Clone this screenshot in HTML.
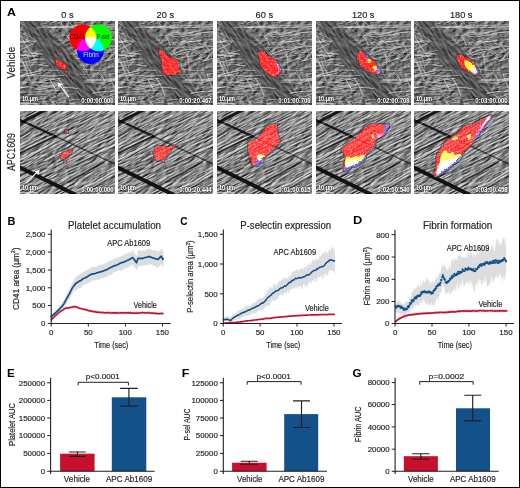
<!DOCTYPE html><html><head><meta charset="utf-8"><style>html,body{margin:0;padding:0;background:#fff;}svg{display:block;}text{font-family:"Liberation Sans",sans-serif;}text.k{stroke:#231f20;stroke-width:0.18px;}</style></head><body>
<svg width="520" height="488" viewBox="0 0 520 488">
<rect x="0" y="0" width="520" height="488" fill="#fff"/>
<text x="6.99" y="15.60" font-size="11" fill="#000" font-weight="bold" textLength="8.93" lengthAdjust="spacingAndGlyphs" >A</text>
<text x="61.23" y="17.50" font-size="9.75" fill="#231f20" class="k" textLength="12.32" lengthAdjust="spacingAndGlyphs" >0 s</text>
<text x="156.61" y="17.50" font-size="9.75" fill="#231f20" class="k" textLength="17.45" lengthAdjust="spacingAndGlyphs" >20 s</text>
<text x="255.61" y="17.50" font-size="9.75" fill="#231f20" class="k" textLength="17.45" lengthAdjust="spacingAndGlyphs" >60 s</text>
<text x="351.92" y="17.50" font-size="9.75" fill="#231f20" class="k" textLength="22.59" lengthAdjust="spacingAndGlyphs" >120 s</text>
<text x="449.92" y="17.50" font-size="9.75" fill="#231f20" class="k" textLength="22.59" lengthAdjust="spacingAndGlyphs" >180 s</text>
<text transform="translate(14.90,78.44) rotate(-90)" font-size="10" fill="#231f20" class="k" textLength="31.67" lengthAdjust="spacingAndGlyphs">Vehicle</text>
<text transform="translate(14.90,171.12) rotate(-90)" font-size="10" fill="#231f20" class="k" textLength="38.14" lengthAdjust="spacingAndGlyphs">APC1609</text>
<defs>
<filter id="fA" x="0" y="0" width="1" height="1" color-interpolation-filters="sRGB">
  <feTurbulence type="fractalNoise" baseFrequency="0.12 0.6" numOctaves="3" seed="3" result="n"/>
  <feColorMatrix in="n" type="matrix" values="1 0 0 0 0  1 0 0 0 0  1 0 0 0 0  0 0 0 0 1" result="g"/>
  <feConvolveMatrix in="g" order="3" kernelMatrix="2 2 0  2 0 -2  0 -2 -2" divisor="3" bias="0.44" preserveAlpha="true"/>
</filter>
<filter id="fB" x="0" y="0" width="1" height="1" color-interpolation-filters="sRGB">
  <feTurbulence type="turbulence" baseFrequency="0.06 0.5" numOctaves="3" seed="5"/>
  <feColorMatrix type="matrix" values="-1.3 0 0 0 0.8  -1.3 0 0 0 0.8  -1.3 0 0 0 0.8  0 0 0 0 1"/>
</filter>
<filter id="fA2" x="0" y="0" width="1" height="1" color-interpolation-filters="sRGB">
  <feTurbulence type="fractalNoise" baseFrequency="0.1 0.7" numOctaves="3" seed="11" result="n"/>
  <feColorMatrix in="n" type="matrix" values="1 0 0 0 0  1 0 0 0 0  1 0 0 0 0  0 0 0 0 1" result="g"/>
  <feConvolveMatrix in="g" order="3" kernelMatrix="2 2 0  2 0 -2  0 -2 -2" divisor="3" bias="0.44" preserveAlpha="true"/>
</filter>
<filter id="fB2" x="0" y="0" width="1" height="1" color-interpolation-filters="sRGB">
  <feTurbulence type="turbulence" baseFrequency="0.05 0.55" numOctaves="3" seed="17"/>
  <feColorMatrix type="matrix" values="-1.3 0 0 0 0.8  -1.3 0 0 0 0.8  -1.3 0 0 0 0.8  0 0 0 0 1"/>
</filter>
<filter id="fR2" x="0" y="0" width="1" height="1" color-interpolation-filters="sRGB">
  <feTurbulence type="fractalNoise" baseFrequency="0.08 0.8" numOctaves="3" seed="23" result="n"/>
  <feColorMatrix in="n" type="matrix" values="1 0 0 0 0  1 0 0 0 0  1 0 0 0 0  0 0 0 0 1" result="g"/>
  <feConvolveMatrix in="g" order="3" kernelMatrix="2 2 0  2 0 -2  0 -2 -2" divisor="2.5" bias="0.515" preserveAlpha="true"/>
</filter>
<filter id="fS2" x="0" y="0" width="1" height="1" color-interpolation-filters="sRGB">
  <feTurbulence type="turbulence" baseFrequency="0.04 0.6" numOctaves="3" seed="29"/>
  <feColorMatrix type="matrix" values="-1.2 0 0 0 0.85  -1.2 0 0 0 0.85  -1.2 0 0 0 0.85  0 0 0 0 1"/>
</filter>
<filter id="fC1" x="0" y="0" width="1" height="1" color-interpolation-filters="sRGB">
  <feTurbulence type="fractalNoise" baseFrequency="0.16 0.3" numOctaves="3" seed="31" result="n"/>
  <feColorMatrix in="n" type="matrix" values="1 0 0 0 0  1 0 0 0 0  1 0 0 0 0  0 0 0 0 1" result="g"/>
  <feConvolveMatrix in="g" order="3" kernelMatrix="2 2 0  2 0 -2  0 -2 -2" divisor="6" bias="0.41" preserveAlpha="true"/>
</filter>
<filter id="fV" x="0" y="0" width="1" height="1" color-interpolation-filters="sRGB">
  <feTurbulence type="fractalNoise" baseFrequency="0.1 0.6" numOctaves="3" seed="41" result="n"/>
  <feColorMatrix in="n" type="matrix" values="1 0 0 0 0  1 0 0 0 0  1 0 0 0 0  0 0 0 0 1" result="g"/>
  <feConvolveMatrix in="g" order="3" kernelMatrix="2 2 0  2 0 -2  0 -2 -2" divisor="9" bias="0.34" preserveAlpha="true"/>
</filter>
<filter id="bl15" x="-30%" y="-30%" width="160%" height="160%"><feGaussianBlur stdDeviation="1.8"/></filter>
<filter id="bl3" x="-30%" y="-30%" width="160%" height="160%"><feGaussianBlur stdDeviation="3.5"/></filter>
<filter id="bl03" x="-5%" y="-5%" width="110%" height="110%"><feGaussianBlur stdDeviation="0.45"/></filter>
<filter id="bl05" x="-20%" y="-20%" width="140%" height="140%"><feGaussianBlur stdDeviation="0.45"/></filter>
<filter id="hfx" x="-20%" y="-20%" width="140%" height="140%" color-interpolation-filters="sRGB">
  <feMorphology operator="dilate" radius="0.75" in="SourceAlpha" result="d"/>
  <feComposite in="d" in2="SourceAlpha" operator="out" result="ring"/>
  <feFlood flood-color="#1f3c3e" flood-opacity="0.6"/>
  <feComposite in2="ring" operator="in" result="h"/>
  <feGaussianBlur in="h" stdDeviation="0.35"/>
</filter>
<filter id="spk" x="-5%" y="-5%" width="110%" height="110%" color-interpolation-filters="sRGB">
  <feTurbulence type="fractalNoise" baseFrequency="0.65" numOctaves="2" seed="2" result="t"/>
  <feColorMatrix in="t" type="matrix" values="0 0 0 0 1  0 0 0 0 1  0 0 0 0 1  2.0 0 0 0 -0.95" result="w"/>
  <feComposite in="w" in2="SourceAlpha" operator="in" result="ws"/>
  <feMerge><feMergeNode in="SourceGraphic"/><feMergeNode in="ws"/></feMerge>
</filter>
<filter id="rag" x="-5%" y="-5%" width="110%" height="110%" color-interpolation-filters="sRGB">
  <feTurbulence type="fractalNoise" baseFrequency="0.7" numOctaves="2" seed="8" result="t"/>
  <feDisplacementMap in="SourceGraphic" in2="t" scale="2.6" xChannelSelector="R" yChannelSelector="G"/>
</filter>
<filter id="ragspk" x="-5%" y="-5%" width="110%" height="110%" color-interpolation-filters="sRGB">
  <feTurbulence type="fractalNoise" baseFrequency="0.7" numOctaves="2" seed="8" result="t"/>
  <feDisplacementMap in="SourceGraphic" in2="t" scale="2.6" xChannelSelector="R" yChannelSelector="G" result="sg"/>
  <feTurbulence type="fractalNoise" baseFrequency="0.55" numOctaves="2" seed="2" result="t2"/>
  <feColorMatrix in="t2" type="matrix" values="0 0 0 0 1  0 0 0 0 0.85  0 0 0 0 0.85  1.5 0 0 0 -0.72" result="w"/>
  <feComposite in="w" in2="sg" operator="in" result="ws"/>
  <feMerge><feMergeNode in="sg"/><feMergeNode in="ws"/></feMerge>
</filter>
<filter id="bfx" x="-20%" y="-20%" width="140%" height="140%" color-interpolation-filters="sRGB">
  <feMorphology operator="dilate" radius="0.7" in="SourceAlpha" result="d"/>
  <feFlood flood-color="#355a5c" flood-opacity="0.75"/>
  <feComposite in2="d" operator="in" result="h"/>
  <feGaussianBlur in="h" stdDeviation="0.45" result="hb"/>
  <feTurbulence type="fractalNoise" baseFrequency="0.55" numOctaves="2" seed="2" result="t"/>
  <feColorMatrix in="t" type="matrix" values="0 0 0 0 1  0 0 0 0 0.7  0 0 0 0 0.7  2.2 0 0 0 -0.95" result="w"/>
  <feComposite in="w" in2="SourceAlpha" operator="in" result="ws"/>
  <feMerge><feMergeNode in="hb"/><feMergeNode in="SourceGraphic"/><feMergeNode in="ws"/></feMerge>
</filter>
<mask id="mD" maskUnits="userSpaceOnUse" x="-10" y="-10" width="115" height="104">
  <polygon points="-5,8 38,0 68,38 100,72 100,92 42,92 -5,52" fill="#fff" filter="url(#bl3)"/>
</mask>
<clipPath id="pc1"><rect x="0" y="0" width="95" height="84"/></clipPath>
<clipPath id="pc2"><rect x="0" y="0" width="95" height="83"/></clipPath>

<mask id="vbm" maskUnits="userSpaceOnUse" x="-10" y="-10" width="115" height="104">
  <polygon points="-3,-2 3.7,7.3 21.9,36.6 45.7,65.8 60.3,86 89,86 80.4,73.1 62.2,47.5 47.5,27.4 27.4,9.1 18,-2" fill="#fff" filter="url(#bl15)"/>
</mask>
<g id="bg1">
  <g transform="rotate(-20 47 42)"><rect x="-40" y="-40" width="180" height="170" filter="url(#fC1)"/></g>
  <g mask="url(#vbm)"><g transform="rotate(55 47 42)"><rect x="-40" y="-40" width="180" height="170" filter="url(#fV)"/></g></g>
  <g filter="url(#bl03)"><g fill="none" stroke="#1a1a1a" stroke-linecap="round"><path d="M89.8,54.1 L91.6,59.6 L93.8,64.9 L96.3,70.0 L99.3,74.9" stroke-width="1.04" opacity="0.43"/><path d="M36.9,20.4 L40.9,20.5 L44.9,20.4 L48.8,20.2 L52.8,19.8" stroke-width="0.63" opacity="0.20"/><path d="M83.5,67.2 L87.6,66.5 L91.8,66.2 L96.0,66.2 L100.2,66.5" stroke-width="0.50" opacity="0.25"/><path d="M10.7,8.2 L14.2,12.7 L17.7,17.2 L21.1,21.8 L24.5,26.4" stroke-width="1.08" opacity="0.10"/><path d="M58.0,9.8 L62.0,13.5 L66.3,16.9 L70.8,20.1 L75.6,22.9" stroke-width="0.72" opacity="0.31"/><path d="M53.4,-3.4 L56.2,-2.6 L58.9,-1.8 L61.7,-1.0 L64.4,-0.2" stroke-width="0.99" opacity="0.31"/><path d="M-1.1,85.8 L0.3,85.7 L1.6,85.6 L2.9,85.5 L4.3,85.5" stroke-width="0.72" opacity="0.48"/><path d="M-14.1,6.7 L-9.1,3.7 L-3.8,1.2 L1.6,-0.9 L7.2,-2.5" stroke-width="0.95" opacity="0.27"/><path d="M91.2,30.2 L92.8,29.4 L94.4,28.7 L96.1,28.1 L97.8,27.6" stroke-width="0.98" opacity="0.47"/><path d="M-6.3,83.7 L-3.4,83.5 L-0.5,83.2 L2.3,82.8 L5.1,82.4" stroke-width="1.05" opacity="0.42"/><path d="M89.4,47.3 L91.0,46.9 L92.6,46.6 L94.2,46.5 L95.9,46.6" stroke-width="0.91" opacity="0.25"/><path d="M7.9,-4.9 L10.4,-1.4 L12.7,2.2 L15.0,5.8 L17.2,9.5" stroke-width="0.64" opacity="0.11"/><path d="M79.7,38.1 L81.0,38.7 L82.3,39.1 L83.7,39.5 L85.1,39.7" stroke-width="1.00" opacity="0.38"/><path d="M74.4,7.2 L76.4,7.4 L78.3,7.5 L80.3,7.6 L82.3,7.7" stroke-width="0.68" opacity="0.50"/><path d="M92.8,69.3 L96.6,72.0 L100.4,74.8 L104.3,77.4 L108.3,79.9" stroke-width="0.67" opacity="0.37"/><path d="M4.3,22.4 L7.4,27.3 L10.7,32.0 L14.1,36.7 L17.7,41.3" stroke-width="0.80" opacity="0.43"/><path d="M-0.2,13.9 L2.6,18.0 L5.2,22.2 L7.7,26.5 L10.1,30.9" stroke-width="0.92" opacity="0.48"/><path d="M71.4,27.3 L73.5,28.8 L75.5,30.5 L77.4,32.2 L79.3,33.9" stroke-width="0.96" opacity="0.37"/><path d="M21.3,77.3 L23.9,80.2 L26.4,83.0 L29.0,85.9 L31.6,88.7" stroke-width="0.90" opacity="0.29"/><path d="M77.5,51.8 L79.7,53.8 L81.6,55.9 L83.5,58.2 L85.2,60.5" stroke-width="0.94" opacity="0.43"/><path d="M22.9,67.0 L27.3,70.9 L31.9,74.4 L36.7,77.6 L41.8,80.5" stroke-width="0.82" opacity="0.39"/><path d="M5.1,65.9 L9.5,66.7 L13.8,67.7 L18.0,68.9 L22.2,70.4" stroke-width="0.87" opacity="0.35"/><path d="M7.4,30.7 L9.6,34.4 L12.0,37.9 L14.6,41.2 L17.4,44.5" stroke-width="0.78" opacity="0.22"/><path d="M-2.9,9.1 L-0.8,9.5 L1.3,9.9 L3.4,10.3 L5.4,10.7" stroke-width="0.52" opacity="0.27"/><path d="M14.3,80.4 L17.5,79.9 L20.6,79.3 L23.7,78.7 L26.9,78.0" stroke-width="1.00" opacity="0.24"/><path d="M-8.3,53.1 L-4.4,52.6 L-0.6,52.4 L3.2,52.6 L7.1,53.2" stroke-width="0.85" opacity="0.32"/><path d="M78.7,33.1 L80.3,34.1 L81.8,35.4 L83.2,36.7 L84.4,38.2" stroke-width="0.84" opacity="0.41"/><path d="M86.5,54.9 L91.8,53.7 L97.2,52.5 L102.6,51.5 L108.0,50.5" stroke-width="0.56" opacity="0.20"/><path d="M56.9,4.8 L59.0,7.5 L60.7,10.3 L62.2,13.2 L63.4,16.3" stroke-width="0.67" opacity="0.28"/><path d="M29.4,79.0 L32.4,81.7 L35.5,84.4 L38.5,87.1 L41.6,89.8" stroke-width="1.09" opacity="0.29"/><path d="M34.2,20.3 L36.7,23.5 L39.2,26.7 L41.7,29.8 L44.2,32.9" stroke-width="0.87" opacity="0.08"/><path d="M24.7,66.2 L25.7,67.1 L26.6,68.1 L27.3,69.2 L28.0,70.3" stroke-width="0.66" opacity="0.39"/><path d="M72.5,18.8 L75.1,19.3 L77.7,19.9 L80.3,20.5 L82.9,21.2" stroke-width="0.78" opacity="0.42"/><path d="M70.1,22.9 L72.8,24.0 L75.4,25.0 L78.1,26.0 L80.8,27.0" stroke-width="0.82" opacity="0.31"/><path d="M30.1,59.0 L31.9,62.0 L33.6,64.9 L35.2,67.9 L36.9,70.9" stroke-width="1.03" opacity="0.53"/><path d="M-10.8,68.3 L-6.9,68.1 L-2.9,68.0 L1.1,67.8 L5.1,67.6" stroke-width="0.88" opacity="0.45"/><path d="M86.0,32.6 L88.7,32.3 L91.3,32.2 L94.0,32.3 L96.6,32.6" stroke-width="0.54" opacity="0.50"/><path d="M58.7,38.5 L63.6,37.7 L68.5,36.9 L73.4,36.1 L78.3,35.3" stroke-width="0.59" opacity="0.53"/><path d="M6.5,41.8 L8.5,46.6 L10.9,51.1 L13.7,55.4 L17.0,59.5" stroke-width="0.90" opacity="0.49"/><path d="M65.9,77.7 L68.4,82.1 L71.0,86.3 L73.9,90.4 L77.0,94.3" stroke-width="1.01" opacity="0.07"/><path d="M6.6,18.6 L7.8,21.6 L9.2,24.5 L10.9,27.3 L12.8,29.9" stroke-width="0.87" opacity="0.26"/><path d="M3.9,31.7 L5.5,31.7 L7.0,31.8 L8.5,32.0 L10.0,32.4" stroke-width="0.95" opacity="0.41"/><path d="M-1.4,39.4 L4.1,37.7 L9.6,36.3 L15.2,35.1 L20.8,34.1" stroke-width="0.53" opacity="0.33"/><path d="M0.5,56.8 L6.1,56.2 L11.6,55.2 L17.0,54.1 L22.4,52.6" stroke-width="0.87" opacity="0.40"/><path d="M50.0,17.6 L51.6,19.3 L53.3,21.0 L55.1,22.5 L57.0,24.0" stroke-width="0.94" opacity="0.33"/><path d="M61.7,57.6 L66.1,57.1 L70.5,56.7 L74.9,56.4 L79.3,56.1" stroke-width="0.57" opacity="0.23"/><path d="M17.9,77.4 L19.3,77.3 L20.7,77.0 L22.0,76.7 L23.4,76.2" stroke-width="0.53" opacity="0.46"/><path d="M92.0,58.5 L93.8,58.7 L95.6,59.0 L97.4,59.4 L99.1,59.9" stroke-width="0.90" opacity="0.55"/><path d="M2.0,54.6 L6.1,54.8 L10.3,54.7 L14.5,54.4 L18.6,53.7" stroke-width="0.73" opacity="0.33"/><path d="M79.8,50.3 L81.4,53.2 L83.0,56.2 L84.5,59.1 L85.9,62.1" stroke-width="0.81" opacity="0.51"/><path d="M-7.2,78.4 L-3.7,78.2 L-0.3,78.0 L3.2,77.8 L6.7,77.4" stroke-width="0.87" opacity="0.52"/><path d="M40.5,7.2 L42.5,6.8 L44.5,6.6 L46.5,6.5 L48.5,6.6" stroke-width="0.73" opacity="0.33"/><path d="M6.8,20.7 L9.2,20.5 L11.6,20.4 L13.9,20.5 L16.3,20.8" stroke-width="0.52" opacity="0.37"/><path d="M29.9,74.6 L31.7,78.7 L33.8,82.7 L36.1,86.4 L38.8,90.0" stroke-width="1.07" opacity="0.37"/><path d="M62.9,20.8 L64.1,22.6 L65.5,24.3 L67.0,25.9 L68.7,27.4" stroke-width="0.64" opacity="0.21"/><path d="M32.3,86.5 L35.0,85.8 L37.7,85.3 L40.4,84.9 L43.1,84.6" stroke-width="0.67" opacity="0.37"/><path d="M62.6,14.9 L67.0,14.3 L71.2,13.4 L75.3,12.1 L79.3,10.3" stroke-width="1.09" opacity="0.36"/><path d="M-0.7,69.3 L0.7,68.6 L2.0,68.0 L3.3,67.4 L4.6,66.8" stroke-width="1.09" opacity="0.40"/><path d="M21.0,5.3 L26.6,6.6 L32.3,7.4 L37.9,7.6 L43.7,7.4" stroke-width="0.65" opacity="0.22"/><path d="M31.1,4.5 L34.3,4.3 L37.4,3.9 L40.5,3.1 L43.6,2.1" stroke-width="0.53" opacity="0.31"/><path d="M94.4,14.8 L96.0,14.4 L97.6,14.0 L99.2,13.6 L100.8,13.2" stroke-width="0.56" opacity="0.31"/><path d="M90.1,47.8 L91.2,49.8 L92.3,51.8 L93.5,53.7 L94.6,55.7" stroke-width="0.82" opacity="0.21"/><path d="M51.8,27.9 L53.5,30.0 L55.4,32.0 L57.3,33.9 L59.4,35.6" stroke-width="1.00" opacity="0.36"/><path d="M-1.1,30.2 L3.6,28.6 L8.1,26.6 L12.4,24.3 L16.6,21.7" stroke-width="0.69" opacity="0.49"/><path d="M-0.4,21.3 L2.0,20.9 L4.3,20.4 L6.6,19.6 L8.9,18.6" stroke-width="0.92" opacity="0.22"/><path d="M-3.7,35.5 L1.1,35.4 L6.0,35.5 L10.8,35.7 L15.6,36.0" stroke-width="1.04" opacity="0.40"/><path d="M63.8,49.2 L69.6,49.8 L75.4,50.2 L81.1,50.2 L86.9,50.0" stroke-width="0.92" opacity="0.46"/><path d="M77.9,33.2 L79.4,32.7 L80.8,32.2 L82.3,31.8 L83.9,31.4" stroke-width="0.66" opacity="0.26"/><path d="M23.5,1.4 L24.7,2.4 L25.7,3.5 L26.7,4.6 L27.6,5.8" stroke-width="0.71" opacity="0.25"/><path d="M88.7,53.5 L92.0,53.7 L95.3,53.6 L98.6,53.2 L101.8,52.4" stroke-width="0.70" opacity="0.33"/><path d="M-5.7,47.0 L-0.0,46.6 L5.7,46.0 L11.3,45.3 L16.9,44.3" stroke-width="0.57" opacity="0.49"/><path d="M85.2,41.1 L88.4,40.2 L91.7,39.3 L94.9,38.5 L98.2,37.7" stroke-width="1.06" opacity="0.48"/><path d="M94.4,51.5 L95.9,51.5 L97.4,51.5 L98.9,51.5 L100.4,51.5" stroke-width="0.52" opacity="0.55"/><path d="M41.8,78.3 L44.0,77.8 L46.2,77.2 L48.4,76.7 L50.6,76.2" stroke-width="0.62" opacity="0.30"/><path d="M21.4,67.2 L27.2,66.2 L33.0,65.2 L38.9,64.4 L44.8,63.7" stroke-width="1.01" opacity="0.50"/><path d="M33.9,4.7 L35.5,7.9 L37.2,11.1 L39.2,14.1 L41.4,16.9" stroke-width="0.60" opacity="0.21"/><path d="M74.7,18.1 L77.0,22.6 L79.3,27.1 L81.6,31.5 L83.9,36.0" stroke-width="0.51" opacity="0.34"/><path d="M51.9,15.9 L54.6,15.3 L57.2,14.7 L59.9,13.9 L62.5,13.1" stroke-width="0.69" opacity="0.21"/><path d="M93.2,66.1 L96.0,68.6 L98.8,71.2 L101.6,73.8 L104.3,76.4" stroke-width="0.72" opacity="0.49"/><path d="M63.9,45.9 L65.4,45.4 L66.9,44.8 L68.5,44.4 L70.0,43.9" stroke-width="0.71" opacity="0.23"/><path d="M66.1,61.7 L70.7,61.7 L75.4,61.9 L80.0,62.2 L84.6,62.7" stroke-width="0.95" opacity="0.23"/><path d="M88.7,71.2 L92.1,75.3 L95.6,79.1 L99.4,82.7 L103.5,86.1" stroke-width="0.87" opacity="0.47"/><path d="M43.7,77.6 L46.7,78.4 L49.8,78.9 L52.9,79.3 L56.0,79.5" stroke-width="0.73" opacity="0.20"/><path d="M58.8,71.4 L61.7,75.0 L64.5,78.7 L67.1,82.4 L69.6,86.3" stroke-width="0.57" opacity="0.11"/><path d="M77.7,18.1 L83.2,17.1 L88.7,16.5 L94.2,16.1 L99.7,16.0" stroke-width="0.88" opacity="0.26"/><path d="M82.5,23.7 L86.4,25.0 L90.5,25.9 L94.6,26.4 L98.7,26.5" stroke-width="0.61" opacity="0.55"/><path d="M2.9,42.0 L5.5,45.1 L8.0,48.3 L10.4,51.6 L12.6,55.1" stroke-width="0.91" opacity="0.43"/><path d="M-4.0,31.7 L-0.8,36.5 L2.3,41.3 L5.3,46.3 L8.1,51.4" stroke-width="1.01" opacity="0.31"/><path d="M91.1,15.6 L91.8,17.2 L92.7,18.7 L93.6,20.1 L94.7,21.5" stroke-width="0.59" opacity="0.27"/><path d="M2.1,55.6 L6.7,54.0 L11.4,52.7 L16.2,51.7 L21.0,51.0" stroke-width="0.99" opacity="0.47"/><path d="M67.2,77.5 L68.7,79.4 L70.3,81.3 L72.0,83.0 L73.8,84.7" stroke-width="0.54" opacity="0.08"/><path d="M66.5,8.4 L70.0,6.8 L73.6,5.3 L77.1,3.9 L80.7,2.5" stroke-width="0.57" opacity="0.34"/><path d="M31.9,58.4 L33.4,59.0 L34.9,59.6 L36.4,60.1 L37.9,60.5" stroke-width="0.93" opacity="0.47"/><path d="M-1.5,42.6 L3.2,42.1 L7.9,41.4 L12.6,40.5 L17.2,39.4" stroke-width="0.73" opacity="0.53"/><path d="M53.1,24.4 L54.6,24.4 L56.1,24.4 L57.5,24.5 L59.0,24.7" stroke-width="0.64" opacity="0.35"/><path d="M-3.5,24.0 L-0.1,23.3 L3.3,22.4 L6.7,21.6 L10.1,20.6" stroke-width="0.82" opacity="0.55"/><path d="M83.9,6.8 L88.8,6.8 L93.7,6.6 L98.6,6.2 L103.4,5.5" stroke-width="0.51" opacity="0.33"/><path d="M-3.2,12.5 L-1.2,15.2 L1.0,17.8 L3.2,20.2 L5.6,22.6" stroke-width="0.55" opacity="0.37"/><path d="M86.0,58.8 L91.0,58.7 L95.9,58.9 L100.8,59.6 L105.7,60.7" stroke-width="0.86" opacity="0.36"/><path d="M-12.7,67.3 L-7.3,67.4 L-1.9,67.4 L3.5,67.3 L8.9,67.0" stroke-width="1.05" opacity="0.50"/><path d="M97.7,60.1 L98.9,63.1 L100.2,66.1 L101.6,69.0 L103.3,71.8" stroke-width="1.10" opacity="0.55"/><path d="M21.6,57.2 L23.6,57.6 L25.7,58.0 L27.7,58.3 L29.7,58.6" stroke-width="0.54" opacity="0.36"/><path d="M78.6,74.6 L84.1,76.6 L89.7,78.2 L95.3,79.5 L101.1,80.5" stroke-width="0.58" opacity="0.42"/><path d="M88.0,82.4 L90.1,82.2 L92.2,82.1 L94.3,82.1 L96.5,82.1" stroke-width="0.66" opacity="0.35"/><path d="M26.9,72.4 L30.7,69.9 L34.6,67.4 L38.6,65.1 L42.6,62.9" stroke-width="0.57" opacity="0.23"/><path d="M48.8,85.8 L52.7,85.0 L56.6,84.5 L60.6,84.1 L64.5,83.8" stroke-width="0.83" opacity="0.29"/><path d="M7.8,35.0 L9.0,38.0 L10.0,41.1 L10.8,44.2 L11.4,47.4" stroke-width="0.87" opacity="0.38"/><path d="M-4.7,43.3 L-1.6,43.3 L1.5,43.2 L4.6,43.0 L7.6,42.6" stroke-width="0.51" opacity="0.32"/><path d="M36.6,49.0 L40.3,52.4 L43.6,56.2 L46.6,60.3 L49.1,64.7" stroke-width="1.07" opacity="0.17"/><path d="M24.9,8.9 L26.1,10.9 L27.3,12.9 L28.5,14.9 L29.7,16.9" stroke-width="0.94" opacity="0.11"/><path d="M32.9,82.5 L34.6,81.8 L36.4,81.1 L38.2,80.4 L40.0,79.7" stroke-width="0.80" opacity="0.33"/><path d="M14.1,39.3 L15.7,38.8 L17.3,38.4 L19.0,38.2 L20.7,38.2" stroke-width="0.59" opacity="0.32"/><path d="M67.0,16.0 L70.5,18.4 L73.8,21.0 L77.0,23.9 L79.9,27.0" stroke-width="0.66" opacity="0.29"/><path d="M37.9,79.4 L39.8,79.0 L41.6,78.6 L43.5,78.3 L45.4,77.9" stroke-width="0.94" opacity="0.22"/><path d="M-6.1,0.7 L-4.7,1.2 L-3.3,1.7 L-2.0,2.2 L-0.7,2.9" stroke-width="0.57" opacity="0.41"/><path d="M86.3,8.4 L90.8,8.2 L95.3,8.0 L99.7,7.7 L104.2,7.4" stroke-width="0.54" opacity="0.23"/><path d="M0.9,51.2 L2.1,53.4 L3.1,55.7 L4.0,58.0 L4.8,60.3" stroke-width="0.50" opacity="0.31"/><path d="M45.8,78.6 L47.8,78.6 L49.8,78.7 L51.8,79.1 L53.7,79.6" stroke-width="0.66" opacity="0.28"/><path d="M1.2,33.5 L2.5,34.8 L3.9,36.2 L5.2,37.5 L6.6,38.9" stroke-width="0.91" opacity="0.38"/><path d="M50.8,80.8 L53.3,80.1 L55.7,79.6 L58.2,79.3 L60.8,79.2" stroke-width="0.82" opacity="0.38"/><path d="M-1.6,20.9 L2.7,21.6 L6.9,21.9 L11.1,21.9 L15.4,21.5" stroke-width="1.07" opacity="0.43"/><path d="M68.0,29.5 L72.3,29.4 L76.6,28.9 L80.7,28.1 L84.8,26.8" stroke-width="0.85" opacity="0.50"/><path d="M93.4,27.7 L95.2,30.4 L97.3,32.8 L99.5,35.1 L101.9,37.2" stroke-width="0.56" opacity="0.32"/><path d="M68.5,32.9 L69.8,33.7 L71.0,34.6 L72.2,35.7 L73.3,36.8" stroke-width="0.61" opacity="0.31"/><path d="M1.3,34.6 L4.0,34.6 L6.6,34.9 L9.2,35.4 L11.7,36.1" stroke-width="0.81" opacity="0.24"/><path d="M85.1,40.2 L90.0,40.6 L95.0,40.7 L99.8,40.3 L104.7,39.5" stroke-width="0.82" opacity="0.24"/><path d="M87.6,47.9 L93.4,47.3 L99.3,46.7 L105.1,46.1 L110.9,45.6" stroke-width="0.63" opacity="0.35"/><path d="M87.7,21.9 L89.9,27.1 L92.1,32.2 L94.2,37.4 L96.3,42.6" stroke-width="0.99" opacity="0.32"/><path d="M2.8,-6.4 L6.2,-1.6 L9.9,3.0 L13.7,7.5 L17.7,11.9" stroke-width="0.80" opacity="0.13"/><path d="M64.0,21.3 L68.9,21.5 L73.8,21.5 L78.6,21.2 L83.4,20.7" stroke-width="0.58" opacity="0.42"/><path d="M92.0,9.1 L96.2,9.3 L100.4,9.6 L104.5,10.0 L108.7,10.7" stroke-width="0.60" opacity="0.51"/><path d="M0.8,49.9 L3.7,50.4 L6.6,50.6 L9.6,50.6 L12.5,50.3" stroke-width="0.93" opacity="0.22"/><path d="M67.5,21.3 L71.5,24.9 L75.6,28.5 L79.8,31.8 L84.2,35.1" stroke-width="0.67" opacity="0.53"/><path d="M81.4,11.3 L84.5,10.4 L87.6,9.7 L90.8,9.0 L94.0,8.4" stroke-width="0.58" opacity="0.55"/><path d="M64.5,62.7 L69.8,62.5 L75.1,62.7 L80.4,63.3 L85.7,64.2" stroke-width="0.75" opacity="0.44"/><path d="M61.5,23.3 L64.2,25.6 L66.9,28.2 L69.3,30.9 L71.6,33.7" stroke-width="0.87" opacity="0.46"/><path d="M1.9,42.3 L7.1,42.4 L12.3,42.5 L17.6,42.5 L22.8,42.5" stroke-width="0.82" opacity="0.22"/><path d="M-1.3,11.4 L3.5,13.5 L8.3,15.8 L13.0,18.3 L17.6,20.9" stroke-width="1.00" opacity="0.29"/><path d="M27.3,56.6 L31.7,56.2 L36.0,55.9 L40.4,55.6 L44.7,55.3" stroke-width="0.95" opacity="0.41"/><path d="M19.9,73.7 L21.4,73.8 L23.0,73.8 L24.5,73.7 L26.0,73.4" stroke-width="0.96" opacity="0.21"/><path d="M41.0,34.1 L42.4,35.7 L43.8,37.3 L45.1,38.9 L46.4,40.6" stroke-width="0.96" opacity="0.15"/><path d="M76.8,44.8 L80.5,48.6 L83.9,52.7 L87.0,57.0 L89.7,61.6" stroke-width="0.51" opacity="0.42"/><path d="M93.5,16.7 L96.6,16.8 L99.6,16.6 L102.5,16.1 L105.5,15.3" stroke-width="0.63" opacity="0.23"/><path d="M30.2,3.8 L33.2,8.4 L36.2,13.0 L39.4,17.5 L42.7,21.9" stroke-width="0.63" opacity="0.45"/><path d="M39.1,58.3 L41.7,62.4 L44.0,66.7 L46.0,71.2 L47.8,75.7" stroke-width="1.05" opacity="0.51"/><path d="M84.1,63.3 L86.2,62.6 L88.2,62.0 L90.3,61.4 L92.4,61.0" stroke-width="0.65" opacity="0.32"/><path d="M73.0,15.1 L74.7,15.3 L76.4,15.4 L78.1,15.4 L79.8,15.3" stroke-width="0.72" opacity="0.42"/><path d="M19.4,-0.1 L22.6,-0.8 L25.8,-1.5 L29.0,-2.2 L32.2,-2.8" stroke-width="0.50" opacity="0.24"/><path d="M92.2,73.0 L94.2,72.9 L96.2,72.9 L98.1,72.9 L100.1,72.9" stroke-width="0.54" opacity="0.20"/><path d="M70.5,35.9 L72.8,38.4 L75.1,40.9 L77.4,43.4 L79.7,45.9" stroke-width="0.86" opacity="0.53"/><path d="M8.2,36.4 L10.9,36.3 L13.5,36.2 L16.2,36.2 L18.8,36.2" stroke-width="0.54" opacity="0.49"/><path d="M16.1,55.5 L17.3,56.7 L18.6,57.9 L19.9,58.9 L21.2,60.0" stroke-width="0.74" opacity="0.46"/><path d="M78.2,68.8 L81.8,67.9 L85.5,67.4 L89.2,67.1 L92.9,67.2" stroke-width="0.88" opacity="0.23"/><path d="M55.5,2.6 L59.0,2.3 L62.5,1.9 L65.9,1.3 L69.3,0.5" stroke-width="0.59" opacity="0.36"/><path d="M40.7,1.7 L41.6,3.1 L42.7,4.4 L43.8,5.7 L44.9,6.9" stroke-width="1.06" opacity="0.31"/><path d="M4.1,26.1 L5.0,27.5 L5.8,29.0 L6.5,30.4 L7.3,32.0" stroke-width="0.63" opacity="0.32"/><path d="M38.9,2.4 L41.3,4.8 L43.8,7.0 L46.5,9.1 L49.3,11.1" stroke-width="0.53" opacity="0.51"/><path d="M21.5,14.5 L23.9,17.9 L26.1,21.4 L28.0,25.1 L29.7,28.9" stroke-width="0.80" opacity="0.10"/><path d="M49.4,33.8 L54.8,33.9 L60.2,34.2 L65.6,34.5 L71.0,35.0" stroke-width="0.72" opacity="0.31"/><path d="M48.1,13.0 L52.9,13.0 L57.6,13.2 L62.3,13.6 L67.0,14.3" stroke-width="0.57" opacity="0.21"/><path d="M82.0,5.5 L86.4,5.2 L90.7,4.6 L95.0,3.7 L99.3,2.5" stroke-width="0.77" opacity="0.21"/><path d="M20.0,62.1 L25.2,60.7 L30.4,59.6 L35.6,58.9 L40.9,58.5" stroke-width="0.87" opacity="0.50"/><path d="M3.4,42.0 L8.7,40.6 L14.1,39.6 L19.5,39.2 L25.0,39.2" stroke-width="0.97" opacity="0.33"/><path d="M85.9,24.5 L90.4,28.5 L94.7,32.6 L98.8,37.0 L102.8,41.5" stroke-width="0.95" opacity="0.25"/><path d="M37.9,25.5 L40.8,24.2 L43.7,23.0 L46.6,21.7 L49.4,20.4" stroke-width="0.87" opacity="0.29"/><path d="M57.2,38.4 L58.6,38.7 L60.0,38.9 L61.4,39.1 L62.8,39.2" stroke-width="0.90" opacity="0.49"/><path d="M86.2,68.8 L88.2,68.4 L90.2,68.0 L92.2,67.6 L94.2,67.2" stroke-width="0.53" opacity="0.54"/><path d="M19.7,44.6 L22.0,45.1 L24.3,45.5 L26.6,45.7 L28.9,45.9" stroke-width="0.97" opacity="0.56"/><path d="M38.1,0.2 L40.7,0.8 L43.4,1.2 L46.2,1.4 L48.9,1.4" stroke-width="0.54" opacity="0.29"/><path d="M99.7,54.1 L99.4,59.3 L99.4,64.5 L99.8,69.8 L100.5,74.9" stroke-width="0.65" opacity="0.48"/><path d="M21.4,4.1 L22.6,3.8 L23.9,3.6 L25.2,3.5 L26.5,3.5" stroke-width="1.01" opacity="0.31"/><path d="M66.6,57.0 L69.2,60.5 L71.9,64.0 L74.8,67.3 L77.8,70.5" stroke-width="0.84" opacity="0.11"/><path d="M-5.4,21.4 L-3.0,21.3 L-0.6,21.3 L1.9,21.3 L4.3,21.2" stroke-width="1.07" opacity="0.33"/><path d="M80.2,60.4 L81.9,62.6 L83.6,64.8 L85.2,67.1 L86.8,69.4" stroke-width="0.69" opacity="0.34"/><path d="M77.3,69.5 L81.4,69.5 L85.4,69.4 L89.4,69.1 L93.4,68.6" stroke-width="0.50" opacity="0.28"/><path d="M54.2,19.8 L55.6,21.5 L57.0,23.2 L58.4,25.0 L59.7,26.7" stroke-width="0.57" opacity="0.53"/><path d="M83.4,48.7 L85.5,51.5 L87.4,54.3 L89.2,57.3 L90.8,60.4" stroke-width="0.56" opacity="0.40"/><path d="M78.9,18.4 L81.0,21.9 L83.4,25.3 L85.9,28.6 L88.5,31.8" stroke-width="0.69" opacity="0.44"/><path d="M2.7,29.1 L5.9,33.8 L9.3,38.3 L12.8,42.7 L16.6,47.0" stroke-width="0.80" opacity="0.21"/><path d="M-7.4,22.2 L-4.3,22.3 L-1.1,22.4 L2.0,22.4 L5.2,22.2" stroke-width="0.55" opacity="0.53"/><path d="M57.6,54.7 L63.1,54.5 L68.6,54.2 L74.1,53.9 L79.6,53.6" stroke-width="0.65" opacity="0.36"/><path d="M42.0,3.2 L44.6,7.1 L47.0,11.1 L49.1,15.3 L51.0,19.5" stroke-width="0.82" opacity="0.37"/><path d="M90.7,54.9 L93.3,53.9 L96.0,52.9 L98.7,52.1 L101.4,51.2" stroke-width="0.72" opacity="0.45"/><path d="M54.3,50.0 L56.9,54.3 L59.6,58.5 L62.6,62.5 L65.9,66.4" stroke-width="0.92" opacity="0.14"/><path d="M65.6,21.6 L70.2,20.0 L74.8,18.4 L79.4,16.7 L84.0,15.0" stroke-width="1.06" opacity="0.37"/><path d="M45.9,88.2 L50.4,87.3 L55.0,86.6 L59.6,86.2 L64.3,86.1" stroke-width="0.55" opacity="0.54"/><path d="M60.0,40.6 L62.4,43.3 L64.6,46.1 L66.5,49.1 L68.1,52.3" stroke-width="0.92" opacity="0.42"/><path d="M73.4,73.4 L76.6,72.7 L79.9,72.1 L83.1,71.7 L86.4,71.5" stroke-width="1.07" opacity="0.53"/><path d="M20.1,69.2 L25.4,68.2 L30.6,67.2 L35.9,66.2 L41.2,65.1" stroke-width="1.08" opacity="0.46"/><path d="M-6.2,86.3 L-2.9,84.8 L0.6,83.6 L4.1,82.8 L7.7,82.2" stroke-width="0.61" opacity="0.22"/><path d="M19.7,17.5 L22.0,21.3 L24.5,24.9 L27.0,28.5 L29.7,32.0" stroke-width="0.79" opacity="0.16"/><path d="M40.9,7.5 L43.3,8.3 L45.8,8.9 L48.3,9.2 L50.8,9.4" stroke-width="0.97" opacity="0.25"/><path d="M30.2,66.4 L36.0,66.8 L41.7,67.0 L47.5,67.2 L53.2,67.3" stroke-width="1.04" opacity="0.22"/><path d="M-11.1,15.1 L-8.0,18.7 L-4.7,21.9 L-1.0,24.8 L2.9,27.4" stroke-width="0.99" opacity="0.47"/><path d="M21.1,29.4 L23.8,35.0 L27.0,40.4 L30.6,45.4 L34.6,50.2" stroke-width="0.68" opacity="0.13"/><path d="M22.8,83.9 L25.5,83.6 L28.2,83.3 L30.9,82.9 L33.6,82.5" stroke-width="0.65" opacity="0.48"/><path d="M-0.5,13.9 L2.9,16.7 L6.4,19.5 L9.9,22.2 L13.6,24.8" stroke-width="0.81" opacity="0.44"/><path d="M33.7,-4.7 L35.9,-2.9 L38.1,-1.2 L40.4,0.6 L42.6,2.3" stroke-width="0.69" opacity="0.28"/><path d="M6.6,74.6 L12.1,74.3 L17.6,74.1 L23.1,74.2 L28.6,74.6" stroke-width="0.67" opacity="0.41"/><path d="M-4.9,70.9 L-1.9,74.1 L0.9,77.5 L3.5,81.1 L5.8,84.9" stroke-width="0.76" opacity="0.22"/><path d="M53.7,16.2 L55.8,16.2 L58.0,16.4 L60.0,16.7 L62.1,17.2" stroke-width="1.04" opacity="0.36"/><path d="M35.7,68.3 L41.5,67.7 L47.3,67.6 L53.0,67.9 L58.8,68.6" stroke-width="0.79" opacity="0.51"/><path d="M15.7,83.6 L21.2,85.2 L26.7,86.6 L32.3,87.8 L37.9,88.7" stroke-width="0.54" opacity="0.46"/><path d="M-4.3,30.1 L-2.3,29.7 L-0.3,29.3 L1.7,28.8 L3.7,28.3" stroke-width="0.81" opacity="0.28"/><path d="M15.9,25.9 L19.2,30.9 L22.9,35.6 L27.0,40.0 L31.4,44.1" stroke-width="1.03" opacity="0.07"/><path d="M9.5,59.5 L12.8,62.0 L16.1,64.5 L19.5,67.0 L22.9,69.4" stroke-width="0.93" opacity="0.37"/><path d="M-4.4,80.2 L-2.6,82.1 L-0.8,83.8 L1.2,85.5 L3.3,87.0" stroke-width="0.80" opacity="0.48"/><path d="M81.6,81.0 L85.0,81.4 L88.4,81.7 L91.8,81.9 L95.3,82.0" stroke-width="0.88" opacity="0.28"/><path d="M36.9,82.8 L41.1,82.7 L45.3,82.8 L49.5,83.0 L53.7,83.4" stroke-width="0.97" opacity="0.41"/><path d="M13.5,36.6 L14.7,36.1 L16.0,35.5 L17.2,34.9 L18.3,34.2" stroke-width="0.70" opacity="0.45"/><path d="M-8.4,-5.9 L-5.3,-2.7 L-2.0,0.3 L1.5,3.1 L5.1,5.7" stroke-width="0.92" opacity="0.53"/><path d="M95.4,6.8 L97.5,10.6 L99.6,14.3 L101.6,18.2 L103.5,22.0" stroke-width="1.03" opacity="0.30"/><path d="M63.5,3.6 L66.6,7.2 L69.9,10.6 L73.3,13.9 L76.8,17.1" stroke-width="0.66" opacity="0.32"/><path d="M90.6,55.8 L94.4,56.9 L98.2,57.7 L102.1,58.2 L106.0,58.4" stroke-width="0.66" opacity="0.44"/><path d="M3.3,40.4 L5.1,45.4 L6.9,50.3 L8.8,55.3 L10.8,60.2" stroke-width="0.80" opacity="0.56"/><path d="M50.9,3.4 L53.5,6.1 L56.1,8.8 L58.6,11.6 L61.1,14.4" stroke-width="0.83" opacity="0.47"/><path d="M52.4,8.6 L54.2,8.2 L56.1,8.0 L57.9,7.9 L59.8,7.9" stroke-width="0.95" opacity="0.49"/><path d="M32.6,7.0 L34.3,8.5 L36.1,9.9 L38.0,11.2 L39.9,12.5" stroke-width="0.92" opacity="0.44"/><path d="M-8.7,49.8 L-6.4,50.3 L-4.1,51.0 L-1.9,51.6 L0.3,52.3" stroke-width="0.76" opacity="0.46"/><path d="M30.6,3.2 L33.4,2.2 L36.2,1.3 L39.0,0.3 L41.8,-0.7" stroke-width="0.89" opacity="0.45"/><path d="M74.8,27.7 L78.0,27.5 L81.3,27.2 L84.6,27.0 L87.8,26.8" stroke-width="0.52" opacity="0.52"/><path d="M76.1,80.3 L81.0,78.9 L85.8,77.3 L90.6,75.6 L95.3,73.7" stroke-width="1.06" opacity="0.39"/><path d="M62.3,51.6 L64.1,53.5 L65.6,55.5 L67.1,57.5 L68.4,59.7" stroke-width="0.54" opacity="0.14"/><path d="M6.6,8.0 L8.5,11.7 L10.6,15.3 L12.8,18.7 L15.3,22.1" stroke-width="0.71" opacity="0.15"/><path d="M25.6,84.3 L30.1,84.8 L34.5,85.6 L38.8,86.8 L43.0,88.4" stroke-width="0.94" opacity="0.30"/><path d="M48.2,11.3 L52.7,14.9 L57.5,18.3 L62.4,21.3 L67.5,24.1" stroke-width="0.59" opacity="0.41"/><path d="M54.7,3.4 L58.2,2.6 L61.7,2.0 L65.3,1.4 L68.9,1.0" stroke-width="0.84" opacity="0.23"/><path d="M18.9,50.0 L23.9,50.0 L28.9,50.1 L33.9,50.3 L38.9,50.5" stroke-width="0.88" opacity="0.41"/><path d="M79.5,6.2 L80.8,6.3 L82.0,6.4 L83.3,6.6 L84.6,7.0" stroke-width="0.87" opacity="0.52"/><path d="M59.9,34.8 L64.7,33.6 L69.4,32.2 L74.0,30.6 L78.5,28.7" stroke-width="0.78" opacity="0.46"/><path d="M22.1,81.5 L28.0,81.4 L33.9,81.6 L39.7,82.1 L45.6,82.8" stroke-width="0.62" opacity="0.26"/><path d="M20.1,49.5 L22.3,50.2 L24.4,51.1 L26.5,52.1 L28.5,53.3" stroke-width="0.76" opacity="0.40"/><path d="M5.2,81.0 L7.9,80.4 L10.6,80.0 L13.3,79.8 L16.1,79.7" stroke-width="0.72" opacity="0.55"/><path d="M91.5,60.5 L94.8,60.7 L98.1,60.7 L101.4,60.7 L104.7,60.5" stroke-width="0.65" opacity="0.26"/><path d="M9.2,59.5 L11.1,59.5 L13.0,59.4 L15.0,59.1 L16.8,58.7" stroke-width="0.76" opacity="0.24"/><path d="M48.0,16.5 L49.5,18.5 L50.8,20.7 L52.0,22.9 L53.0,25.3" stroke-width="1.07" opacity="0.51"/><path d="M11.9,80.9 L15.7,81.4 L19.5,81.7 L23.3,82.0 L27.1,82.1" stroke-width="0.95" opacity="0.29"/><path d="M85.7,62.1 L87.0,61.9 L88.4,61.6 L89.8,61.3 L91.1,61.0" stroke-width="0.75" opacity="0.30"/><path d="M48.1,-4.0 L52.6,-3.5 L57.0,-2.5 L61.3,-1.1 L65.5,0.8" stroke-width="0.86" opacity="0.45"/><path d="M67.8,43.1 L73.3,41.5 L78.7,39.7 L84.1,37.7 L89.3,35.5" stroke-width="0.86" opacity="0.40"/><path d="M66.7,30.4 L65.7,36.1 L65.0,41.8 L64.4,47.6 L64.0,53.3" stroke-width="0.54" opacity="0.22"/><path d="M79.0,48.4 L80.7,48.4 L82.4,48.4 L84.1,48.2 L85.9,47.9" stroke-width="0.58" opacity="0.29"/><path d="M63.5,16.7 L68.6,15.7 L73.7,14.8 L78.9,14.2 L84.1,13.9" stroke-width="1.03" opacity="0.43"/><path d="M66.3,22.8 L69.3,22.4 L72.3,22.0 L75.4,21.6 L78.4,21.2" stroke-width="1.05" opacity="0.34"/><path d="M69.5,54.8 L74.5,54.9 L79.5,54.9 L84.5,54.8 L89.5,54.5" stroke-width="0.65" opacity="0.28"/><path d="M39.2,27.8 L41.5,31.7 L43.8,35.7 L46.1,39.7 L48.4,43.7" stroke-width="0.71" opacity="0.10"/><path d="M1.8,36.1 L7.1,34.5 L12.4,33.1 L17.8,31.6 L23.1,30.3" stroke-width="0.73" opacity="0.41"/><path d="M47.2,16.3 L50.4,14.7 L53.8,13.3 L57.2,12.2 L60.7,11.2" stroke-width="0.77" opacity="0.27"/><path d="M57.8,28.7 L60.3,28.0 L62.9,27.4 L65.5,26.8 L68.2,26.3" stroke-width="0.74" opacity="0.37"/><path d="M80.2,33.2 L84.1,32.6 L87.9,31.8 L91.7,30.8 L95.5,29.7" stroke-width="0.65" opacity="0.44"/><path d="M88.0,5.9 L90.6,8.1 L92.9,10.6 L95.0,13.2 L96.9,16.1" stroke-width="0.61" opacity="0.29"/><path d="M-2.8,5.2 L-1.2,7.8 L0.2,10.5 L1.3,13.3 L2.1,16.3" stroke-width="0.97" opacity="0.27"/><path d="M6.5,59.7 L12.0,60.7 L17.4,61.6 L22.8,62.5 L28.3,63.3" stroke-width="0.58" opacity="0.44"/><path d="M57.8,12.5 L63.8,12.9 L69.7,12.7 L75.7,12.0 L81.5,10.8" stroke-width="0.89" opacity="0.53"/><path d="M69.3,34.6 L70.1,36.0 L70.8,37.4 L71.5,38.9 L72.1,40.4" stroke-width="1.07" opacity="0.25"/><path d="M84.9,12.7 L89.4,12.3 L93.9,11.7 L98.3,10.8 L102.7,9.8" stroke-width="0.78" opacity="0.35"/><path d="M91.0,71.3 L93.9,71.0 L96.8,70.5 L99.5,69.8 L102.3,68.8" stroke-width="1.06" opacity="0.52"/><path d="M54.0,34.8 L57.5,33.1 L61.0,31.6 L64.7,30.4 L68.5,29.5" stroke-width="0.88" opacity="0.51"/><path d="M13.8,69.1 L17.7,69.4 L21.7,69.6 L25.7,69.9 L29.7,70.1" stroke-width="1.04" opacity="0.28"/><path d="M50.2,80.0 L50.8,82.5 L51.5,84.9 L52.3,87.3 L53.1,89.6" stroke-width="0.87" opacity="0.45"/><path d="M61.5,29.1 L63.6,30.7 L65.9,32.1 L68.2,33.3 L70.7,34.4" stroke-width="0.70" opacity="0.26"/><path d="M82.7,86.8 L85.1,87.4 L87.4,87.8 L89.8,88.0 L92.2,88.2" stroke-width="1.01" opacity="0.52"/><path d="M12.4,33.3 L15.1,33.3 L17.7,33.5 L20.4,33.7 L23.1,34.1" stroke-width="1.08" opacity="0.53"/><path d="M13.8,65.0 L19.2,65.2 L24.5,65.7 L29.9,66.5 L35.2,67.5" stroke-width="0.92" opacity="0.35"/><path d="M8.9,26.3 L10.0,28.8 L11.2,31.2 L12.6,33.6 L14.2,35.8" stroke-width="1.02" opacity="0.36"/><path d="M67.4,32.8 L69.2,36.0 L71.3,39.1 L73.7,41.9 L76.4,44.5" stroke-width="0.74" opacity="0.33"/></g><g fill="none" stroke="#f2f2f2" stroke-linecap="round"><path d="M89.2,53.2 L91.0,58.7 L93.2,64.0 L95.7,69.1 L98.7,74.0" stroke-width="1.04" opacity="0.54"/><path d="M36.3,19.5 L40.3,19.6 L44.3,19.5 L48.2,19.3 L52.2,18.9" stroke-width="0.63" opacity="0.26"/><path d="M82.9,66.3 L87.0,65.6 L91.2,65.3 L95.4,65.3 L99.6,65.6" stroke-width="0.50" opacity="0.31"/><path d="M10.1,7.3 L13.6,11.8 L17.1,16.3 L20.5,20.9 L23.9,25.5" stroke-width="1.08" opacity="0.12"/><path d="M57.4,8.9 L61.4,12.6 L65.7,16.0 L70.2,19.2 L75.0,22.0" stroke-width="0.72" opacity="0.38"/><path d="M52.8,-4.3 L55.6,-3.5 L58.3,-2.7 L61.1,-1.9 L63.8,-1.1" stroke-width="0.99" opacity="0.39"/><path d="M-1.7,84.9 L-0.3,84.8 L1.0,84.7 L2.3,84.6 L3.7,84.6" stroke-width="0.72" opacity="0.60"/><path d="M-14.7,5.8 L-9.7,2.8 L-4.4,0.3 L1.0,-1.8 L6.6,-3.4" stroke-width="0.95" opacity="0.34"/><path d="M90.6,29.3 L92.2,28.5 L93.8,27.8 L95.5,27.2 L97.2,26.7" stroke-width="0.98" opacity="0.59"/><path d="M-6.9,82.8 L-4.0,82.6 L-1.1,82.3 L1.7,81.9 L4.5,81.5" stroke-width="1.05" opacity="0.52"/><path d="M88.8,46.4 L90.4,46.0 L92.0,45.7 L93.6,45.6 L95.3,45.7" stroke-width="0.91" opacity="0.32"/><path d="M7.3,-5.8 L9.8,-2.3 L12.1,1.3 L14.4,4.9 L16.6,8.6" stroke-width="0.64" opacity="0.14"/><path d="M79.1,37.2 L80.4,37.8 L81.7,38.2 L83.1,38.6 L84.5,38.8" stroke-width="1.00" opacity="0.47"/><path d="M73.8,6.3 L75.8,6.5 L77.7,6.6 L79.7,6.7 L81.7,6.8" stroke-width="0.68" opacity="0.63"/><path d="M92.2,68.4 L96.0,71.1 L99.8,73.9 L103.7,76.5 L107.7,79.0" stroke-width="0.67" opacity="0.47"/><path d="M3.7,21.5 L6.8,26.4 L10.1,31.1 L13.5,35.8 L17.1,40.4" stroke-width="0.80" opacity="0.53"/><path d="M-0.8,13.0 L2.0,17.1 L4.6,21.3 L7.1,25.6 L9.5,30.0" stroke-width="0.92" opacity="0.60"/><path d="M70.8,26.4 L72.9,27.9 L74.9,29.6 L76.8,31.3 L78.7,33.0" stroke-width="0.96" opacity="0.47"/><path d="M20.7,76.4 L23.3,79.3 L25.8,82.1 L28.4,85.0 L31.0,87.8" stroke-width="0.90" opacity="0.36"/><path d="M76.9,50.9 L79.1,52.9 L81.0,55.0 L82.9,57.3 L84.6,59.6" stroke-width="0.94" opacity="0.54"/><path d="M22.3,66.1 L26.7,70.0 L31.3,73.5 L36.1,76.7 L41.2,79.6" stroke-width="0.82" opacity="0.48"/><path d="M4.5,65.0 L8.9,65.8 L13.2,66.8 L17.4,68.0 L21.6,69.5" stroke-width="0.87" opacity="0.44"/><path d="M6.8,29.8 L9.0,33.5 L11.4,37.0 L14.0,40.3 L16.8,43.6" stroke-width="0.78" opacity="0.27"/><path d="M-3.5,8.2 L-1.4,8.6 L0.7,9.0 L2.8,9.4 L4.8,9.8" stroke-width="0.52" opacity="0.34"/><path d="M13.7,79.5 L16.9,79.0 L20.0,78.4 L23.1,77.8 L26.3,77.1" stroke-width="1.00" opacity="0.30"/><path d="M-8.9,52.2 L-5.0,51.7 L-1.2,51.5 L2.6,51.7 L6.5,52.3" stroke-width="0.85" opacity="0.40"/><path d="M78.1,32.2 L79.7,33.2 L81.2,34.5 L82.6,35.8 L83.8,37.3" stroke-width="0.84" opacity="0.52"/><path d="M85.9,54.0 L91.2,52.8 L96.6,51.6 L102.0,50.6 L107.4,49.6" stroke-width="0.56" opacity="0.25"/><path d="M56.3,3.9 L58.4,6.6 L60.1,9.4 L61.6,12.3 L62.8,15.4" stroke-width="0.67" opacity="0.35"/><path d="M28.8,78.1 L31.8,80.8 L34.9,83.5 L37.9,86.2 L41.0,88.9" stroke-width="1.09" opacity="0.37"/><path d="M33.6,19.4 L36.1,22.6 L38.6,25.8 L41.1,28.9 L43.6,32.0" stroke-width="0.87" opacity="0.10"/><path d="M24.1,65.3 L25.1,66.2 L26.0,67.2 L26.7,68.3 L27.4,69.4" stroke-width="0.66" opacity="0.49"/><path d="M71.9,17.9 L74.5,18.4 L77.1,19.0 L79.7,19.6 L82.3,20.3" stroke-width="0.78" opacity="0.52"/><path d="M69.5,22.0 L72.2,23.1 L74.8,24.1 L77.5,25.1 L80.2,26.1" stroke-width="0.82" opacity="0.38"/><path d="M29.5,58.1 L31.3,61.1 L33.0,64.0 L34.6,67.0 L36.3,70.0" stroke-width="1.03" opacity="0.66"/><path d="M-11.4,67.4 L-7.5,67.2 L-3.5,67.1 L0.5,66.9 L4.5,66.7" stroke-width="0.88" opacity="0.57"/><path d="M85.4,31.7 L88.1,31.4 L90.7,31.3 L93.4,31.4 L96.0,31.7" stroke-width="0.54" opacity="0.62"/><path d="M58.1,37.6 L63.0,36.8 L67.9,36.0 L72.8,35.2 L77.7,34.4" stroke-width="0.59" opacity="0.66"/><path d="M5.9,40.9 L7.9,45.7 L10.3,50.2 L13.1,54.5 L16.4,58.6" stroke-width="0.90" opacity="0.61"/><path d="M65.3,76.8 L67.8,81.2 L70.4,85.4 L73.3,89.5 L76.4,93.4" stroke-width="1.01" opacity="0.09"/><path d="M6.0,17.7 L7.2,20.7 L8.6,23.6 L10.3,26.4 L12.2,29.0" stroke-width="0.87" opacity="0.32"/><path d="M3.3,30.8 L4.9,30.8 L6.4,30.9 L7.9,31.1 L9.4,31.5" stroke-width="0.95" opacity="0.51"/><path d="M-2.0,38.5 L3.5,36.8 L9.0,35.4 L14.6,34.2 L20.2,33.2" stroke-width="0.53" opacity="0.42"/><path d="M-0.1,55.9 L5.5,55.3 L11.0,54.3 L16.4,53.2 L21.8,51.7" stroke-width="0.87" opacity="0.50"/><path d="M49.4,16.7 L51.0,18.4 L52.7,20.1 L54.5,21.6 L56.4,23.1" stroke-width="0.94" opacity="0.42"/><path d="M61.1,56.7 L65.5,56.2 L69.9,55.8 L74.3,55.5 L78.7,55.2" stroke-width="0.57" opacity="0.29"/><path d="M17.3,76.5 L18.7,76.4 L20.1,76.1 L21.4,75.8 L22.8,75.3" stroke-width="0.53" opacity="0.58"/><path d="M91.4,57.6 L93.2,57.8 L95.0,58.1 L96.8,58.5 L98.5,59.0" stroke-width="0.90" opacity="0.69"/><path d="M1.4,53.7 L5.5,53.9 L9.7,53.8 L13.9,53.5 L18.0,52.8" stroke-width="0.73" opacity="0.41"/><path d="M79.2,49.4 L80.8,52.3 L82.4,55.3 L83.9,58.2 L85.3,61.2" stroke-width="0.81" opacity="0.63"/><path d="M-7.8,77.5 L-4.3,77.3 L-0.9,77.1 L2.6,76.9 L6.1,76.5" stroke-width="0.87" opacity="0.65"/><path d="M39.9,6.3 L41.9,5.9 L43.9,5.7 L45.9,5.6 L47.9,5.7" stroke-width="0.73" opacity="0.42"/><path d="M6.2,19.8 L8.6,19.6 L11.0,19.5 L13.3,19.6 L15.7,19.9" stroke-width="0.52" opacity="0.47"/><path d="M29.3,73.7 L31.1,77.8 L33.2,81.8 L35.5,85.5 L38.2,89.1" stroke-width="1.07" opacity="0.46"/><path d="M62.3,19.9 L63.5,21.7 L64.9,23.4 L66.4,25.0 L68.1,26.5" stroke-width="0.64" opacity="0.26"/><path d="M31.7,85.6 L34.4,84.9 L37.1,84.4 L39.8,84.0 L42.5,83.7" stroke-width="0.67" opacity="0.46"/><path d="M62.0,14.0 L66.4,13.4 L70.6,12.5 L74.7,11.2 L78.7,9.4" stroke-width="1.09" opacity="0.44"/><path d="M-1.3,68.4 L0.1,67.7 L1.4,67.1 L2.7,66.5 L4.0,65.9" stroke-width="1.09" opacity="0.50"/><path d="M20.4,4.4 L26.0,5.7 L31.7,6.5 L37.3,6.7 L43.1,6.5" stroke-width="0.65" opacity="0.27"/><path d="M30.5,3.6 L33.7,3.4 L36.8,3.0 L39.9,2.2 L43.0,1.2" stroke-width="0.53" opacity="0.39"/><path d="M93.8,13.9 L95.4,13.5 L97.0,13.1 L98.6,12.7 L100.2,12.3" stroke-width="0.56" opacity="0.39"/><path d="M89.5,46.9 L90.6,48.9 L91.7,50.9 L92.9,52.8 L94.0,54.8" stroke-width="0.82" opacity="0.26"/><path d="M51.2,27.0 L52.9,29.1 L54.8,31.1 L56.7,33.0 L58.8,34.7" stroke-width="1.00" opacity="0.45"/><path d="M-1.7,29.3 L3.0,27.7 L7.5,25.7 L11.8,23.4 L16.0,20.8" stroke-width="0.69" opacity="0.62"/><path d="M-1.0,20.4 L1.4,20.0 L3.7,19.5 L6.0,18.7 L8.3,17.7" stroke-width="0.92" opacity="0.28"/><path d="M-4.3,34.6 L0.5,34.5 L5.4,34.6 L10.2,34.8 L15.0,35.1" stroke-width="1.04" opacity="0.50"/><path d="M63.2,48.3 L69.0,48.9 L74.8,49.3 L80.5,49.3 L86.3,49.1" stroke-width="0.92" opacity="0.58"/><path d="M77.3,32.3 L78.8,31.8 L80.2,31.3 L81.7,30.9 L83.3,30.5" stroke-width="0.66" opacity="0.33"/><path d="M22.9,0.5 L24.1,1.5 L25.1,2.6 L26.1,3.7 L27.0,4.9" stroke-width="0.71" opacity="0.31"/><path d="M88.1,52.6 L91.4,52.8 L94.7,52.7 L98.0,52.3 L101.2,51.5" stroke-width="0.70" opacity="0.41"/><path d="M-6.3,46.1 L-0.6,45.7 L5.1,45.1 L10.7,44.4 L16.3,43.4" stroke-width="0.57" opacity="0.61"/><path d="M84.6,40.2 L87.8,39.3 L91.1,38.4 L94.3,37.6 L97.6,36.8" stroke-width="1.06" opacity="0.60"/><path d="M93.8,50.6 L95.3,50.6 L96.8,50.6 L98.3,50.6 L99.8,50.6" stroke-width="0.52" opacity="0.69"/><path d="M41.2,77.4 L43.4,76.9 L45.6,76.3 L47.8,75.8 L50.0,75.3" stroke-width="0.62" opacity="0.37"/><path d="M20.8,66.3 L26.6,65.3 L32.4,64.3 L38.3,63.5 L44.2,62.8" stroke-width="1.01" opacity="0.63"/><path d="M33.3,3.8 L34.9,7.0 L36.6,10.2 L38.6,13.2 L40.8,16.0" stroke-width="0.60" opacity="0.27"/><path d="M74.1,17.2 L76.4,21.7 L78.7,26.2 L81.0,30.6 L83.3,35.1" stroke-width="0.51" opacity="0.42"/><path d="M51.3,15.0 L54.0,14.4 L56.6,13.8 L59.3,13.0 L61.9,12.2" stroke-width="0.69" opacity="0.26"/><path d="M92.6,65.2 L95.4,67.7 L98.2,70.3 L101.0,72.9 L103.7,75.5" stroke-width="0.72" opacity="0.61"/><path d="M63.3,45.0 L64.8,44.5 L66.3,43.9 L67.9,43.5 L69.4,43.0" stroke-width="0.71" opacity="0.29"/><path d="M65.5,60.8 L70.1,60.8 L74.8,61.0 L79.4,61.3 L84.0,61.8" stroke-width="0.95" opacity="0.28"/><path d="M88.1,70.3 L91.5,74.4 L95.0,78.2 L98.8,81.8 L102.9,85.2" stroke-width="0.87" opacity="0.58"/><path d="M43.1,76.7 L46.1,77.5 L49.2,78.0 L52.3,78.4 L55.4,78.6" stroke-width="0.73" opacity="0.25"/><path d="M58.2,70.5 L61.1,74.1 L63.9,77.8 L66.5,81.5 L69.0,85.4" stroke-width="0.57" opacity="0.13"/><path d="M77.1,17.2 L82.6,16.2 L88.1,15.6 L93.6,15.2 L99.1,15.1" stroke-width="0.88" opacity="0.33"/><path d="M81.9,22.8 L85.8,24.1 L89.9,25.0 L94.0,25.5 L98.1,25.6" stroke-width="0.61" opacity="0.68"/><path d="M2.3,41.1 L4.9,44.2 L7.4,47.4 L9.8,50.7 L12.0,54.2" stroke-width="0.91" opacity="0.54"/><path d="M-4.6,30.8 L-1.4,35.6 L1.7,40.4 L4.7,45.4 L7.5,50.5" stroke-width="1.01" opacity="0.39"/><path d="M90.5,14.7 L91.2,16.3 L92.1,17.8 L93.0,19.2 L94.1,20.6" stroke-width="0.59" opacity="0.34"/><path d="M1.5,54.7 L6.1,53.1 L10.8,51.8 L15.6,50.8 L20.4,50.1" stroke-width="0.99" opacity="0.58"/><path d="M66.6,76.6 L68.1,78.5 L69.7,80.4 L71.4,82.1 L73.2,83.8" stroke-width="0.54" opacity="0.09"/><path d="M65.9,7.5 L69.4,5.9 L73.0,4.4 L76.5,3.0 L80.1,1.6" stroke-width="0.57" opacity="0.42"/><path d="M31.3,57.5 L32.8,58.1 L34.3,58.7 L35.8,59.2 L37.3,59.6" stroke-width="0.93" opacity="0.59"/><path d="M-2.1,41.7 L2.6,41.2 L7.3,40.5 L12.0,39.6 L16.6,38.5" stroke-width="0.73" opacity="0.66"/><path d="M52.5,23.5 L54.0,23.5 L55.5,23.5 L56.9,23.6 L58.4,23.8" stroke-width="0.64" opacity="0.44"/><path d="M-4.1,23.1 L-0.7,22.4 L2.7,21.5 L6.1,20.7 L9.5,19.7" stroke-width="0.82" opacity="0.69"/><path d="M83.3,5.9 L88.2,5.9 L93.1,5.7 L98.0,5.3 L102.8,4.6" stroke-width="0.51" opacity="0.41"/><path d="M-3.8,11.6 L-1.8,14.3 L0.4,16.9 L2.6,19.3 L5.0,21.7" stroke-width="0.55" opacity="0.46"/><path d="M85.4,57.9 L90.4,57.8 L95.3,58.0 L100.2,58.7 L105.1,59.8" stroke-width="0.86" opacity="0.45"/><path d="M-13.3,66.4 L-7.9,66.5 L-2.5,66.5 L2.9,66.4 L8.3,66.1" stroke-width="1.05" opacity="0.62"/><path d="M97.1,59.2 L98.3,62.2 L99.6,65.2 L101.0,68.1 L102.7,70.9" stroke-width="1.10" opacity="0.69"/><path d="M21.0,56.3 L23.0,56.7 L25.1,57.1 L27.1,57.4 L29.1,57.7" stroke-width="0.54" opacity="0.46"/><path d="M78.0,73.7 L83.5,75.7 L89.1,77.3 L94.7,78.6 L100.5,79.6" stroke-width="0.58" opacity="0.52"/><path d="M87.4,81.5 L89.5,81.3 L91.6,81.2 L93.7,81.2 L95.9,81.2" stroke-width="0.66" opacity="0.44"/><path d="M26.3,71.5 L30.1,69.0 L34.0,66.5 L38.0,64.2 L42.0,62.0" stroke-width="0.57" opacity="0.29"/><path d="M48.2,84.9 L52.1,84.1 L56.0,83.6 L60.0,83.2 L63.9,82.9" stroke-width="0.83" opacity="0.37"/><path d="M7.2,34.1 L8.4,37.1 L9.4,40.2 L10.2,43.3 L10.8,46.5" stroke-width="0.87" opacity="0.48"/><path d="M-5.3,42.4 L-2.2,42.4 L0.9,42.3 L4.0,42.1 L7.0,41.7" stroke-width="0.51" opacity="0.41"/><path d="M36.0,48.1 L39.7,51.5 L43.0,55.3 L46.0,59.4 L48.5,63.8" stroke-width="1.07" opacity="0.21"/><path d="M24.3,8.0 L25.5,10.0 L26.7,12.0 L27.9,14.0 L29.1,16.0" stroke-width="0.94" opacity="0.14"/><path d="M32.3,81.6 L34.0,80.9 L35.8,80.2 L37.6,79.5 L39.4,78.8" stroke-width="0.80" opacity="0.41"/><path d="M13.5,38.4 L15.1,37.9 L16.7,37.5 L18.4,37.3 L20.1,37.3" stroke-width="0.59" opacity="0.40"/><path d="M66.4,15.1 L69.9,17.5 L73.2,20.1 L76.4,23.0 L79.3,26.1" stroke-width="0.66" opacity="0.36"/><path d="M37.3,78.5 L39.2,78.1 L41.0,77.7 L42.9,77.4 L44.8,77.0" stroke-width="0.94" opacity="0.27"/><path d="M-6.7,-0.2 L-5.3,0.3 L-3.9,0.8 L-2.6,1.3 L-1.3,2.0" stroke-width="0.57" opacity="0.51"/><path d="M85.7,7.5 L90.2,7.3 L94.7,7.1 L99.1,6.8 L103.6,6.5" stroke-width="0.54" opacity="0.29"/><path d="M0.3,50.3 L1.5,52.5 L2.5,54.8 L3.4,57.1 L4.2,59.4" stroke-width="0.50" opacity="0.38"/><path d="M45.2,77.7 L47.2,77.7 L49.2,77.8 L51.2,78.2 L53.1,78.7" stroke-width="0.66" opacity="0.35"/><path d="M0.6,32.6 L1.9,33.9 L3.3,35.3 L4.6,36.6 L6.0,38.0" stroke-width="0.91" opacity="0.47"/><path d="M50.2,79.9 L52.7,79.2 L55.1,78.7 L57.6,78.4 L60.2,78.3" stroke-width="0.82" opacity="0.47"/><path d="M-2.2,20.0 L2.1,20.7 L6.3,21.0 L10.5,21.0 L14.8,20.6" stroke-width="1.07" opacity="0.54"/><path d="M67.4,28.6 L71.7,28.5 L76.0,28.0 L80.1,27.2 L84.2,25.9" stroke-width="0.85" opacity="0.63"/><path d="M92.8,26.8 L94.6,29.5 L96.7,31.9 L98.9,34.2 L101.3,36.3" stroke-width="0.56" opacity="0.40"/><path d="M67.9,32.0 L69.2,32.8 L70.4,33.7 L71.6,34.8 L72.7,35.9" stroke-width="0.61" opacity="0.39"/><path d="M0.7,33.7 L3.4,33.7 L6.0,34.0 L8.6,34.5 L11.1,35.2" stroke-width="0.81" opacity="0.30"/><path d="M84.5,39.3 L89.4,39.7 L94.4,39.8 L99.2,39.4 L104.1,38.6" stroke-width="0.82" opacity="0.30"/><path d="M87.0,47.0 L92.8,46.4 L98.7,45.8 L104.5,45.2 L110.3,44.7" stroke-width="0.63" opacity="0.44"/><path d="M87.1,21.0 L89.3,26.2 L91.5,31.3 L93.6,36.5 L95.7,41.7" stroke-width="0.99" opacity="0.40"/><path d="M2.2,-7.3 L5.6,-2.5 L9.3,2.1 L13.1,6.6 L17.1,11.0" stroke-width="0.80" opacity="0.16"/><path d="M63.4,20.4 L68.3,20.6 L73.2,20.6 L78.0,20.3 L82.8,19.8" stroke-width="0.58" opacity="0.52"/><path d="M91.4,8.2 L95.6,8.4 L99.8,8.7 L103.9,9.1 L108.1,9.8" stroke-width="0.60" opacity="0.64"/><path d="M0.2,49.0 L3.1,49.5 L6.0,49.7 L9.0,49.7 L11.9,49.4" stroke-width="0.93" opacity="0.27"/><path d="M66.9,20.4 L70.9,24.0 L75.0,27.6 L79.2,30.9 L83.6,34.2" stroke-width="0.67" opacity="0.66"/><path d="M80.8,10.4 L83.9,9.5 L87.0,8.8 L90.2,8.1 L93.4,7.5" stroke-width="0.58" opacity="0.69"/><path d="M63.9,61.8 L69.2,61.6 L74.5,61.8 L79.8,62.4 L85.1,63.3" stroke-width="0.75" opacity="0.55"/><path d="M60.9,22.4 L63.6,24.7 L66.3,27.3 L68.7,30.0 L71.0,32.8" stroke-width="0.87" opacity="0.57"/><path d="M1.3,41.4 L6.5,41.5 L11.7,41.6 L17.0,41.6 L22.2,41.6" stroke-width="0.82" opacity="0.27"/><path d="M-1.9,10.5 L2.9,12.6 L7.7,14.9 L12.4,17.4 L17.0,20.0" stroke-width="1.00" opacity="0.36"/><path d="M26.7,55.7 L31.1,55.3 L35.4,55.0 L39.8,54.7 L44.1,54.4" stroke-width="0.95" opacity="0.51"/><path d="M19.3,72.8 L20.8,72.9 L22.4,72.9 L23.9,72.8 L25.4,72.5" stroke-width="0.96" opacity="0.26"/><path d="M40.4,33.2 L41.8,34.8 L43.2,36.4 L44.5,38.0 L45.8,39.7" stroke-width="0.96" opacity="0.19"/><path d="M76.2,43.9 L79.9,47.7 L83.3,51.8 L86.4,56.1 L89.1,60.7" stroke-width="0.51" opacity="0.53"/><path d="M92.9,15.8 L96.0,15.9 L99.0,15.7 L101.9,15.2 L104.9,14.4" stroke-width="0.63" opacity="0.29"/><path d="M29.6,2.9 L32.6,7.5 L35.6,12.1 L38.8,16.6 L42.1,21.0" stroke-width="0.63" opacity="0.56"/><path d="M38.5,57.4 L41.1,61.5 L43.4,65.8 L45.4,70.3 L47.2,74.8" stroke-width="1.05" opacity="0.64"/><path d="M83.5,62.4 L85.6,61.7 L87.6,61.1 L89.7,60.5 L91.8,60.1" stroke-width="0.65" opacity="0.40"/><path d="M72.4,14.2 L74.1,14.4 L75.8,14.5 L77.5,14.5 L79.2,14.4" stroke-width="0.72" opacity="0.52"/><path d="M18.8,-1.0 L22.0,-1.7 L25.2,-2.4 L28.4,-3.1 L31.6,-3.7" stroke-width="0.50" opacity="0.30"/><path d="M91.6,72.1 L93.6,72.0 L95.6,72.0 L97.5,72.0 L99.5,72.0" stroke-width="0.54" opacity="0.25"/><path d="M69.9,35.0 L72.2,37.5 L74.5,40.0 L76.8,42.5 L79.1,45.0" stroke-width="0.86" opacity="0.66"/><path d="M7.6,35.5 L10.3,35.4 L12.9,35.3 L15.6,35.3 L18.2,35.3" stroke-width="0.54" opacity="0.62"/><path d="M15.5,54.6 L16.7,55.8 L18.0,57.0 L19.3,58.0 L20.6,59.1" stroke-width="0.74" opacity="0.58"/><path d="M77.6,67.9 L81.2,67.0 L84.9,66.5 L88.6,66.2 L92.3,66.3" stroke-width="0.88" opacity="0.29"/><path d="M54.9,1.7 L58.4,1.4 L61.9,1.0 L65.3,0.4 L68.7,-0.4" stroke-width="0.59" opacity="0.45"/><path d="M40.1,0.8 L41.0,2.2 L42.1,3.5 L43.2,4.8 L44.3,6.0" stroke-width="1.06" opacity="0.39"/><path d="M3.5,25.2 L4.4,26.6 L5.2,28.1 L5.9,29.5 L6.7,31.1" stroke-width="0.63" opacity="0.40"/><path d="M38.3,1.5 L40.7,3.9 L43.2,6.1 L45.9,8.2 L48.7,10.2" stroke-width="0.53" opacity="0.64"/><path d="M20.9,13.6 L23.3,17.0 L25.5,20.5 L27.4,24.2 L29.1,28.0" stroke-width="0.80" opacity="0.13"/><path d="M48.8,32.9 L54.2,33.0 L59.6,33.3 L65.0,33.6 L70.4,34.1" stroke-width="0.72" opacity="0.39"/><path d="M47.5,12.1 L52.3,12.1 L57.0,12.3 L61.7,12.7 L66.4,13.4" stroke-width="0.57" opacity="0.27"/><path d="M81.4,4.6 L85.8,4.3 L90.1,3.7 L94.4,2.8 L98.7,1.6" stroke-width="0.77" opacity="0.27"/><path d="M19.4,61.2 L24.6,59.8 L29.8,58.7 L35.0,58.0 L40.3,57.6" stroke-width="0.87" opacity="0.63"/><path d="M2.8,41.1 L8.1,39.7 L13.5,38.7 L18.9,38.3 L24.4,38.3" stroke-width="0.97" opacity="0.42"/><path d="M85.3,23.6 L89.8,27.6 L94.1,31.7 L98.2,36.1 L102.2,40.6" stroke-width="0.95" opacity="0.31"/><path d="M37.3,24.6 L40.2,23.3 L43.1,22.1 L46.0,20.8 L48.8,19.5" stroke-width="0.87" opacity="0.36"/><path d="M56.6,37.5 L58.0,37.8 L59.4,38.0 L60.8,38.2 L62.2,38.3" stroke-width="0.90" opacity="0.62"/><path d="M85.6,67.9 L87.6,67.5 L89.6,67.1 L91.6,66.7 L93.6,66.3" stroke-width="0.53" opacity="0.67"/><path d="M19.1,43.7 L21.4,44.2 L23.7,44.6 L26.0,44.8 L28.3,45.0" stroke-width="0.97" opacity="0.70"/><path d="M37.5,-0.7 L40.1,-0.1 L42.8,0.3 L45.6,0.5 L48.3,0.5" stroke-width="0.54" opacity="0.36"/><path d="M99.1,53.2 L98.8,58.4 L98.8,63.6 L99.2,68.9 L99.9,74.0" stroke-width="0.65" opacity="0.60"/><path d="M20.8,3.2 L22.0,2.9 L23.3,2.7 L24.6,2.6 L25.9,2.6" stroke-width="1.01" opacity="0.39"/><path d="M66.0,56.1 L68.6,59.6 L71.3,63.1 L74.2,66.4 L77.2,69.6" stroke-width="0.84" opacity="0.13"/><path d="M-6.0,20.5 L-3.6,20.4 L-1.2,20.4 L1.3,20.4 L3.7,20.3" stroke-width="1.07" opacity="0.42"/><path d="M79.6,59.5 L81.3,61.7 L83.0,63.9 L84.6,66.2 L86.2,68.5" stroke-width="0.69" opacity="0.43"/><path d="M76.7,68.6 L80.8,68.6 L84.8,68.5 L88.8,68.2 L92.8,67.7" stroke-width="0.50" opacity="0.35"/><path d="M53.6,18.9 L55.0,20.6 L56.4,22.3 L57.8,24.1 L59.1,25.8" stroke-width="0.57" opacity="0.66"/><path d="M82.8,47.8 L84.9,50.6 L86.8,53.4 L88.6,56.4 L90.2,59.5" stroke-width="0.56" opacity="0.50"/><path d="M78.3,17.5 L80.4,21.0 L82.8,24.4 L85.3,27.7 L87.9,30.9" stroke-width="0.69" opacity="0.54"/><path d="M2.1,28.2 L5.3,32.9 L8.7,37.4 L12.2,41.8 L16.0,46.1" stroke-width="0.80" opacity="0.26"/><path d="M-8.0,21.3 L-4.9,21.4 L-1.7,21.5 L1.4,21.5 L4.6,21.3" stroke-width="0.55" opacity="0.66"/><path d="M57.0,53.8 L62.5,53.6 L68.0,53.3 L73.5,53.0 L79.0,52.7" stroke-width="0.65" opacity="0.45"/><path d="M41.4,2.3 L44.0,6.2 L46.4,10.2 L48.5,14.4 L50.4,18.6" stroke-width="0.82" opacity="0.46"/><path d="M90.1,54.0 L92.7,53.0 L95.4,52.0 L98.1,51.2 L100.8,50.3" stroke-width="0.72" opacity="0.56"/><path d="M53.7,49.1 L56.3,53.4 L59.0,57.6 L62.0,61.6 L65.3,65.5" stroke-width="0.92" opacity="0.18"/><path d="M65.0,20.7 L69.6,19.1 L74.2,17.5 L78.8,15.8 L83.4,14.1" stroke-width="1.06" opacity="0.46"/><path d="M45.3,87.3 L49.8,86.4 L54.4,85.7 L59.0,85.3 L63.7,85.2" stroke-width="0.55" opacity="0.68"/><path d="M59.4,39.7 L61.8,42.4 L64.0,45.2 L65.9,48.2 L67.5,51.4" stroke-width="0.92" opacity="0.53"/><path d="M72.8,72.5 L76.0,71.8 L79.3,71.2 L82.5,70.8 L85.8,70.6" stroke-width="1.07" opacity="0.66"/><path d="M19.5,68.3 L24.8,67.3 L30.0,66.3 L35.3,65.3 L40.6,64.2" stroke-width="1.08" opacity="0.57"/><path d="M-6.8,85.4 L-3.5,83.9 L-0.0,82.7 L3.5,81.9 L7.1,81.3" stroke-width="0.61" opacity="0.27"/><path d="M19.1,16.6 L21.4,20.4 L23.9,24.0 L26.4,27.6 L29.1,31.1" stroke-width="0.79" opacity="0.21"/><path d="M40.3,6.6 L42.7,7.4 L45.2,8.0 L47.7,8.3 L50.2,8.5" stroke-width="0.97" opacity="0.31"/><path d="M29.6,65.5 L35.4,65.9 L41.1,66.1 L46.9,66.3 L52.6,66.4" stroke-width="1.04" opacity="0.27"/><path d="M-11.7,14.2 L-8.6,17.8 L-5.3,21.0 L-1.6,23.9 L2.3,26.5" stroke-width="0.99" opacity="0.58"/><path d="M20.5,28.5 L23.2,34.1 L26.4,39.5 L30.0,44.5 L34.0,49.3" stroke-width="0.68" opacity="0.16"/><path d="M22.2,83.0 L24.9,82.7 L27.6,82.4 L30.3,82.0 L33.0,81.6" stroke-width="0.65" opacity="0.60"/><path d="M-1.1,13.0 L2.3,15.8 L5.8,18.6 L9.3,21.3 L13.0,23.9" stroke-width="0.81" opacity="0.55"/><path d="M33.1,-5.6 L35.3,-3.8 L37.5,-2.1 L39.8,-0.3 L42.0,1.4" stroke-width="0.69" opacity="0.36"/><path d="M6.0,73.7 L11.5,73.4 L17.0,73.2 L22.5,73.3 L28.0,73.7" stroke-width="0.67" opacity="0.51"/><path d="M-5.5,70.0 L-2.5,73.2 L0.3,76.6 L2.9,80.2 L5.2,84.0" stroke-width="0.76" opacity="0.27"/><path d="M53.1,15.3 L55.2,15.3 L57.4,15.5 L59.4,15.8 L61.5,16.3" stroke-width="1.04" opacity="0.45"/><path d="M35.1,67.4 L40.9,66.8 L46.7,66.7 L52.4,67.0 L58.2,67.7" stroke-width="0.79" opacity="0.64"/><path d="M15.1,82.7 L20.6,84.3 L26.1,85.7 L31.7,86.9 L37.3,87.8" stroke-width="0.54" opacity="0.58"/><path d="M-4.9,29.2 L-2.9,28.8 L-0.9,28.4 L1.1,27.9 L3.1,27.4" stroke-width="0.81" opacity="0.35"/><path d="M15.3,25.0 L18.6,30.0 L22.3,34.7 L26.4,39.1 L30.8,43.2" stroke-width="1.03" opacity="0.08"/><path d="M8.9,58.6 L12.2,61.1 L15.5,63.6 L18.9,66.1 L22.3,68.5" stroke-width="0.93" opacity="0.46"/><path d="M-5.0,79.3 L-3.2,81.2 L-1.4,82.9 L0.6,84.6 L2.7,86.1" stroke-width="0.80" opacity="0.60"/><path d="M81.0,80.1 L84.4,80.5 L87.8,80.8 L91.2,81.0 L94.7,81.1" stroke-width="0.88" opacity="0.35"/><path d="M36.3,81.9 L40.5,81.8 L44.7,81.9 L48.9,82.1 L53.1,82.5" stroke-width="0.97" opacity="0.52"/><path d="M12.9,35.7 L14.1,35.2 L15.4,34.6 L16.6,34.0 L17.7,33.3" stroke-width="0.70" opacity="0.56"/><path d="M-9.0,-6.8 L-5.9,-3.6 L-2.6,-0.6 L0.9,2.2 L4.5,4.8" stroke-width="0.92" opacity="0.66"/><path d="M94.8,5.9 L96.9,9.7 L99.0,13.4 L101.0,17.3 L102.9,21.1" stroke-width="1.03" opacity="0.38"/><path d="M62.9,2.7 L66.0,6.3 L69.3,9.7 L72.7,13.0 L76.2,16.2" stroke-width="0.66" opacity="0.39"/><path d="M90.0,54.9 L93.8,56.0 L97.6,56.8 L101.5,57.3 L105.4,57.5" stroke-width="0.66" opacity="0.55"/><path d="M2.7,39.5 L4.5,44.5 L6.3,49.4 L8.2,54.4 L10.2,59.3" stroke-width="0.80" opacity="0.69"/><path d="M50.3,2.5 L52.9,5.2 L55.5,7.9 L58.0,10.7 L60.5,13.5" stroke-width="0.83" opacity="0.59"/><path d="M51.8,7.7 L53.6,7.3 L55.5,7.1 L57.3,7.0 L59.2,7.0" stroke-width="0.95" opacity="0.62"/><path d="M32.0,6.1 L33.7,7.6 L35.5,9.0 L37.4,10.3 L39.3,11.6" stroke-width="0.92" opacity="0.55"/><path d="M-9.3,48.9 L-7.0,49.4 L-4.7,50.1 L-2.5,50.7 L-0.3,51.4" stroke-width="0.76" opacity="0.58"/><path d="M30.0,2.3 L32.8,1.3 L35.6,0.4 L38.4,-0.6 L41.2,-1.6" stroke-width="0.89" opacity="0.56"/><path d="M74.2,26.8 L77.4,26.6 L80.7,26.3 L84.0,26.1 L87.2,25.9" stroke-width="0.52" opacity="0.65"/><path d="M75.5,79.4 L80.4,78.0 L85.2,76.4 L90.0,74.7 L94.7,72.8" stroke-width="1.06" opacity="0.49"/><path d="M61.7,50.7 L63.5,52.6 L65.0,54.6 L66.5,56.6 L67.8,58.8" stroke-width="0.54" opacity="0.18"/><path d="M6.0,7.1 L7.9,10.8 L10.0,14.4 L12.2,17.8 L14.7,21.2" stroke-width="0.71" opacity="0.19"/><path d="M25.0,83.4 L29.5,83.9 L33.9,84.7 L38.2,85.9 L42.4,87.5" stroke-width="0.94" opacity="0.37"/><path d="M47.6,10.4 L52.1,14.0 L56.9,17.4 L61.8,20.4 L66.9,23.2" stroke-width="0.59" opacity="0.52"/><path d="M54.1,2.5 L57.6,1.7 L61.1,1.1 L64.7,0.5 L68.3,0.1" stroke-width="0.84" opacity="0.28"/><path d="M18.3,49.1 L23.3,49.1 L28.3,49.2 L33.3,49.4 L38.3,49.6" stroke-width="0.88" opacity="0.51"/><path d="M78.9,5.3 L80.2,5.4 L81.4,5.5 L82.7,5.7 L84.0,6.1" stroke-width="0.87" opacity="0.65"/><path d="M59.3,33.9 L64.1,32.7 L68.8,31.3 L73.4,29.7 L77.9,27.8" stroke-width="0.78" opacity="0.57"/><path d="M21.5,80.6 L27.4,80.5 L33.3,80.7 L39.1,81.2 L45.0,81.9" stroke-width="0.62" opacity="0.33"/><path d="M19.5,48.6 L21.7,49.3 L23.8,50.2 L25.9,51.2 L27.9,52.4" stroke-width="0.76" opacity="0.50"/><path d="M4.6,80.1 L7.3,79.5 L10.0,79.1 L12.7,78.9 L15.5,78.8" stroke-width="0.72" opacity="0.69"/><path d="M90.9,59.6 L94.2,59.8 L97.5,59.8 L100.8,59.8 L104.1,59.6" stroke-width="0.65" opacity="0.33"/><path d="M8.6,58.6 L10.5,58.6 L12.4,58.5 L14.4,58.2 L16.2,57.8" stroke-width="0.76" opacity="0.30"/><path d="M47.4,15.6 L48.9,17.6 L50.2,19.8 L51.4,22.0 L52.4,24.4" stroke-width="1.07" opacity="0.64"/><path d="M11.3,80.0 L15.1,80.5 L18.9,80.8 L22.7,81.1 L26.5,81.2" stroke-width="0.95" opacity="0.37"/><path d="M85.1,61.2 L86.4,61.0 L87.8,60.7 L89.2,60.4 L90.5,60.1" stroke-width="0.75" opacity="0.37"/><path d="M47.5,-4.9 L52.0,-4.4 L56.4,-3.4 L60.7,-2.0 L64.9,-0.1" stroke-width="0.86" opacity="0.56"/><path d="M67.2,42.2 L72.7,40.6 L78.1,38.8 L83.5,36.8 L88.7,34.6" stroke-width="0.86" opacity="0.50"/><path d="M66.1,29.5 L65.1,35.2 L64.4,40.9 L63.8,46.7 L63.4,52.4" stroke-width="0.54" opacity="0.27"/><path d="M78.4,47.5 L80.1,47.5 L81.8,47.5 L83.5,47.3 L85.3,47.0" stroke-width="0.58" opacity="0.36"/><path d="M62.9,15.8 L68.0,14.8 L73.1,13.9 L78.3,13.3 L83.5,13.0" stroke-width="1.03" opacity="0.54"/><path d="M65.7,21.9 L68.7,21.5 L71.7,21.1 L74.8,20.7 L77.8,20.3" stroke-width="1.05" opacity="0.43"/><path d="M68.9,53.9 L73.9,54.0 L78.9,54.0 L83.9,53.9 L88.9,53.6" stroke-width="0.65" opacity="0.35"/><path d="M38.6,26.9 L40.9,30.8 L43.2,34.8 L45.5,38.8 L47.8,42.8" stroke-width="0.71" opacity="0.12"/><path d="M1.2,35.2 L6.5,33.6 L11.8,32.2 L17.2,30.7 L22.5,29.4" stroke-width="0.73" opacity="0.52"/><path d="M46.6,15.4 L49.8,13.8 L53.2,12.4 L56.6,11.3 L60.1,10.3" stroke-width="0.77" opacity="0.34"/><path d="M57.2,27.8 L59.7,27.1 L62.3,26.5 L64.9,25.9 L67.6,25.4" stroke-width="0.74" opacity="0.46"/><path d="M79.6,32.3 L83.5,31.7 L87.3,30.9 L91.1,29.9 L94.9,28.8" stroke-width="0.65" opacity="0.55"/><path d="M87.4,5.0 L90.0,7.2 L92.3,9.7 L94.4,12.3 L96.3,15.2" stroke-width="0.61" opacity="0.36"/><path d="M-3.4,4.3 L-1.8,6.9 L-0.4,9.6 L0.7,12.4 L1.5,15.4" stroke-width="0.97" opacity="0.34"/><path d="M5.9,58.8 L11.4,59.8 L16.8,60.7 L22.2,61.6 L27.7,62.4" stroke-width="0.58" opacity="0.55"/><path d="M57.2,11.6 L63.2,12.0 L69.1,11.8 L75.1,11.1 L80.9,9.9" stroke-width="0.89" opacity="0.67"/><path d="M68.7,33.7 L69.5,35.1 L70.2,36.5 L70.9,38.0 L71.5,39.5" stroke-width="1.07" opacity="0.32"/><path d="M84.3,11.8 L88.8,11.4 L93.3,10.8 L97.7,9.9 L102.1,8.9" stroke-width="0.78" opacity="0.44"/><path d="M90.4,70.4 L93.3,70.1 L96.2,69.6 L98.9,68.9 L101.7,67.9" stroke-width="1.06" opacity="0.65"/><path d="M53.4,33.9 L56.9,32.2 L60.4,30.7 L64.1,29.5 L67.9,28.6" stroke-width="0.88" opacity="0.64"/><path d="M13.2,68.2 L17.1,68.5 L21.1,68.7 L25.1,69.0 L29.1,69.2" stroke-width="1.04" opacity="0.35"/><path d="M49.6,79.1 L50.2,81.6 L50.9,84.0 L51.7,86.4 L52.5,88.7" stroke-width="0.87" opacity="0.56"/><path d="M60.9,28.2 L63.0,29.8 L65.3,31.2 L67.6,32.4 L70.1,33.5" stroke-width="0.70" opacity="0.33"/><path d="M82.1,85.9 L84.5,86.5 L86.8,86.9 L89.2,87.1 L91.6,87.3" stroke-width="1.01" opacity="0.65"/><path d="M11.8,32.4 L14.5,32.4 L17.1,32.6 L19.8,32.8 L22.5,33.2" stroke-width="1.08" opacity="0.66"/><path d="M13.2,64.1 L18.6,64.3 L23.9,64.8 L29.3,65.6 L34.6,66.6" stroke-width="0.92" opacity="0.44"/><path d="M8.3,25.4 L9.4,27.9 L10.6,30.3 L12.0,32.7 L13.6,34.9" stroke-width="1.02" opacity="0.45"/><path d="M66.8,31.9 L68.6,35.1 L70.7,38.2 L73.1,41.0 L75.8,43.6" stroke-width="0.74" opacity="0.41"/></g></g>
  <g fill="none" stroke="#f0f0f0" stroke-linecap="round" filter="url(#bl05)">
    <path d="M28,8 C40,18 50,28 56,36 C64,48 72,60 81,74 L88,84" stroke-width="0.9" opacity="0.35"/>
    <path d="M28,6.5 C50,6 70,7 95,5.5" stroke-width="1.1" opacity="0.5"/>
    <path d="M64,60 C75,59 85,59 95,58.5" stroke-width="1.0" opacity="0.5"/>
    <path d="M0,61 C12,61 25,62 37,62" stroke-width="0.9" opacity="0.45"/>
    <path d="M0,71.5 C15,71 30,70 46,69" stroke-width="0.9" opacity="0.45"/>
    <path d="M18,6.4 C40,5.5 70,4.5 95,3.7" stroke-width="1.0" opacity="0.5"/>
    <path d="M45.7,14.6 C60,13 80,12 95,11" stroke-width="0.9" opacity="0.45"/>
    <path d="M54.8,22 C68,21 82,19.5 95,18.3" stroke-width="0.9" opacity="0.45"/>
    <path d="M51,26.5 C65,26 80,25.8 95,25.6" stroke-width="0.8" opacity="0.4"/>
    <path d="M69.5,33 C70.2,38 70.8,43 71.3,47.5" stroke-width="0.9" opacity="0.45"/>
    <path d="M0,54.8 C12,54.5 25,54.6 36.6,54.8" stroke-width="1.0" opacity="0.5"/>
    <path d="M67.6,58.5 C77,58.8 86,59.1 95,59.4" stroke-width="1.0" opacity="0.5"/>
    <path d="M27,72 C35,72.5 45,73 55,73.2" stroke-width="0.8" opacity="0.4"/>
  </g>
</g>

<g id="bg2">
  <g transform="rotate(-27 47 42)"><rect x="-40" y="-40" width="180" height="170" filter="url(#fR2)"/><rect x="-40" y="-40" width="180" height="170" filter="url(#fS2)" opacity="0.3"/></g>
  <g fill="none" stroke="#1a1a1a" stroke-linecap="round"><path d="M40.4,33.2 L42.3,32.5 L44.1,31.7 L46.0,30.9 L47.9,30.0" stroke-width="1.04" opacity="0.30"/><path d="M49.5,55.2 L51.6,54.4 L53.7,53.5 L55.8,52.6 L57.9,51.8" stroke-width="0.92" opacity="0.27"/><path d="M62.0,17.0 L66.7,14.5 L71.6,12.0 L76.4,9.6 L81.3,7.2" stroke-width="0.85" opacity="0.42"/><path d="M30.9,67.5 L33.3,66.3 L35.8,65.1 L38.2,63.9 L40.6,62.8" stroke-width="0.90" opacity="0.24"/><path d="M32.9,9.5 L36.3,7.6 L39.7,5.8 L43.2,4.0 L46.7,2.3" stroke-width="0.62" opacity="0.39"/><path d="M79.6,6.8 L83.7,4.9 L87.8,3.0 L92.0,1.0 L96.1,-0.9" stroke-width="0.51" opacity="0.30"/><path d="M80.3,13.7 L85.6,11.1 L90.8,8.3 L96.0,5.5 L101.1,2.5" stroke-width="0.62" opacity="0.41"/><path d="M0.5,48.6 L2.4,47.5 L4.2,46.5 L6.1,45.5 L8.0,44.6" stroke-width="0.80" opacity="0.18"/><path d="M29.2,39.4 L34.3,36.4 L39.5,33.6 L44.7,30.9 L50.1,28.3" stroke-width="0.87" opacity="0.21"/><path d="M-9.6,53.7 L-4.3,50.6 L1.0,47.7 L6.5,44.9 L11.9,42.2" stroke-width="0.66" opacity="0.20"/><path d="M94.0,12.4 L97.2,10.7 L100.3,9.0 L103.4,7.2 L106.6,5.4" stroke-width="0.53" opacity="0.33"/><path d="M54.3,59.2 L60.2,55.0 L66.1,50.9 L72.2,46.9 L78.3,43.0" stroke-width="0.71" opacity="0.18"/><path d="M47.1,45.2 L52.0,42.0 L56.9,38.7 L61.7,35.4 L66.6,32.0" stroke-width="0.98" opacity="0.17"/><path d="M31.8,20.9 L36.4,19.0 L41.0,17.1 L45.6,15.3 L50.3,13.5" stroke-width="0.55" opacity="0.25"/><path d="M-7.5,74.1 L-0.5,71.5 L6.4,68.7 L13.3,65.9 L20.2,63.0" stroke-width="0.93" opacity="0.30"/><path d="M66.6,39.4 L69.8,37.9 L73.0,36.3 L76.2,34.7 L79.3,33.1" stroke-width="0.74" opacity="0.43"/><path d="M72.2,38.4 L78.9,34.6 L85.6,30.9 L92.5,27.4 L99.4,24.0" stroke-width="0.53" opacity="0.23"/><path d="M-1.6,91.5 L6.2,87.6 L13.8,83.5 L21.4,79.3 L28.8,74.9" stroke-width="0.51" opacity="0.33"/><path d="M10.0,37.8 L13.8,35.5 L17.5,33.1 L21.2,30.7 L24.8,28.2" stroke-width="0.84" opacity="0.20"/><path d="M-6.8,55.1 L-1.1,51.5 L4.5,47.9 L10.2,44.4 L15.9,40.9" stroke-width="0.77" opacity="0.18"/><path d="M63.4,38.4 L69.6,35.4 L75.7,32.5 L81.9,29.5 L88.1,26.6" stroke-width="1.03" opacity="0.38"/><path d="M-3.9,7.6 L1.1,5.1 L6.0,2.6 L10.9,-0.1 L15.7,-2.9" stroke-width="0.88" opacity="0.21"/><path d="M68.2,22.3 L72.9,20.3 L77.5,18.2 L82.1,16.0 L86.6,13.7" stroke-width="0.73" opacity="0.32"/><path d="M36.1,88.3 L41.0,85.5 L46.0,82.9 L51.0,80.5 L56.1,78.1" stroke-width="0.52" opacity="0.42"/><path d="M74.8,55.3 L81.8,51.1 L88.8,47.0 L95.8,42.8 L102.8,38.7" stroke-width="0.89" opacity="0.18"/><path d="M14.9,69.6 L21.0,66.4 L27.0,63.3 L33.1,60.1 L39.2,56.9" stroke-width="0.92" opacity="0.19"/><path d="M38.7,58.9 L42.8,57.0 L46.9,55.2 L51.1,53.4 L55.3,51.8" stroke-width="0.64" opacity="0.41"/><path d="M57.8,61.1 L64.9,57.6 L72.1,54.2 L79.2,50.8 L86.4,47.4" stroke-width="0.86" opacity="0.17"/><path d="M55.7,39.8 L61.2,37.3 L66.7,34.7 L72.2,32.1 L77.7,29.4" stroke-width="0.54" opacity="0.21"/><path d="M41.0,48.1 L42.9,47.1 L44.8,46.1 L46.8,45.2 L48.8,44.3" stroke-width="0.70" opacity="0.38"/><path d="M-18.0,93.5 L-10.7,88.8 L-3.5,84.0 L3.6,79.1 L10.8,74.2" stroke-width="0.56" opacity="0.39"/><path d="M14.2,71.6 L17.0,70.0 L19.9,68.3 L22.7,66.6 L25.4,64.8" stroke-width="0.57" opacity="0.22"/><path d="M85.1,91.1 L89.5,88.4 L94.0,85.8 L98.4,83.2 L102.9,80.6" stroke-width="0.72" opacity="0.31"/><path d="M10.2,25.4 L15.2,23.1 L20.2,20.8 L25.3,18.7 L30.4,16.7" stroke-width="0.76" opacity="0.22"/><path d="M-8.8,10.6 L-5.4,9.0 L-2.1,7.4 L1.2,5.7 L4.4,4.0" stroke-width="0.86" opacity="0.40"/><path d="M-5.5,26.5 L-1.9,24.6 L1.6,22.7 L5.2,20.8 L8.8,19.0" stroke-width="1.09" opacity="0.38"/><path d="M74.4,88.2 L82.3,85.1 L90.3,82.0 L98.1,78.7 L106.0,75.3" stroke-width="0.69" opacity="0.19"/><path d="M51.6,46.8 L55.3,44.6 L59.0,42.4 L62.7,40.1 L66.3,37.7" stroke-width="0.74" opacity="0.39"/><path d="M15.9,44.5 L20.2,42.1 L24.6,39.6 L28.9,37.1 L33.1,34.6" stroke-width="0.74" opacity="0.21"/><path d="M7.7,50.2 L10.6,48.6 L13.5,47.1 L16.3,45.4 L19.1,43.7" stroke-width="0.90" opacity="0.36"/><path d="M48.9,35.7 L55.1,32.2 L61.3,28.6 L67.4,24.9 L73.4,21.1" stroke-width="0.94" opacity="0.41"/><path d="M48.6,30.0 L50.5,29.1 L52.4,28.1 L54.3,27.2 L56.2,26.3" stroke-width="0.78" opacity="0.31"/><path d="M17.5,79.5 L23.6,76.5 L29.6,73.3 L35.6,70.0 L41.5,66.5" stroke-width="0.82" opacity="0.24"/><path d="M-7.4,83.0 L-5.4,82.0 L-3.3,81.0 L-1.3,79.9 L0.7,78.8" stroke-width="0.60" opacity="0.20"/><path d="M68.0,95.3 L75.0,91.3 L82.0,87.4 L89.0,83.6 L96.0,79.9" stroke-width="0.58" opacity="0.30"/><path d="M25.9,26.4 L29.6,24.3 L33.2,22.3 L36.8,20.2 L40.4,18.2" stroke-width="0.61" opacity="0.27"/><path d="M82.7,51.0 L84.7,50.2 L86.7,49.3 L88.6,48.5 L90.6,47.7" stroke-width="1.02" opacity="0.29"/><path d="M84.0,69.4 L87.4,67.6 L90.8,65.9 L94.3,64.1 L97.7,62.5" stroke-width="0.77" opacity="0.20"/><path d="M9.1,33.3 L14.6,30.7 L20.0,28.0 L25.4,25.2 L30.7,22.3" stroke-width="1.06" opacity="0.31"/><path d="M3.8,74.5 L9.5,71.4 L15.2,68.2 L20.8,65.0 L26.4,61.6" stroke-width="0.58" opacity="0.19"/><path d="M40.7,85.1 L46.5,82.0 L52.4,78.9 L58.3,76.0 L64.4,73.3" stroke-width="1.01" opacity="0.28"/><path d="M84.1,66.9 L89.0,64.7 L93.8,62.5 L98.7,60.2 L103.5,57.9" stroke-width="0.98" opacity="0.18"/><path d="M29.1,61.4 L36.7,58.2 L44.2,55.0 L51.7,51.7 L59.2,48.4" stroke-width="0.55" opacity="0.43"/><path d="M73.7,75.0 L81.1,70.8 L88.6,66.7 L96.2,62.8 L103.9,59.1" stroke-width="0.82" opacity="0.21"/><path d="M47.9,60.4 L50.0,59.4 L52.2,58.4 L54.4,57.4 L56.5,56.3" stroke-width="0.85" opacity="0.40"/><path d="M77.8,26.2 L80.3,24.9 L82.9,23.5 L85.5,22.2 L88.0,20.9" stroke-width="0.52" opacity="0.24"/><path d="M71.7,41.7 L74.5,40.3 L77.4,38.9 L80.2,37.5 L83.0,36.1" stroke-width="0.84" opacity="0.20"/><path d="M55.0,50.5 L60.2,47.6 L65.4,44.9 L70.7,42.2 L76.1,39.7" stroke-width="0.97" opacity="0.40"/><path d="M4.3,35.3 L7.8,33.6 L11.4,32.0 L15.0,30.4 L18.6,28.9" stroke-width="0.61" opacity="0.29"/><path d="M47.2,14.4 L54.7,10.4 L62.2,6.4 L69.8,2.5 L77.3,-1.4" stroke-width="0.65" opacity="0.31"/><path d="M90.9,31.2 L93.0,30.2 L95.2,29.1 L97.4,28.1 L99.5,27.2" stroke-width="0.69" opacity="0.31"/><path d="M8.0,4.0 L12.6,1.8 L17.2,-0.5 L21.8,-2.9 L26.3,-5.3" stroke-width="0.69" opacity="0.19"/><path d="M2.7,60.5 L8.4,57.8 L14.2,55.2 L19.9,52.6 L25.7,50.1" stroke-width="1.05" opacity="0.25"/><path d="M-7.5,68.0 L-4.5,66.3 L-1.5,64.7 L1.5,63.1 L4.6,61.5" stroke-width="0.51" opacity="0.17"/><path d="M65.7,32.8 L67.8,31.5 L70.0,30.1 L72.1,28.8 L74.3,27.6" stroke-width="0.93" opacity="0.36"/><path d="M-7.8,54.7 L-3.1,52.1 L1.7,49.4 L6.4,46.9 L11.2,44.3" stroke-width="0.72" opacity="0.40"/><path d="M86.0,31.8 L87.8,30.6 L89.7,29.4 L91.6,28.2 L93.4,26.9" stroke-width="0.69" opacity="0.43"/><path d="M15.8,75.0 L20.7,72.2 L25.6,69.6 L30.6,67.1 L35.6,64.6" stroke-width="0.56" opacity="0.37"/><path d="M72.7,63.8 L77.2,61.5 L81.7,59.3 L86.2,57.0 L90.7,54.7" stroke-width="1.07" opacity="0.18"/><path d="M84.0,19.8 L89.8,17.2 L95.6,14.5 L101.4,11.8 L107.2,9.1" stroke-width="0.89" opacity="0.38"/><path d="M-16.9,46.4 L-9.6,42.0 L-2.3,37.4 L4.8,32.8 L12.0,28.0" stroke-width="1.09" opacity="0.43"/><path d="M-5.2,25.9 L-3.3,25.1 L-1.4,24.3 L0.5,23.5 L2.4,22.7" stroke-width="0.85" opacity="0.19"/><path d="M53.9,35.3 L56.7,33.8 L59.6,32.2 L62.5,30.7 L65.4,29.2" stroke-width="0.82" opacity="0.41"/><path d="M-4.5,70.3 L3.0,67.6 L10.6,64.9 L18.2,62.3 L25.7,59.8" stroke-width="0.78" opacity="0.22"/><path d="M33.8,72.0 L39.5,68.8 L45.3,65.6 L51.1,62.5 L56.9,59.4" stroke-width="0.78" opacity="0.38"/><path d="M57.6,43.4 L59.8,42.1 L62.1,40.9 L64.4,39.6 L66.7,38.4" stroke-width="0.97" opacity="0.27"/><path d="M-1.9,44.1 L0.7,42.5 L3.3,41.0 L5.9,39.5 L8.5,38.0" stroke-width="0.92" opacity="0.34"/><path d="M90.5,52.0 L92.4,51.1 L94.2,50.1 L96.0,49.0 L97.8,48.0" stroke-width="0.92" opacity="0.24"/><path d="M93.2,62.8 L95.0,61.8 L96.8,60.9 L98.7,60.0 L100.5,59.1" stroke-width="0.81" opacity="0.40"/><path d="M42.0,71.5 L45.9,69.2 L49.8,66.9 L53.8,64.8 L57.8,62.8" stroke-width="0.60" opacity="0.38"/><path d="M61.5,31.3 L65.0,28.8 L68.5,26.5 L72.0,24.3 L75.6,22.1" stroke-width="1.05" opacity="0.36"/><path d="M11.4,74.9 L16.9,72.3 L22.4,69.6 L27.9,66.9 L33.3,64.1" stroke-width="0.54" opacity="0.39"/><path d="M36.9,74.5 L39.9,72.9 L42.9,71.3 L45.9,69.7 L48.9,68.1" stroke-width="1.03" opacity="0.39"/><path d="M-10.1,74.6 L-3.1,71.2 L4.0,67.7 L10.9,64.2 L17.9,60.5" stroke-width="0.79" opacity="0.24"/><path d="M-13.5,71.3 L-6.3,67.5 L1.0,63.8 L8.3,60.3 L15.7,56.8" stroke-width="0.96" opacity="0.19"/><path d="M15.5,34.6 L18.7,33.0 L21.8,31.4 L25.0,29.9 L28.1,28.4" stroke-width="1.08" opacity="0.36"/><path d="M40.7,50.3 L44.0,48.4 L47.3,46.4 L50.6,44.5 L53.8,42.4" stroke-width="0.92" opacity="0.23"/><path d="M93.4,66.1 L96.4,64.9 L99.3,63.6 L102.3,62.2 L105.2,60.8" stroke-width="0.86" opacity="0.17"/><path d="M37.8,57.0 L42.9,54.6 L48.0,52.1 L53.1,49.6 L58.2,47.0" stroke-width="0.58" opacity="0.39"/><path d="M66.0,38.5 L73.3,34.4 L80.5,30.3 L87.6,26.2 L94.8,22.0" stroke-width="0.55" opacity="0.18"/><path d="M29.8,38.2 L37.1,34.8 L44.3,31.3 L51.5,27.6 L58.6,23.9" stroke-width="0.88" opacity="0.42"/><path d="M52.2,14.1 L54.5,13.2 L56.7,12.2 L58.9,11.3 L61.1,10.2" stroke-width="0.66" opacity="0.38"/><path d="M67.3,16.3 L74.5,12.9 L81.7,9.3 L88.9,5.6 L95.9,1.8" stroke-width="0.61" opacity="0.35"/><path d="M78.4,15.4 L84.6,12.5 L90.7,9.6 L96.9,6.7 L103.1,3.7" stroke-width="0.85" opacity="0.35"/><path d="M29.9,28.2 L34.5,25.6 L39.1,23.1 L43.7,20.7 L48.4,18.4" stroke-width="0.72" opacity="0.23"/><path d="M43.9,62.1 L49.4,59.0 L55.0,55.9 L60.6,52.9 L66.3,50.0" stroke-width="0.97" opacity="0.16"/><path d="M66.7,48.0 L70.3,46.6 L73.9,45.2 L77.5,43.6 L81.0,42.0" stroke-width="0.70" opacity="0.21"/><path d="M16.7,7.7 L18.5,6.6 L20.2,5.4 L21.9,4.3 L23.6,3.2" stroke-width="0.50" opacity="0.27"/><path d="M78.7,64.7 L81.8,63.4 L84.8,62.2 L87.8,60.9 L90.9,59.7" stroke-width="0.89" opacity="0.39"/><path d="M35.1,89.2 L38.2,87.8 L41.3,86.4 L44.4,84.9 L47.5,83.3" stroke-width="0.62" opacity="0.41"/><path d="M7.6,6.5 L12.8,3.8 L18.1,1.2 L23.4,-1.3 L28.7,-3.8" stroke-width="0.72" opacity="0.24"/><path d="M40.8,28.8 L47.0,25.3 L53.1,21.9 L59.3,18.6 L65.5,15.3" stroke-width="0.52" opacity="0.20"/><path d="M70.6,74.9 L77.8,70.9 L85.0,66.8 L92.2,62.8 L99.4,58.8" stroke-width="0.61" opacity="0.32"/><path d="M33.1,66.6 L36.8,64.3 L40.4,61.9 L44.0,59.4 L47.6,56.9" stroke-width="0.62" opacity="0.18"/><path d="M60.4,66.8 L66.5,63.5 L72.5,60.1 L78.5,56.7 L84.5,53.1" stroke-width="0.80" opacity="0.29"/><path d="M91.0,42.6 L95.6,40.2 L100.2,37.8 L104.8,35.4 L109.4,33.0" stroke-width="0.77" opacity="0.22"/><path d="M28.7,71.3 L34.5,68.3 L40.3,65.2 L45.9,62.0 L51.5,58.6" stroke-width="0.99" opacity="0.20"/><path d="M17.4,75.0 L19.9,73.8 L22.5,72.7 L25.1,71.6 L27.7,70.6" stroke-width="0.75" opacity="0.24"/><path d="M87.8,23.2 L92.6,20.5 L97.3,17.8 L102.0,15.0 L106.6,12.0" stroke-width="0.59" opacity="0.25"/><path d="M-11.6,9.5 L-5.8,5.7 L0.0,2.1 L6.0,-1.5 L11.9,-4.9" stroke-width="0.54" opacity="0.33"/><path d="M87.9,42.0 L93.4,38.6 L98.9,35.2 L104.5,31.9 L110.1,28.6" stroke-width="0.61" opacity="0.37"/><path d="M37.7,4.8 L39.8,3.9 L42.0,3.0 L44.1,2.1 L46.3,1.2" stroke-width="0.64" opacity="0.23"/><path d="M87.0,35.9 L89.1,34.9 L91.3,33.9 L93.4,32.8 L95.5,31.6" stroke-width="0.75" opacity="0.27"/><path d="M45.9,30.8 L47.8,30.0 L49.8,29.1 L51.7,28.1 L53.6,27.2" stroke-width="0.59" opacity="0.29"/><path d="M62.3,43.4 L68.4,39.9 L74.4,36.4 L80.5,33.1 L86.6,29.8" stroke-width="1.07" opacity="0.34"/><path d="M27.5,85.5 L29.4,84.7 L31.3,83.8 L33.3,83.0 L35.2,82.1" stroke-width="0.57" opacity="0.21"/><path d="M23.4,38.1 L27.9,35.4 L32.5,32.8 L37.2,30.3 L41.9,27.9" stroke-width="1.06" opacity="0.35"/><path d="M19.0,41.1 L26.7,37.1 L34.4,32.9 L41.9,28.7 L49.4,24.2" stroke-width="1.03" opacity="0.40"/><path d="M11.1,44.1 L18.6,40.3 L26.0,36.3 L33.3,32.3 L40.7,28.3" stroke-width="0.80" opacity="0.27"/><path d="M51.4,49.7 L54.3,48.3 L57.3,47.0 L60.2,45.7 L63.2,44.5" stroke-width="0.95" opacity="0.18"/><path d="M20.2,20.7 L25.6,18.3 L31.0,15.9 L36.4,13.6 L41.8,11.2" stroke-width="0.91" opacity="0.42"/><path d="M43.0,86.6 L50.5,83.4 L58.0,80.1 L65.5,76.6 L72.8,73.0" stroke-width="0.57" opacity="0.21"/><path d="M-16.2,80.3 L-9.7,77.5 L-3.1,74.7 L3.4,71.8 L9.9,68.9" stroke-width="0.89" opacity="0.35"/><path d="M91.3,28.2 L93.6,26.9 L96.0,25.6 L98.3,24.4 L100.7,23.2" stroke-width="0.97" opacity="0.17"/><path d="M78.1,73.4 L81.6,71.7 L85.1,70.0 L88.6,68.3 L92.0,66.5" stroke-width="0.50" opacity="0.40"/><path d="M60.4,57.0 L62.3,56.2 L64.1,55.4 L66.0,54.5 L67.8,53.7" stroke-width="0.60" opacity="0.19"/><path d="M37.7,6.3 L43.5,3.7 L49.3,1.0 L55.1,-1.8 L60.8,-4.7" stroke-width="1.01" opacity="0.26"/><path d="M77.0,25.7 L81.8,22.9 L86.5,20.2 L91.2,17.5 L96.0,14.7" stroke-width="0.90" opacity="0.32"/><path d="M60.4,8.9 L65.8,5.9 L71.2,2.8 L76.5,-0.4 L81.7,-3.7" stroke-width="0.92" opacity="0.19"/><path d="M-14.8,10.7 L-7.1,6.9 L0.6,3.0 L8.1,-1.1 L15.6,-5.3" stroke-width="0.91" opacity="0.21"/><path d="M47.8,24.3 L53.6,21.2 L59.2,17.9 L64.8,14.4 L70.3,10.8" stroke-width="0.93" opacity="0.31"/><path d="M-7.5,24.4 L-3.1,21.9 L1.3,19.5 L5.6,16.9 L10.0,14.3" stroke-width="0.52" opacity="0.37"/><path d="M46.6,29.1 L48.6,28.2 L50.6,27.3 L52.6,26.3 L54.5,25.4" stroke-width="1.00" opacity="0.16"/><path d="M58.1,26.2 L64.3,23.1 L70.6,20.1 L76.9,17.1 L83.3,14.1" stroke-width="0.51" opacity="0.41"/><path d="M77.9,72.9 L84.3,70.0 L90.8,67.2 L97.3,64.3 L103.9,61.6" stroke-width="0.89" opacity="0.20"/><path d="M2.2,78.1 L9.3,74.9 L16.4,71.8 L23.6,68.6 L30.7,65.6" stroke-width="0.78" opacity="0.18"/><path d="M-13.4,49.0 L-8.6,46.6 L-3.8,44.4 L1.1,42.2 L6.1,40.1" stroke-width="1.02" opacity="0.42"/><path d="M-2.5,92.0 L1.2,89.9 L5.0,87.9 L8.7,85.9 L12.5,84.0" stroke-width="0.61" opacity="0.26"/><path d="M47.1,45.3 L52.3,42.4 L57.4,39.4 L62.5,36.3 L67.5,33.2" stroke-width="0.93" opacity="0.20"/><path d="M-7.1,86.6 L-4.7,85.4 L-2.3,84.2 L0.0,83.0 L2.4,81.8" stroke-width="0.96" opacity="0.38"/><path d="M46.8,25.9 L53.2,23.0 L59.6,20.0 L65.9,16.9 L72.2,13.6" stroke-width="0.77" opacity="0.38"/><path d="M69.0,87.3 L72.8,85.7 L76.6,84.2 L80.5,82.7 L84.5,81.4" stroke-width="0.59" opacity="0.34"/><path d="M61.3,8.4 L65.7,6.0 L70.0,3.6 L74.4,1.3 L78.7,-1.0" stroke-width="1.06" opacity="0.32"/><path d="M34.4,91.7 L39.7,88.3 L45.1,85.0 L50.5,81.8 L56.0,78.6" stroke-width="0.83" opacity="0.38"/><path d="M65.5,49.1 L71.2,46.2 L76.9,43.2 L82.4,40.0 L88.0,36.7" stroke-width="0.75" opacity="0.36"/><path d="M58.2,62.0 L63.8,59.0 L69.5,56.2 L75.2,53.3 L81.0,50.6" stroke-width="1.03" opacity="0.20"/><path d="M75.9,13.2 L77.7,12.3 L79.6,11.4 L81.4,10.4 L83.1,9.4" stroke-width="0.60" opacity="0.43"/><path d="M68.2,23.9 L73.7,21.7 L79.1,19.5 L84.5,17.1 L89.8,14.6" stroke-width="0.62" opacity="0.34"/><path d="M61.7,80.6 L65.5,78.6 L69.3,76.6 L73.1,74.8 L77.0,73.0" stroke-width="0.52" opacity="0.29"/><path d="M68.1,93.0 L75.2,89.0 L82.4,85.1 L89.6,81.3 L96.9,77.5" stroke-width="0.68" opacity="0.39"/><path d="M82.2,0.4 L84.7,-0.4 L87.2,-1.2 L89.7,-2.1 L92.1,-3.0" stroke-width="0.73" opacity="0.41"/><path d="M23.3,82.4 L29.2,80.0 L35.0,77.5 L40.9,75.0 L46.7,72.4" stroke-width="0.99" opacity="0.19"/><path d="M74.2,46.8 L78.2,45.0 L82.2,43.2 L86.1,41.3 L90.1,39.5" stroke-width="1.09" opacity="0.44"/><path d="M39.0,58.8 L44.7,55.6 L50.4,52.3 L56.1,49.0 L61.7,45.7" stroke-width="1.06" opacity="0.24"/><path d="M93.0,52.4 L96.6,51.0 L100.2,49.6 L103.8,48.2 L107.4,46.8" stroke-width="0.85" opacity="0.17"/><path d="M24.2,33.7 L27.6,31.8 L30.9,29.8 L34.2,27.9 L37.5,25.9" stroke-width="0.78" opacity="0.19"/><path d="M29.4,81.5 L35.5,77.9 L41.5,74.2 L47.5,70.5 L53.5,66.6" stroke-width="0.78" opacity="0.30"/><path d="M52.0,83.3 L59.8,79.6 L67.5,76.0 L75.3,72.4 L83.0,68.8" stroke-width="1.08" opacity="0.38"/><path d="M29.2,93.6 L36.1,90.0 L43.0,86.4 L49.9,82.8 L56.7,79.2" stroke-width="1.01" opacity="0.33"/><path d="M51.0,57.5 L56.4,54.5 L61.8,51.6 L67.2,48.8 L72.7,45.9" stroke-width="0.74" opacity="0.41"/><path d="M85.1,10.0 L89.7,8.1 L94.3,6.1 L98.8,4.1 L103.3,1.9" stroke-width="0.80" opacity="0.17"/><path d="M5.2,49.8 L10.5,46.5 L15.9,43.3 L21.2,40.2 L26.7,37.1" stroke-width="0.88" opacity="0.42"/><path d="M42.1,6.0 L47.5,3.2 L52.9,0.4 L58.3,-2.5 L63.6,-5.4" stroke-width="0.87" opacity="0.25"/><path d="M-14.7,25.6 L-7.3,22.0 L0.2,18.4 L7.7,14.8 L15.2,11.3" stroke-width="0.90" opacity="0.29"/><path d="M30.5,65.3 L37.4,62.6 L44.1,59.8 L50.8,56.8 L57.4,53.6" stroke-width="0.67" opacity="0.26"/><path d="M44.9,7.4 L48.3,5.6 L51.6,3.7 L54.9,1.8 L58.2,-0.1" stroke-width="0.72" opacity="0.29"/><path d="M24.6,89.7 L32.1,85.1 L39.5,80.5 L47.0,76.0 L54.6,71.6" stroke-width="1.07" opacity="0.34"/><path d="M65.1,61.1 L72.7,56.8 L80.4,52.6 L88.1,48.4 L95.8,44.3" stroke-width="0.70" opacity="0.31"/><path d="M-3.3,40.3 L1.0,38.2 L5.2,36.1 L9.5,34.1 L13.9,32.1" stroke-width="0.87" opacity="0.24"/><path d="M25.3,51.2 L27.2,50.2 L29.2,49.2 L31.2,48.1 L33.1,47.1" stroke-width="0.75" opacity="0.23"/><path d="M74.6,85.3 L81.1,81.5 L87.7,77.8 L94.3,74.1 L100.9,70.5" stroke-width="0.98" opacity="0.40"/><path d="M51.3,38.8 L56.4,35.9 L61.6,33.2 L66.9,30.6 L72.2,28.1" stroke-width="0.92" opacity="0.26"/><path d="M21.4,67.1 L24.3,65.7 L27.3,64.2 L30.2,62.8 L33.2,61.3" stroke-width="0.76" opacity="0.24"/><path d="M76.5,9.8 L83.6,6.3 L90.6,2.9 L97.6,-0.6 L104.7,-4.1" stroke-width="0.68" opacity="0.23"/><path d="M38.0,51.1 L40.1,50.2 L42.2,49.3 L44.3,48.4 L46.4,47.6" stroke-width="0.67" opacity="0.21"/><path d="M68.1,3.0 L70.0,2.0 L72.0,1.0 L74.0,0.0 L76.0,-0.9" stroke-width="0.64" opacity="0.28"/><path d="M74.1,81.8 L77.5,80.6 L80.9,79.4 L84.3,78.2 L87.7,77.0" stroke-width="0.58" opacity="0.32"/><path d="M53.7,62.9 L61.3,58.7 L68.9,54.6 L76.5,50.7 L84.3,46.9" stroke-width="0.75" opacity="0.27"/><path d="M75.2,17.2 L77.3,15.9 L79.3,14.7 L81.4,13.4 L83.5,12.2" stroke-width="1.04" opacity="0.39"/><path d="M2.4,50.1 L5.2,49.0 L8.0,47.8 L10.8,46.6 L13.5,45.2" stroke-width="0.65" opacity="0.41"/><path d="M37.8,21.8 L40.3,20.6 L42.8,19.4 L45.4,18.1 L47.9,16.9" stroke-width="0.76" opacity="0.26"/><path d="M82.6,41.4 L89.4,37.4 L96.4,33.6 L103.3,29.9 L110.4,26.3" stroke-width="0.79" opacity="0.20"/><path d="M74.8,58.4 L79.0,57.2 L83.3,55.9 L87.5,54.5 L91.7,53.1" stroke-width="0.56" opacity="0.35"/><path d="M25.8,74.3 L32.4,71.7 L39.0,69.1 L45.6,66.5 L52.2,64.0" stroke-width="0.65" opacity="0.27"/><path d="M37.5,22.7 L39.8,21.5 L42.1,20.3 L44.4,19.2 L46.8,18.1" stroke-width="1.07" opacity="0.38"/><path d="M59.0,41.6 L62.4,39.8 L65.8,38.1 L69.3,36.4 L72.8,34.8" stroke-width="0.74" opacity="0.29"/><path d="M81.9,41.9 L89.1,37.9 L96.3,34.0 L103.6,30.3 L111.0,26.6" stroke-width="1.09" opacity="0.43"/><path d="M70.2,45.5 L76.5,43.1 L82.7,40.6 L88.8,38.1 L95.0,35.4" stroke-width="1.10" opacity="0.22"/><path d="M66.3,73.2 L71.1,71.0 L75.9,68.8 L80.7,66.5 L85.5,64.3" stroke-width="1.03" opacity="0.16"/><path d="M2.3,33.1 L6.4,30.9 L10.4,28.7 L14.4,26.5 L18.4,24.2" stroke-width="0.68" opacity="0.29"/><path d="M42.5,70.5 L46.4,68.2 L50.3,65.9 L54.3,63.6 L58.3,61.3" stroke-width="0.96" opacity="0.42"/><path d="M-7.2,71.0 L-2.7,68.9 L1.7,66.8 L6.1,64.5 L10.5,62.2" stroke-width="0.78" opacity="0.35"/><path d="M46.0,66.7 L49.4,65.1 L52.9,63.5 L56.4,61.9 L59.8,60.2" stroke-width="0.53" opacity="0.16"/><path d="M13.8,17.3 L17.6,15.6 L21.5,13.9 L25.4,12.3 L29.3,10.6" stroke-width="0.81" opacity="0.38"/><path d="M77.7,24.9 L84.1,22.2 L90.4,19.5 L96.7,16.8 L102.9,14.0" stroke-width="0.60" opacity="0.42"/><path d="M37.0,54.3 L44.4,49.9 L51.9,45.5 L59.4,41.3 L67.0,37.1" stroke-width="0.66" opacity="0.23"/><path d="M68.2,31.6 L73.5,29.3 L78.8,26.9 L84.1,24.6 L89.4,22.3" stroke-width="0.84" opacity="0.40"/><path d="M66.3,63.1 L71.9,60.4 L77.5,57.7 L83.1,55.0 L88.7,52.3" stroke-width="0.92" opacity="0.16"/><path d="M38.3,53.8 L45.3,50.1 L52.3,46.5 L59.4,43.0 L66.6,39.6" stroke-width="0.99" opacity="0.20"/><path d="M-14.0,54.8 L-7.5,51.0 L-0.9,47.3 L5.7,43.7 L12.5,40.3" stroke-width="0.59" opacity="0.25"/><path d="M8.8,93.4 L13.7,90.4 L18.6,87.4 L23.6,84.5 L28.5,81.5" stroke-width="0.64" opacity="0.18"/><path d="M-11.7,21.8 L-7.5,20.2 L-3.3,18.6 L0.8,17.0 L5.0,15.4" stroke-width="1.07" opacity="0.19"/><path d="M21.8,36.1 L27.6,33.3 L33.6,30.6 L39.5,28.0 L45.6,25.5" stroke-width="1.02" opacity="0.37"/><path d="M29.9,20.9 L32.3,19.9 L34.7,18.8 L37.1,17.7 L39.4,16.6" stroke-width="0.89" opacity="0.35"/><path d="M57.7,83.4 L64.4,80.7 L71.1,77.9 L77.8,75.0 L84.5,72.2" stroke-width="0.66" opacity="0.37"/><path d="M-6.2,23.1 L-1.0,20.4 L4.3,17.8 L9.7,15.2 L15.0,12.6" stroke-width="0.70" opacity="0.41"/><path d="M79.0,69.6 L86.4,66.0 L93.9,62.3 L101.3,58.6 L108.7,54.8" stroke-width="0.80" opacity="0.16"/><path d="M6.6,51.9 L10.3,50.2 L14.0,48.4 L17.8,46.8 L21.6,45.1" stroke-width="1.00" opacity="0.24"/><path d="M78.9,3.1 L83.7,0.6 L88.5,-1.8 L93.4,-4.1 L98.4,-6.3" stroke-width="0.81" opacity="0.42"/><path d="M65.2,12.2 L71.9,8.3 L78.7,4.3 L85.5,0.4 L92.3,-3.6" stroke-width="0.82" opacity="0.25"/><path d="M54.8,8.0 L58.2,6.0 L61.5,3.9 L64.9,1.9 L68.2,-0.2" stroke-width="0.81" opacity="0.38"/><path d="M7.4,16.8 L11.3,14.7 L15.2,12.7 L19.1,10.6 L23.0,8.7" stroke-width="1.06" opacity="0.29"/><path d="M-2.4,26.7 L5.2,23.2 L12.6,19.6 L20.0,15.9 L27.4,12.0" stroke-width="1.02" opacity="0.39"/><path d="M75.5,46.4 L79.9,44.0 L84.3,41.7 L88.7,39.5 L93.1,37.3" stroke-width="0.70" opacity="0.24"/><path d="M12.9,90.8 L18.9,88.1 L24.8,85.3 L30.7,82.4 L36.5,79.4" stroke-width="0.65" opacity="0.36"/><path d="M-8.0,63.7 L-1.1,59.4 L5.7,55.0 L12.5,50.6 L19.2,46.0" stroke-width="0.82" opacity="0.26"/><path d="M49.8,86.5 L56.9,82.6 L64.0,78.7 L71.3,75.0 L78.6,71.4" stroke-width="1.07" opacity="0.28"/><path d="M63.4,62.9 L67.4,60.5 L71.4,58.1 L75.5,55.7 L79.6,53.4" stroke-width="0.70" opacity="0.27"/><path d="M80.2,21.1 L83.7,19.1 L87.2,17.1 L90.7,15.2 L94.1,13.2" stroke-width="1.02" opacity="0.22"/><path d="M66.8,19.6 L73.1,16.5 L79.4,13.3 L85.7,10.1 L92.0,6.9" stroke-width="1.06" opacity="0.32"/><path d="M23.9,6.1 L25.8,5.2 L27.7,4.3 L29.6,3.4 L31.5,2.4" stroke-width="0.92" opacity="0.30"/><path d="M-2.6,37.8 L2.6,34.8 L7.7,31.7 L12.7,28.5 L17.7,25.1" stroke-width="0.88" opacity="0.29"/><path d="M29.7,39.7 L37.1,36.5 L44.5,33.4 L51.9,30.4 L59.3,27.4" stroke-width="0.94" opacity="0.29"/><path d="M77.0,39.1 L82.9,35.8 L88.7,32.5 L94.5,29.0 L100.3,25.6" stroke-width="0.75" opacity="0.30"/><path d="M-1.2,30.2 L1.4,28.4 L4.1,26.6 L6.7,24.9 L9.4,23.2" stroke-width="0.97" opacity="0.41"/><path d="M35.3,47.2 L40.6,44.4 L45.8,41.5 L50.9,38.5 L56.0,35.3" stroke-width="1.03" opacity="0.37"/><path d="M81.6,73.9 L85.3,72.2 L89.0,70.4 L92.7,68.7 L96.4,66.9" stroke-width="1.01" opacity="0.40"/><path d="M34.4,25.7 L37.1,24.3 L39.8,22.8 L42.5,21.3 L45.1,19.8" stroke-width="0.69" opacity="0.21"/><path d="M52.2,69.9 L55.3,68.2 L58.4,66.4 L61.5,64.7 L64.6,62.9" stroke-width="0.60" opacity="0.29"/><path d="M-0.4,68.4 L5.9,65.2 L12.2,62.0 L18.5,58.7 L24.7,55.4" stroke-width="0.60" opacity="0.19"/><path d="M9.6,83.5 L13.5,81.5 L17.4,79.5 L21.3,77.5 L25.2,75.4" stroke-width="1.05" opacity="0.34"/><path d="M85.2,17.3 L88.5,15.6 L91.8,14.0 L95.0,12.3 L98.3,10.6" stroke-width="0.86" opacity="0.36"/><path d="M-6.0,53.1 L1.8,49.5 L9.5,45.8 L17.2,41.9 L24.7,37.9" stroke-width="0.87" opacity="0.34"/><path d="M-3.6,39.1 L0.7,37.5 L5.0,35.9 L9.3,34.2 L13.5,32.6" stroke-width="1.06" opacity="0.35"/><path d="M65.1,88.6 L67.6,87.3 L70.1,86.0 L72.7,84.7 L75.3,83.5" stroke-width="0.84" opacity="0.38"/><path d="M86.9,14.7 L92.3,12.0 L97.7,9.4 L103.1,6.7 L108.5,4.1" stroke-width="0.78" opacity="0.30"/><path d="M45.8,72.7 L49.4,70.3 L53.1,67.9 L56.8,65.6 L60.5,63.3" stroke-width="0.85" opacity="0.41"/><path d="M39.5,65.3 L44.0,63.2 L48.5,60.9 L53.0,58.5 L57.4,56.0" stroke-width="0.99" opacity="0.36"/><path d="M31.9,33.2 L38.3,30.3 L44.6,27.3 L50.9,24.2 L57.1,20.9" stroke-width="0.90" opacity="0.17"/><path d="M0.7,44.4 L6.8,41.3 L13.0,38.2 L19.1,35.1 L25.3,32.1" stroke-width="0.76" opacity="0.36"/><path d="M58.2,4.5 L60.0,3.4 L61.8,2.4 L63.6,1.3 L65.4,0.3" stroke-width="0.80" opacity="0.30"/><path d="M-2.8,77.0 L2.9,74.2 L8.6,71.4 L14.4,68.8 L20.2,66.2" stroke-width="0.52" opacity="0.26"/><path d="M52.2,92.7 L57.8,90.2 L63.4,87.6 L69.1,85.0 L74.7,82.4" stroke-width="0.97" opacity="0.30"/><path d="M39.5,10.4 L46.7,6.4 L54.0,2.6 L61.4,-1.1 L68.8,-4.8" stroke-width="0.78" opacity="0.17"/><path d="M8.8,28.5 L13.6,26.0 L18.3,23.4 L23.1,21.0 L27.9,18.5" stroke-width="0.66" opacity="0.44"/><path d="M39.7,40.6 L44.4,38.1 L49.1,35.6 L53.8,33.1 L58.5,30.6" stroke-width="0.58" opacity="0.44"/><path d="M23.9,15.3 L28.4,12.9 L32.9,10.4 L37.3,7.8 L41.7,5.2" stroke-width="1.07" opacity="0.29"/><path d="M40.2,86.5 L48.2,83.2 L56.3,80.0 L64.5,76.9 L72.7,73.8" stroke-width="0.68" opacity="0.25"/><path d="M33.6,7.5 L38.9,5.3 L44.2,3.1 L49.5,0.8 L54.8,-1.6" stroke-width="0.98" opacity="0.40"/><path d="M28.8,38.3 L33.7,36.4 L38.6,34.4 L43.4,32.4 L48.2,30.3" stroke-width="0.72" opacity="0.23"/><path d="M21.7,63.2 L27.0,60.2 L32.3,57.3 L37.7,54.5 L43.1,51.7" stroke-width="1.07" opacity="0.42"/><path d="M73.4,21.0 L80.1,17.7 L86.8,14.4 L93.5,11.0 L100.1,7.6" stroke-width="0.68" opacity="0.26"/><path d="M81.1,68.2 L87.1,64.9 L93.1,61.7 L99.1,58.5 L105.2,55.5" stroke-width="0.77" opacity="0.22"/><path d="M89.1,56.2 L94.0,53.3 L99.0,50.5 L104.0,47.7 L109.1,44.9" stroke-width="0.57" opacity="0.28"/><path d="M46.2,10.5 L53.4,6.8 L60.5,3.0 L67.6,-0.9 L74.6,-4.9" stroke-width="0.67" opacity="0.38"/><path d="M25.6,11.8 L28.9,10.3 L32.2,8.7 L35.6,7.2 L38.9,5.7" stroke-width="0.61" opacity="0.23"/><path d="M-6.3,73.2 L-2.3,71.3 L1.6,69.3 L5.5,67.2 L9.4,65.1" stroke-width="1.07" opacity="0.33"/><path d="M63.4,30.8 L69.8,27.4 L76.1,24.0 L82.4,20.4 L88.6,16.7" stroke-width="0.72" opacity="0.36"/><path d="M25.2,62.5 L28.4,60.7 L31.7,58.9 L35.0,57.2 L38.3,55.4" stroke-width="0.51" opacity="0.27"/><path d="M82.6,8.2 L84.7,6.9 L86.9,5.8 L89.0,4.6 L91.2,3.5" stroke-width="0.93" opacity="0.37"/><path d="M38.0,88.6 L41.9,86.6 L45.9,84.7 L49.9,82.8 L53.9,80.9" stroke-width="0.82" opacity="0.17"/><path d="M39.9,56.1 L47.2,52.4 L54.4,48.5 L61.5,44.4 L68.5,40.2" stroke-width="0.68" opacity="0.41"/><path d="M-3.6,89.6 L2.1,86.9 L7.7,84.1 L13.2,81.2 L18.7,78.2" stroke-width="0.79" opacity="0.16"/><path d="M23.7,32.0 L26.8,30.8 L30.0,29.7 L33.1,28.6 L36.3,27.6" stroke-width="0.53" opacity="0.16"/><path d="M24.2,50.6 L30.8,47.4 L37.3,44.3 L44.0,41.4 L50.7,38.7" stroke-width="0.65" opacity="0.41"/><path d="M68.0,27.4 L70.6,26.3 L73.2,25.1 L75.8,23.9 L78.3,22.6" stroke-width="0.63" opacity="0.23"/><path d="M46.4,85.4 L53.0,81.2 L59.7,76.9 L66.4,72.8 L73.1,68.6" stroke-width="0.81" opacity="0.44"/><path d="M55.4,85.9 L61.1,82.9 L66.8,80.0 L72.5,77.2 L78.3,74.5" stroke-width="0.84" opacity="0.37"/><path d="M70.9,13.7 L76.7,11.1 L82.4,8.4 L88.2,5.9 L94.1,3.3" stroke-width="0.54" opacity="0.39"/><path d="M55.6,54.1 L60.4,51.5 L65.3,48.9 L70.2,46.3 L75.0,43.7" stroke-width="0.76" opacity="0.35"/><path d="M73.0,74.7 L78.5,71.2 L84.0,67.7 L89.5,64.3 L95.0,60.9" stroke-width="0.86" opacity="0.37"/><path d="M65.9,81.1 L70.5,78.2 L75.1,75.3 L79.6,72.3 L84.2,69.3" stroke-width="0.74" opacity="0.17"/><path d="M73.9,70.3 L78.8,67.6 L83.6,64.9 L88.5,62.2 L93.4,59.4" stroke-width="0.52" opacity="0.29"/><path d="M67.6,19.4 L72.3,16.6 L77.0,13.7 L81.6,10.8 L86.2,7.8" stroke-width="0.64" opacity="0.24"/><path d="M17.2,65.3 L19.2,64.2 L21.3,63.1 L23.3,62.1 L25.4,61.1" stroke-width="1.00" opacity="0.43"/><path d="M9.7,3.0 L16.4,0.3 L23.2,-2.2 L29.9,-4.7 L36.8,-7.0" stroke-width="0.60" opacity="0.31"/><path d="M21.8,15.3 L24.6,14.0 L27.4,12.6 L30.2,11.3 L33.0,9.9" stroke-width="0.86" opacity="0.24"/><path d="M69.2,23.0 L76.3,18.5 L83.4,14.1 L90.5,9.7 L97.7,5.5" stroke-width="0.60" opacity="0.25"/><path d="M46.6,52.2 L51.8,49.2 L56.9,46.1 L62.0,43.0 L67.0,39.7" stroke-width="0.71" opacity="0.27"/><path d="M1.5,30.4 L3.8,29.1 L6.1,27.8 L8.4,26.6 L10.8,25.4" stroke-width="0.53" opacity="0.39"/><path d="M43.1,77.7 L46.2,76.2 L49.2,74.5 L52.2,72.9 L55.2,71.2" stroke-width="0.57" opacity="0.33"/><path d="M73.3,82.9 L80.7,78.9 L88.0,74.9 L95.2,70.6 L102.4,66.3" stroke-width="0.83" opacity="0.42"/><path d="M57.0,82.6 L64.0,79.6 L71.0,76.5 L77.9,73.3 L84.8,70.1" stroke-width="0.67" opacity="0.22"/><path d="M82.0,3.8 L84.7,2.5 L87.4,1.2 L90.1,-0.1 L92.9,-1.4" stroke-width="0.78" opacity="0.25"/><path d="M90.6,4.0 L92.7,2.8 L94.9,1.6 L97.0,0.5 L99.2,-0.6" stroke-width="1.08" opacity="0.24"/><path d="M48.3,87.7 L51.6,86.1 L55.1,84.5 L58.5,83.1 L62.0,81.7" stroke-width="0.95" opacity="0.39"/><path d="M5.7,53.9 L11.3,51.4 L16.9,49.1 L22.5,46.9 L28.2,44.7" stroke-width="1.03" opacity="0.28"/><path d="M5.7,77.0 L9.3,75.0 L13.0,73.0 L16.6,71.0 L20.2,69.1" stroke-width="0.65" opacity="0.39"/><path d="M92.1,16.0 L94.4,14.8 L96.7,13.6 L99.0,12.3 L101.2,11.0" stroke-width="0.67" opacity="0.16"/><path d="M69.2,11.7 L73.4,9.5 L77.6,7.3 L81.8,5.1 L86.1,3.0" stroke-width="0.53" opacity="0.17"/><path d="M66.7,57.6 L71.0,55.3 L75.2,53.1 L79.6,50.9 L83.9,48.8" stroke-width="0.94" opacity="0.22"/><path d="M34.9,34.8 L36.8,33.8 L38.7,32.8 L40.6,31.8 L42.6,30.9" stroke-width="0.52" opacity="0.29"/><path d="M-3.4,71.4 L-0.4,69.7 L2.6,68.0 L5.6,66.2 L8.6,64.4" stroke-width="0.74" opacity="0.28"/><path d="M63.3,20.3 L65.9,18.8 L68.5,17.3 L71.1,15.8 L73.8,14.4" stroke-width="0.56" opacity="0.34"/><path d="M51.3,8.9 L53.9,7.8 L56.5,6.7 L59.1,5.5 L61.6,4.3" stroke-width="1.00" opacity="0.30"/><path d="M57.5,28.1 L59.7,26.9 L61.8,25.7 L63.9,24.5 L66.1,23.3" stroke-width="0.73" opacity="0.29"/><path d="M75.0,87.5 L81.6,83.7 L88.0,79.8 L94.4,75.8 L100.7,71.6" stroke-width="0.95" opacity="0.26"/><path d="M9.2,29.1 L14.6,26.3 L19.9,23.5 L25.3,20.8 L30.6,18.0" stroke-width="1.08" opacity="0.18"/><path d="M68.1,38.4 L74.5,35.4 L80.9,32.5 L87.4,29.7 L93.9,27.0" stroke-width="0.73" opacity="0.28"/><path d="M2.5,29.0 L6.6,26.7 L10.8,24.4 L14.9,22.0 L19.0,19.5" stroke-width="0.54" opacity="0.30"/><path d="M8.4,78.2 L15.4,75.0 L22.5,71.7 L29.5,68.5 L36.5,65.2" stroke-width="1.05" opacity="0.42"/><path d="M4.2,31.8 L8.3,29.2 L12.4,26.6 L16.5,24.0 L20.5,21.4" stroke-width="0.51" opacity="0.25"/><path d="M92.6,8.2 L96.0,6.2 L99.5,4.3 L103.0,2.5 L106.5,0.7" stroke-width="0.83" opacity="0.39"/><path d="M-0.8,44.0 L4.3,41.5 L9.4,39.1 L14.4,36.7 L19.5,34.2" stroke-width="0.73" opacity="0.21"/><path d="M68.7,91.1 L73.7,88.6 L78.5,86.0 L83.4,83.3 L88.2,80.6" stroke-width="0.52" opacity="0.25"/><path d="M73.2,77.6 L79.2,73.9 L85.1,70.0 L91.0,66.0 L96.8,61.8" stroke-width="0.85" opacity="0.17"/><path d="M6.5,56.8 L11.0,53.8 L15.5,50.9 L20.1,48.1 L24.7,45.3" stroke-width="1.03" opacity="0.41"/><path d="M3.1,45.9 L5.1,44.8 L7.1,43.7 L9.0,42.6 L11.0,41.5" stroke-width="0.97" opacity="0.25"/><path d="M83.0,70.6 L86.7,68.5 L90.5,66.4 L94.2,64.3 L97.9,62.3" stroke-width="0.95" opacity="0.40"/><path d="M24.6,45.0 L28.5,42.8 L32.4,40.6 L36.4,38.5 L40.4,36.6" stroke-width="0.73" opacity="0.17"/><path d="M84.7,41.1 L87.4,39.8 L90.0,38.4 L92.7,36.9 L95.2,35.4" stroke-width="0.86" opacity="0.42"/><path d="M42.9,25.7 L48.2,22.3 L53.6,19.0 L59.1,15.7 L64.6,12.4" stroke-width="0.64" opacity="0.44"/><path d="M71.8,56.2 L76.6,53.3 L81.4,50.4 L86.1,47.3 L90.7,44.2" stroke-width="0.86" opacity="0.29"/><path d="M77.3,85.3 L81.2,83.4 L85.1,81.5 L89.0,79.6 L93.0,77.7" stroke-width="0.61" opacity="0.30"/><path d="M0.0,20.6 L5.7,16.9 L11.5,13.3 L17.2,9.8 L23.0,6.2" stroke-width="0.83" opacity="0.21"/><path d="M19.1,91.4 L26.8,88.1 L34.6,84.9 L42.5,81.9 L50.4,79.1" stroke-width="0.90" opacity="0.28"/><path d="M79.7,83.8 L85.4,80.3 L91.1,76.8 L96.8,73.3 L102.4,69.7" stroke-width="0.83" opacity="0.24"/><path d="M56.4,75.5 L58.8,74.7 L61.2,73.8 L63.6,73.0 L66.0,72.0" stroke-width="1.07" opacity="0.37"/><path d="M65.0,56.7 L70.8,53.6 L76.4,50.5 L82.0,47.3 L87.6,44.0" stroke-width="0.52" opacity="0.24"/><path d="M-6.0,9.5 L-3.6,8.1 L-1.2,6.8 L1.2,5.4 L3.6,4.1" stroke-width="0.85" opacity="0.18"/><path d="M11.7,62.4 L14.6,60.7 L17.5,59.2 L20.4,57.7 L23.3,56.2" stroke-width="0.94" opacity="0.31"/><path d="M-11.5,44.5 L-5.1,41.4 L1.3,38.1 L7.6,34.8 L13.9,31.3" stroke-width="0.69" opacity="0.29"/><path d="M14.3,61.0 L17.3,59.5 L20.3,58.0 L23.3,56.6 L26.4,55.3" stroke-width="0.54" opacity="0.37"/><path d="M48.3,90.9 L53.5,88.2 L58.7,85.7 L63.9,83.2 L69.2,80.8" stroke-width="0.84" opacity="0.30"/><path d="M-1.4,12.0 L6.2,7.8 L13.8,3.7 L21.5,-0.5 L29.1,-4.6" stroke-width="0.82" opacity="0.44"/><path d="M1.8,16.7 L5.3,15.1 L8.8,13.4 L12.2,11.8 L15.7,10.1" stroke-width="0.96" opacity="0.28"/><path d="M26.5,8.5 L32.6,5.5 L38.8,2.5 L44.9,-0.6 L51.0,-3.6" stroke-width="0.73" opacity="0.21"/><path d="M53.1,10.6 L58.8,7.3 L64.4,4.0 L70.0,0.6 L75.6,-2.8" stroke-width="0.68" opacity="0.31"/><path d="M87.9,11.4 L92.4,9.0 L97.0,6.7 L101.7,4.5 L106.4,2.3" stroke-width="0.69" opacity="0.18"/><path d="M86.3,15.3 L91.7,11.7 L97.3,8.2 L102.9,4.8 L108.6,1.5" stroke-width="0.58" opacity="0.44"/><path d="M54.2,14.0 L56.7,12.7 L59.3,11.4 L61.8,10.1 L64.3,8.7" stroke-width="1.00" opacity="0.23"/><path d="M61.7,88.0 L69.2,84.8 L76.8,81.6 L84.3,78.4 L91.8,75.1" stroke-width="0.68" opacity="0.18"/><path d="M28.9,7.5 L35.9,3.7 L42.8,-0.2 L49.8,-3.9 L56.8,-7.7" stroke-width="0.69" opacity="0.34"/><path d="M5.8,84.1 L10.5,81.8 L15.2,79.4 L19.8,77.0 L24.5,74.5" stroke-width="0.81" opacity="0.28"/><path d="M19.1,84.9 L21.2,84.0 L23.2,83.1 L25.2,82.1 L27.2,81.0" stroke-width="1.03" opacity="0.33"/><path d="M15.1,94.1 L22.3,90.0 L29.4,85.8 L36.5,81.6 L43.6,77.2" stroke-width="0.51" opacity="0.25"/><path d="M17.1,21.2 L23.4,17.6 L29.7,13.9 L35.8,10.1 L41.9,6.1" stroke-width="0.90" opacity="0.37"/><path d="M22.1,43.7 L27.8,40.6 L33.6,37.6 L39.3,34.6 L45.1,31.7" stroke-width="0.84" opacity="0.16"/><path d="M43.5,84.6 L50.7,81.0 L58.0,77.3 L65.3,73.6 L72.6,69.9" stroke-width="0.66" opacity="0.23"/><path d="M83.9,28.3 L86.9,26.7 L90.0,25.1 L93.1,23.5 L96.1,21.8" stroke-width="0.51" opacity="0.25"/></g><g fill="none" stroke="#f4f4f4" stroke-linecap="round"><path d="M39.9,32.2 L41.8,31.5 L43.6,30.7 L45.5,29.9 L47.4,29.0" stroke-width="1.04" opacity="0.38"/><path d="M49.0,54.2 L51.1,53.4 L53.2,52.5 L55.3,51.6 L57.4,50.8" stroke-width="0.92" opacity="0.33"/><path d="M61.5,16.0 L66.2,13.5 L71.1,11.0 L75.9,8.6 L80.8,6.2" stroke-width="0.85" opacity="0.52"/><path d="M30.4,66.5 L32.8,65.3 L35.3,64.1 L37.7,62.9 L40.1,61.8" stroke-width="0.90" opacity="0.30"/><path d="M32.4,8.5 L35.8,6.6 L39.2,4.8 L42.7,3.0 L46.2,1.3" stroke-width="0.62" opacity="0.48"/><path d="M79.1,5.8 L83.2,3.9 L87.3,2.0 L91.5,0.0 L95.6,-1.9" stroke-width="0.51" opacity="0.37"/><path d="M79.8,12.7 L85.1,10.1 L90.3,7.3 L95.5,4.5 L100.6,1.5" stroke-width="0.62" opacity="0.51"/><path d="M0.0,47.6 L1.9,46.5 L3.7,45.5 L5.6,44.5 L7.5,43.6" stroke-width="0.80" opacity="0.23"/><path d="M28.7,38.4 L33.8,35.4 L39.0,32.6 L44.2,29.9 L49.6,27.3" stroke-width="0.87" opacity="0.26"/><path d="M-10.1,52.7 L-4.8,49.6 L0.5,46.7 L6.0,43.9 L11.4,41.2" stroke-width="0.66" opacity="0.25"/><path d="M93.5,11.4 L96.7,9.7 L99.8,8.0 L102.9,6.2 L106.1,4.4" stroke-width="0.53" opacity="0.41"/><path d="M53.8,58.2 L59.7,54.0 L65.6,49.9 L71.7,45.9 L77.8,42.0" stroke-width="0.71" opacity="0.23"/><path d="M46.6,44.2 L51.5,41.0 L56.4,37.7 L61.2,34.4 L66.1,31.0" stroke-width="0.98" opacity="0.21"/><path d="M31.3,19.9 L35.9,18.0 L40.5,16.1 L45.1,14.3 L49.8,12.5" stroke-width="0.55" opacity="0.31"/><path d="M-8.0,73.1 L-1.0,70.5 L5.9,67.7 L12.8,64.9 L19.7,62.0" stroke-width="0.93" opacity="0.37"/><path d="M66.1,38.4 L69.3,36.9 L72.5,35.3 L75.7,33.7 L78.8,32.1" stroke-width="0.74" opacity="0.54"/><path d="M71.7,37.4 L78.4,33.6 L85.1,29.9 L92.0,26.4 L98.9,23.0" stroke-width="0.53" opacity="0.29"/><path d="M-2.1,90.5 L5.7,86.6 L13.3,82.5 L20.9,78.3 L28.3,73.9" stroke-width="0.51" opacity="0.41"/><path d="M9.5,36.8 L13.3,34.5 L17.0,32.1 L20.7,29.7 L24.3,27.2" stroke-width="0.84" opacity="0.25"/><path d="M-7.3,54.1 L-1.6,50.5 L4.0,46.9 L9.7,43.4 L15.4,39.9" stroke-width="0.77" opacity="0.22"/><path d="M62.9,37.4 L69.1,34.4 L75.2,31.5 L81.4,28.5 L87.6,25.6" stroke-width="1.03" opacity="0.47"/><path d="M-4.4,6.6 L0.6,4.1 L5.5,1.6 L10.4,-1.1 L15.2,-3.9" stroke-width="0.88" opacity="0.26"/><path d="M67.7,21.3 L72.4,19.3 L77.0,17.2 L81.6,15.0 L86.1,12.7" stroke-width="0.73" opacity="0.40"/><path d="M35.6,87.3 L40.5,84.5 L45.5,81.9 L50.5,79.5 L55.6,77.1" stroke-width="0.52" opacity="0.53"/><path d="M74.3,54.3 L81.3,50.1 L88.3,46.0 L95.3,41.8 L102.3,37.7" stroke-width="0.89" opacity="0.22"/><path d="M14.4,68.6 L20.5,65.4 L26.5,62.3 L32.6,59.1 L38.7,55.9" stroke-width="0.92" opacity="0.24"/><path d="M38.2,57.9 L42.3,56.0 L46.4,54.2 L50.6,52.4 L54.8,50.8" stroke-width="0.64" opacity="0.51"/><path d="M57.3,60.1 L64.4,56.6 L71.6,53.2 L78.7,49.8 L85.9,46.4" stroke-width="0.86" opacity="0.21"/><path d="M55.2,38.8 L60.7,36.3 L66.2,33.7 L71.7,31.1 L77.2,28.4" stroke-width="0.54" opacity="0.26"/><path d="M40.5,47.1 L42.4,46.1 L44.3,45.1 L46.3,44.2 L48.3,43.3" stroke-width="0.70" opacity="0.47"/><path d="M-18.5,92.5 L-11.2,87.8 L-4.0,83.0 L3.1,78.1 L10.3,73.2" stroke-width="0.56" opacity="0.49"/><path d="M13.7,70.6 L16.5,69.0 L19.4,67.3 L22.2,65.6 L24.9,63.8" stroke-width="0.57" opacity="0.28"/><path d="M84.6,90.1 L89.0,87.4 L93.5,84.8 L97.9,82.2 L102.4,79.6" stroke-width="0.72" opacity="0.38"/><path d="M9.7,24.4 L14.7,22.1 L19.7,19.8 L24.8,17.7 L29.9,15.7" stroke-width="0.76" opacity="0.27"/><path d="M-9.3,9.6 L-5.9,8.0 L-2.6,6.4 L0.7,4.7 L3.9,3.0" stroke-width="0.86" opacity="0.50"/><path d="M-6.0,25.5 L-2.4,23.6 L1.1,21.7 L4.7,19.8 L8.3,18.0" stroke-width="1.09" opacity="0.48"/><path d="M73.9,87.2 L81.8,84.1 L89.8,81.0 L97.6,77.7 L105.5,74.3" stroke-width="0.69" opacity="0.23"/><path d="M51.1,45.8 L54.8,43.6 L58.5,41.4 L62.2,39.1 L65.8,36.7" stroke-width="0.74" opacity="0.49"/><path d="M15.4,43.5 L19.7,41.1 L24.1,38.6 L28.4,36.1 L32.6,33.6" stroke-width="0.74" opacity="0.27"/><path d="M7.2,49.2 L10.1,47.6 L13.0,46.1 L15.8,44.4 L18.6,42.7" stroke-width="0.90" opacity="0.45"/><path d="M48.4,34.7 L54.6,31.2 L60.8,27.6 L66.9,23.9 L72.9,20.1" stroke-width="0.94" opacity="0.51"/><path d="M48.1,29.0 L50.0,28.1 L51.9,27.1 L53.8,26.2 L55.7,25.3" stroke-width="0.78" opacity="0.39"/><path d="M17.0,78.5 L23.1,75.5 L29.1,72.3 L35.1,69.0 L41.0,65.5" stroke-width="0.82" opacity="0.30"/><path d="M-7.9,82.0 L-5.9,81.0 L-3.8,80.0 L-1.8,78.9 L0.2,77.8" stroke-width="0.60" opacity="0.25"/><path d="M67.5,94.3 L74.5,90.3 L81.5,86.4 L88.5,82.6 L95.5,78.9" stroke-width="0.58" opacity="0.38"/><path d="M25.4,25.4 L29.1,23.3 L32.7,21.3 L36.3,19.2 L39.9,17.2" stroke-width="0.61" opacity="0.33"/><path d="M82.2,50.0 L84.2,49.2 L86.2,48.3 L88.1,47.5 L90.1,46.7" stroke-width="1.02" opacity="0.37"/><path d="M83.5,68.4 L86.9,66.6 L90.3,64.9 L93.8,63.1 L97.2,61.5" stroke-width="0.77" opacity="0.25"/><path d="M8.6,32.3 L14.1,29.7 L19.5,27.0 L24.9,24.2 L30.2,21.3" stroke-width="1.06" opacity="0.39"/><path d="M3.3,73.5 L9.0,70.4 L14.7,67.2 L20.3,64.0 L25.9,60.6" stroke-width="0.58" opacity="0.23"/><path d="M40.2,84.1 L46.0,81.0 L51.9,77.9 L57.8,75.0 L63.9,72.3" stroke-width="1.01" opacity="0.35"/><path d="M83.6,65.9 L88.5,63.7 L93.3,61.5 L98.2,59.2 L103.0,56.9" stroke-width="0.98" opacity="0.22"/><path d="M28.6,60.4 L36.2,57.2 L43.7,54.0 L51.2,50.7 L58.7,47.4" stroke-width="0.55" opacity="0.54"/><path d="M73.2,74.0 L80.6,69.8 L88.1,65.7 L95.7,61.8 L103.4,58.1" stroke-width="0.82" opacity="0.27"/><path d="M47.4,59.4 L49.5,58.4 L51.7,57.4 L53.9,56.4 L56.0,55.3" stroke-width="0.85" opacity="0.50"/><path d="M77.3,25.2 L79.8,23.9 L82.4,22.5 L85.0,21.2 L87.5,19.9" stroke-width="0.52" opacity="0.30"/><path d="M71.2,40.7 L74.0,39.3 L76.9,37.9 L79.7,36.5 L82.5,35.1" stroke-width="0.84" opacity="0.25"/><path d="M54.5,49.5 L59.7,46.6 L64.9,43.9 L70.2,41.2 L75.6,38.7" stroke-width="0.97" opacity="0.50"/><path d="M3.8,34.3 L7.3,32.6 L10.9,31.0 L14.5,29.4 L18.1,27.9" stroke-width="0.61" opacity="0.37"/><path d="M46.7,13.4 L54.2,9.4 L61.7,5.4 L69.3,1.5 L76.8,-2.4" stroke-width="0.65" opacity="0.38"/><path d="M90.4,30.2 L92.5,29.2 L94.7,28.1 L96.9,27.1 L99.0,26.2" stroke-width="0.69" opacity="0.39"/><path d="M7.5,3.0 L12.1,0.8 L16.7,-1.5 L21.3,-3.9 L25.8,-6.3" stroke-width="0.69" opacity="0.24"/><path d="M2.2,59.5 L7.9,56.8 L13.7,54.2 L19.4,51.6 L25.2,49.1" stroke-width="1.05" opacity="0.31"/><path d="M-8.0,67.0 L-5.0,65.3 L-2.0,63.7 L1.0,62.1 L4.1,60.5" stroke-width="0.51" opacity="0.22"/><path d="M65.2,31.8 L67.3,30.5 L69.5,29.1 L71.6,27.8 L73.8,26.6" stroke-width="0.93" opacity="0.45"/><path d="M-8.3,53.7 L-3.6,51.1 L1.2,48.4 L5.9,45.9 L10.7,43.3" stroke-width="0.72" opacity="0.50"/><path d="M85.5,30.8 L87.3,29.6 L89.2,28.4 L91.1,27.2 L92.9,25.9" stroke-width="0.69" opacity="0.54"/><path d="M15.3,74.0 L20.2,71.2 L25.1,68.6 L30.1,66.1 L35.1,63.6" stroke-width="0.56" opacity="0.46"/><path d="M72.2,62.8 L76.7,60.5 L81.2,58.3 L85.7,56.0 L90.2,53.7" stroke-width="1.07" opacity="0.22"/><path d="M83.5,18.8 L89.3,16.2 L95.1,13.5 L100.9,10.8 L106.7,8.1" stroke-width="0.89" opacity="0.48"/><path d="M-17.4,45.4 L-10.1,41.0 L-2.8,36.4 L4.3,31.8 L11.5,27.0" stroke-width="1.09" opacity="0.53"/><path d="M-5.7,24.9 L-3.8,24.1 L-1.9,23.3 L0.0,22.5 L1.9,21.7" stroke-width="0.85" opacity="0.24"/><path d="M53.4,34.3 L56.2,32.8 L59.1,31.2 L62.0,29.7 L64.9,28.2" stroke-width="0.82" opacity="0.51"/><path d="M-5.0,69.3 L2.5,66.6 L10.1,63.9 L17.7,61.3 L25.2,58.8" stroke-width="0.78" opacity="0.27"/><path d="M33.3,71.0 L39.0,67.8 L44.8,64.6 L50.6,61.5 L56.4,58.4" stroke-width="0.78" opacity="0.47"/><path d="M57.1,42.4 L59.3,41.1 L61.6,39.9 L63.9,38.6 L66.2,37.4" stroke-width="0.97" opacity="0.34"/><path d="M-2.4,43.1 L0.2,41.5 L2.8,40.0 L5.4,38.5 L8.0,37.0" stroke-width="0.92" opacity="0.43"/><path d="M90.0,51.0 L91.9,50.1 L93.7,49.1 L95.5,48.0 L97.3,47.0" stroke-width="0.92" opacity="0.30"/><path d="M92.7,61.8 L94.5,60.8 L96.3,59.9 L98.2,59.0 L100.0,58.1" stroke-width="0.81" opacity="0.51"/><path d="M41.5,70.5 L45.4,68.2 L49.3,65.9 L53.3,63.8 L57.3,61.8" stroke-width="0.60" opacity="0.47"/><path d="M61.0,30.3 L64.5,27.8 L68.0,25.5 L71.5,23.3 L75.1,21.1" stroke-width="1.05" opacity="0.44"/><path d="M10.9,73.9 L16.4,71.3 L21.9,68.6 L27.4,65.9 L32.8,63.1" stroke-width="0.54" opacity="0.48"/><path d="M36.4,73.5 L39.4,71.9 L42.4,70.3 L45.4,68.7 L48.4,67.1" stroke-width="1.03" opacity="0.49"/><path d="M-10.6,73.6 L-3.6,70.2 L3.5,66.7 L10.4,63.2 L17.4,59.5" stroke-width="0.79" opacity="0.30"/><path d="M-14.0,70.3 L-6.8,66.5 L0.5,62.8 L7.8,59.3 L15.2,55.8" stroke-width="0.96" opacity="0.23"/><path d="M15.0,33.6 L18.2,32.0 L21.3,30.4 L24.5,28.9 L27.6,27.4" stroke-width="1.08" opacity="0.45"/><path d="M40.2,49.3 L43.5,47.4 L46.8,45.4 L50.1,43.5 L53.3,41.4" stroke-width="0.92" opacity="0.29"/><path d="M92.9,65.1 L95.9,63.9 L98.8,62.6 L101.8,61.2 L104.7,59.8" stroke-width="0.86" opacity="0.21"/><path d="M37.3,56.0 L42.4,53.6 L47.5,51.1 L52.6,48.6 L57.7,46.0" stroke-width="0.58" opacity="0.49"/><path d="M65.5,37.5 L72.8,33.4 L80.0,29.3 L87.1,25.2 L94.3,21.0" stroke-width="0.55" opacity="0.23"/><path d="M29.3,37.2 L36.6,33.8 L43.8,30.3 L51.0,26.6 L58.1,22.9" stroke-width="0.88" opacity="0.53"/><path d="M51.7,13.1 L54.0,12.2 L56.2,11.2 L58.4,10.3 L60.6,9.2" stroke-width="0.66" opacity="0.48"/><path d="M66.8,15.3 L74.0,11.9 L81.2,8.3 L88.4,4.6 L95.4,0.8" stroke-width="0.61" opacity="0.44"/><path d="M77.9,14.4 L84.1,11.5 L90.2,8.6 L96.4,5.7 L102.6,2.7" stroke-width="0.85" opacity="0.44"/><path d="M29.4,27.2 L34.0,24.6 L38.6,22.1 L43.2,19.7 L47.9,17.4" stroke-width="0.72" opacity="0.29"/><path d="M43.4,61.1 L48.9,58.0 L54.5,54.9 L60.1,51.9 L65.8,49.0" stroke-width="0.97" opacity="0.20"/><path d="M66.2,47.0 L69.8,45.6 L73.4,44.2 L77.0,42.6 L80.5,41.0" stroke-width="0.70" opacity="0.26"/><path d="M16.2,6.7 L18.0,5.6 L19.7,4.4 L21.4,3.3 L23.1,2.2" stroke-width="0.50" opacity="0.34"/><path d="M78.2,63.7 L81.3,62.4 L84.3,61.2 L87.3,59.9 L90.4,58.7" stroke-width="0.89" opacity="0.48"/><path d="M34.6,88.2 L37.7,86.8 L40.8,85.4 L43.9,83.9 L47.0,82.3" stroke-width="0.62" opacity="0.51"/><path d="M7.1,5.5 L12.3,2.8 L17.6,0.2 L22.9,-2.3 L28.2,-4.8" stroke-width="0.72" opacity="0.30"/><path d="M40.3,27.8 L46.5,24.3 L52.6,20.9 L58.8,17.6 L65.0,14.3" stroke-width="0.52" opacity="0.25"/><path d="M70.1,73.9 L77.3,69.9 L84.5,65.8 L91.7,61.8 L98.9,57.8" stroke-width="0.61" opacity="0.40"/><path d="M32.6,65.6 L36.3,63.3 L39.9,60.9 L43.5,58.4 L47.1,55.9" stroke-width="0.62" opacity="0.23"/><path d="M59.9,65.8 L66.0,62.5 L72.0,59.1 L78.0,55.7 L84.0,52.1" stroke-width="0.80" opacity="0.36"/><path d="M90.5,41.6 L95.1,39.2 L99.7,36.8 L104.3,34.4 L108.9,32.0" stroke-width="0.77" opacity="0.27"/><path d="M28.2,70.3 L34.0,67.3 L39.8,64.2 L45.4,61.0 L51.0,57.6" stroke-width="0.99" opacity="0.25"/><path d="M16.9,74.0 L19.4,72.8 L22.0,71.7 L24.6,70.6 L27.2,69.6" stroke-width="0.75" opacity="0.30"/><path d="M87.3,22.2 L92.1,19.5 L96.8,16.8 L101.5,14.0 L106.1,11.0" stroke-width="0.59" opacity="0.31"/><path d="M-12.1,8.5 L-6.3,4.7 L-0.5,1.1 L5.5,-2.5 L11.4,-5.9" stroke-width="0.54" opacity="0.41"/><path d="M87.4,41.0 L92.9,37.6 L98.4,34.2 L104.0,30.9 L109.6,27.6" stroke-width="0.61" opacity="0.46"/><path d="M37.2,3.8 L39.3,2.9 L41.5,2.0 L43.6,1.1 L45.8,0.2" stroke-width="0.64" opacity="0.29"/><path d="M86.5,34.9 L88.6,33.9 L90.8,32.9 L92.9,31.8 L95.0,30.6" stroke-width="0.75" opacity="0.34"/><path d="M45.4,29.8 L47.3,29.0 L49.3,28.1 L51.2,27.1 L53.1,26.2" stroke-width="0.59" opacity="0.37"/><path d="M61.8,42.4 L67.9,38.9 L73.9,35.4 L80.0,32.1 L86.1,28.8" stroke-width="1.07" opacity="0.42"/><path d="M27.0,84.5 L28.9,83.7 L30.8,82.8 L32.8,82.0 L34.7,81.1" stroke-width="0.57" opacity="0.27"/><path d="M22.9,37.1 L27.4,34.4 L32.0,31.8 L36.7,29.3 L41.4,26.9" stroke-width="1.06" opacity="0.44"/><path d="M18.5,40.1 L26.2,36.1 L33.9,31.9 L41.4,27.7 L48.9,23.2" stroke-width="1.03" opacity="0.49"/><path d="M10.6,43.1 L18.1,39.3 L25.5,35.3 L32.8,31.3 L40.2,27.3" stroke-width="0.80" opacity="0.34"/><path d="M50.9,48.7 L53.8,47.3 L56.8,46.0 L59.7,44.7 L62.7,43.5" stroke-width="0.95" opacity="0.22"/><path d="M19.7,19.7 L25.1,17.3 L30.5,14.9 L35.9,12.6 L41.3,10.2" stroke-width="0.91" opacity="0.53"/><path d="M42.5,85.6 L50.0,82.4 L57.5,79.1 L65.0,75.6 L72.3,72.0" stroke-width="0.57" opacity="0.26"/><path d="M-16.7,79.3 L-10.2,76.5 L-3.6,73.7 L2.9,70.8 L9.4,67.9" stroke-width="0.89" opacity="0.43"/><path d="M90.8,27.2 L93.1,25.9 L95.5,24.6 L97.8,23.4 L100.2,22.2" stroke-width="0.97" opacity="0.22"/><path d="M77.6,72.4 L81.1,70.7 L84.6,69.0 L88.1,67.3 L91.5,65.5" stroke-width="0.50" opacity="0.50"/><path d="M59.9,56.0 L61.8,55.2 L63.6,54.4 L65.5,53.5 L67.3,52.7" stroke-width="0.60" opacity="0.24"/><path d="M37.2,5.3 L43.0,2.7 L48.8,-0.0 L54.6,-2.8 L60.3,-5.7" stroke-width="1.01" opacity="0.33"/><path d="M76.5,24.7 L81.3,21.9 L86.0,19.2 L90.7,16.5 L95.5,13.7" stroke-width="0.90" opacity="0.40"/><path d="M59.9,7.9 L65.3,4.9 L70.7,1.8 L76.0,-1.4 L81.2,-4.7" stroke-width="0.92" opacity="0.24"/><path d="M-15.3,9.7 L-7.6,5.9 L0.1,2.0 L7.6,-2.1 L15.1,-6.3" stroke-width="0.91" opacity="0.26"/><path d="M47.3,23.3 L53.1,20.2 L58.7,16.9 L64.3,13.4 L69.8,9.8" stroke-width="0.93" opacity="0.39"/><path d="M-8.0,23.4 L-3.6,20.9 L0.8,18.5 L5.1,15.9 L9.5,13.3" stroke-width="0.52" opacity="0.47"/><path d="M46.1,28.1 L48.1,27.2 L50.1,26.3 L52.1,25.3 L54.0,24.4" stroke-width="1.00" opacity="0.21"/><path d="M57.6,25.2 L63.8,22.1 L70.1,19.1 L76.4,16.1 L82.8,13.1" stroke-width="0.51" opacity="0.51"/><path d="M77.4,71.9 L83.8,69.0 L90.3,66.2 L96.8,63.3 L103.4,60.6" stroke-width="0.89" opacity="0.26"/><path d="M1.7,77.1 L8.8,73.9 L15.9,70.8 L23.1,67.6 L30.2,64.6" stroke-width="0.78" opacity="0.23"/><path d="M-13.9,48.0 L-9.1,45.6 L-4.3,43.4 L0.6,41.2 L5.6,39.1" stroke-width="1.02" opacity="0.53"/><path d="M-3.0,91.0 L0.7,88.9 L4.5,86.9 L8.2,84.9 L12.0,83.0" stroke-width="0.61" opacity="0.33"/><path d="M46.6,44.3 L51.8,41.4 L56.9,38.4 L62.0,35.3 L67.0,32.2" stroke-width="0.93" opacity="0.25"/><path d="M-7.6,85.6 L-5.2,84.4 L-2.8,83.2 L-0.5,82.0 L1.9,80.8" stroke-width="0.96" opacity="0.48"/><path d="M46.3,24.9 L52.7,22.0 L59.1,19.0 L65.4,15.9 L71.7,12.6" stroke-width="0.77" opacity="0.47"/><path d="M68.5,86.3 L72.3,84.7 L76.1,83.2 L80.0,81.7 L84.0,80.4" stroke-width="0.59" opacity="0.42"/><path d="M60.8,7.4 L65.2,5.0 L69.5,2.6 L73.9,0.3 L78.2,-2.0" stroke-width="1.06" opacity="0.40"/><path d="M33.9,90.7 L39.2,87.3 L44.6,84.0 L50.0,80.8 L55.5,77.6" stroke-width="0.83" opacity="0.47"/><path d="M65.0,48.1 L70.7,45.2 L76.4,42.2 L81.9,39.0 L87.5,35.7" stroke-width="0.75" opacity="0.45"/><path d="M57.7,61.0 L63.3,58.0 L69.0,55.2 L74.7,52.3 L80.5,49.6" stroke-width="1.03" opacity="0.25"/><path d="M75.4,12.2 L77.2,11.3 L79.1,10.4 L80.9,9.4 L82.6,8.4" stroke-width="0.60" opacity="0.54"/><path d="M67.7,22.9 L73.2,20.7 L78.6,18.5 L84.0,16.1 L89.3,13.6" stroke-width="0.62" opacity="0.43"/><path d="M61.2,79.6 L65.0,77.6 L68.8,75.6 L72.6,73.8 L76.5,72.0" stroke-width="0.52" opacity="0.36"/><path d="M67.6,92.0 L74.7,88.0 L81.9,84.1 L89.1,80.3 L96.4,76.5" stroke-width="0.68" opacity="0.49"/><path d="M81.7,-0.6 L84.2,-1.4 L86.7,-2.2 L89.2,-3.1 L91.6,-4.0" stroke-width="0.73" opacity="0.52"/><path d="M22.8,81.4 L28.7,79.0 L34.5,76.5 L40.4,74.0 L46.2,71.4" stroke-width="0.99" opacity="0.24"/><path d="M73.7,45.8 L77.7,44.0 L81.7,42.2 L85.6,40.3 L89.6,38.5" stroke-width="1.09" opacity="0.55"/><path d="M38.5,57.8 L44.2,54.6 L49.9,51.3 L55.6,48.0 L61.2,44.7" stroke-width="1.06" opacity="0.29"/><path d="M92.5,51.4 L96.1,50.0 L99.7,48.6 L103.3,47.2 L106.9,45.8" stroke-width="0.85" opacity="0.21"/><path d="M23.7,32.7 L27.1,30.8 L30.4,28.8 L33.7,26.9 L37.0,24.9" stroke-width="0.78" opacity="0.23"/><path d="M28.9,80.5 L35.0,76.9 L41.0,73.2 L47.0,69.5 L53.0,65.6" stroke-width="0.78" opacity="0.38"/><path d="M51.5,82.3 L59.3,78.6 L67.0,75.0 L74.8,71.4 L82.5,67.8" stroke-width="1.08" opacity="0.48"/><path d="M28.7,92.6 L35.6,89.0 L42.5,85.4 L49.4,81.8 L56.2,78.2" stroke-width="1.01" opacity="0.41"/><path d="M50.5,56.5 L55.9,53.5 L61.3,50.6 L66.7,47.8 L72.2,44.9" stroke-width="0.74" opacity="0.51"/><path d="M84.6,9.0 L89.2,7.1 L93.8,5.1 L98.3,3.1 L102.8,0.9" stroke-width="0.80" opacity="0.21"/><path d="M4.7,48.8 L10.0,45.5 L15.4,42.3 L20.7,39.2 L26.2,36.1" stroke-width="0.88" opacity="0.53"/><path d="M41.6,5.0 L47.0,2.2 L52.4,-0.6 L57.8,-3.5 L63.1,-6.4" stroke-width="0.87" opacity="0.31"/><path d="M-15.2,24.6 L-7.8,21.0 L-0.3,17.4 L7.2,13.8 L14.7,10.3" stroke-width="0.90" opacity="0.36"/><path d="M30.0,64.3 L36.9,61.6 L43.6,58.8 L50.3,55.8 L56.9,52.6" stroke-width="0.67" opacity="0.32"/><path d="M44.4,6.4 L47.8,4.6 L51.1,2.7 L54.4,0.8 L57.7,-1.1" stroke-width="0.72" opacity="0.36"/><path d="M24.1,88.7 L31.6,84.1 L39.0,79.5 L46.5,75.0 L54.1,70.6" stroke-width="1.07" opacity="0.42"/><path d="M64.6,60.1 L72.2,55.8 L79.9,51.6 L87.6,47.4 L95.3,43.3" stroke-width="0.70" opacity="0.39"/><path d="M-3.8,39.3 L0.5,37.2 L4.7,35.1 L9.0,33.1 L13.4,31.1" stroke-width="0.87" opacity="0.31"/><path d="M24.8,50.2 L26.7,49.2 L28.7,48.2 L30.7,47.1 L32.6,46.1" stroke-width="0.75" opacity="0.28"/><path d="M74.1,84.3 L80.6,80.5 L87.2,76.8 L93.8,73.1 L100.4,69.5" stroke-width="0.98" opacity="0.50"/><path d="M50.8,37.8 L55.9,34.9 L61.1,32.2 L66.4,29.6 L71.7,27.1" stroke-width="0.92" opacity="0.33"/><path d="M20.9,66.1 L23.8,64.7 L26.8,63.2 L29.7,61.8 L32.7,60.3" stroke-width="0.76" opacity="0.30"/><path d="M76.0,8.8 L83.1,5.3 L90.1,1.9 L97.1,-1.6 L104.2,-5.1" stroke-width="0.68" opacity="0.28"/><path d="M37.5,50.1 L39.6,49.2 L41.7,48.3 L43.8,47.4 L45.9,46.6" stroke-width="0.67" opacity="0.26"/><path d="M67.6,2.0 L69.5,1.0 L71.5,-0.0 L73.5,-1.0 L75.5,-1.9" stroke-width="0.64" opacity="0.34"/><path d="M73.6,80.8 L77.0,79.6 L80.4,78.4 L83.8,77.2 L87.2,76.0" stroke-width="0.58" opacity="0.40"/><path d="M53.2,61.9 L60.8,57.7 L68.4,53.6 L76.0,49.7 L83.8,45.9" stroke-width="0.75" opacity="0.33"/><path d="M74.7,16.2 L76.8,14.9 L78.8,13.7 L80.9,12.4 L83.0,11.2" stroke-width="1.04" opacity="0.49"/><path d="M1.9,49.1 L4.7,48.0 L7.5,46.8 L10.3,45.6 L13.0,44.2" stroke-width="0.65" opacity="0.51"/><path d="M37.3,20.8 L39.8,19.6 L42.3,18.4 L44.9,17.1 L47.4,15.9" stroke-width="0.76" opacity="0.33"/><path d="M82.1,40.4 L88.9,36.4 L95.9,32.6 L102.8,28.9 L109.9,25.3" stroke-width="0.79" opacity="0.25"/><path d="M74.3,57.4 L78.5,56.2 L82.8,54.9 L87.0,53.5 L91.2,52.1" stroke-width="0.56" opacity="0.43"/><path d="M25.3,73.3 L31.9,70.7 L38.5,68.1 L45.1,65.5 L51.7,63.0" stroke-width="0.65" opacity="0.34"/><path d="M37.0,21.7 L39.3,20.5 L41.6,19.3 L43.9,18.2 L46.3,17.1" stroke-width="1.07" opacity="0.47"/><path d="M58.5,40.6 L61.9,38.8 L65.3,37.1 L68.8,35.4 L72.3,33.8" stroke-width="0.74" opacity="0.37"/><path d="M81.4,40.9 L88.6,36.9 L95.8,33.0 L103.1,29.3 L110.5,25.6" stroke-width="1.09" opacity="0.54"/><path d="M69.7,44.5 L76.0,42.1 L82.2,39.6 L88.3,37.1 L94.5,34.4" stroke-width="1.10" opacity="0.28"/><path d="M65.8,72.2 L70.6,70.0 L75.4,67.8 L80.2,65.5 L85.0,63.3" stroke-width="1.03" opacity="0.21"/><path d="M1.8,32.1 L5.9,29.9 L9.9,27.7 L13.9,25.5 L17.9,23.2" stroke-width="0.68" opacity="0.37"/><path d="M42.0,69.5 L45.9,67.2 L49.8,64.9 L53.8,62.6 L57.8,60.3" stroke-width="0.96" opacity="0.53"/><path d="M-7.7,70.0 L-3.2,67.9 L1.2,65.8 L5.6,63.5 L10.0,61.2" stroke-width="0.78" opacity="0.44"/><path d="M45.5,65.7 L48.9,64.1 L52.4,62.5 L55.9,60.9 L59.3,59.2" stroke-width="0.53" opacity="0.20"/><path d="M13.3,16.3 L17.1,14.6 L21.0,12.9 L24.9,11.3 L28.8,9.6" stroke-width="0.81" opacity="0.47"/><path d="M77.2,23.9 L83.6,21.2 L89.9,18.5 L96.2,15.8 L102.4,13.0" stroke-width="0.60" opacity="0.52"/><path d="M36.5,53.3 L43.9,48.9 L51.4,44.5 L58.9,40.3 L66.5,36.1" stroke-width="0.66" opacity="0.28"/><path d="M67.7,30.6 L73.0,28.3 L78.3,25.9 L83.6,23.6 L88.9,21.3" stroke-width="0.84" opacity="0.50"/><path d="M65.8,62.1 L71.4,59.4 L77.0,56.7 L82.6,54.0 L88.2,51.3" stroke-width="0.92" opacity="0.21"/><path d="M37.8,52.8 L44.8,49.1 L51.8,45.5 L58.9,42.0 L66.1,38.6" stroke-width="0.99" opacity="0.25"/><path d="M-14.5,53.8 L-8.0,50.0 L-1.4,46.3 L5.2,42.7 L12.0,39.3" stroke-width="0.59" opacity="0.31"/><path d="M8.3,92.4 L13.2,89.4 L18.1,86.4 L23.1,83.5 L28.0,80.5" stroke-width="0.64" opacity="0.23"/><path d="M-12.2,20.8 L-8.0,19.2 L-3.8,17.6 L0.3,16.0 L4.5,14.4" stroke-width="1.07" opacity="0.24"/><path d="M21.3,35.1 L27.1,32.3 L33.1,29.6 L39.0,27.0 L45.1,24.5" stroke-width="1.02" opacity="0.46"/><path d="M29.4,19.9 L31.8,18.9 L34.2,17.8 L36.6,16.7 L38.9,15.6" stroke-width="0.89" opacity="0.44"/><path d="M57.2,82.4 L63.9,79.7 L70.6,76.9 L77.3,74.0 L84.0,71.2" stroke-width="0.66" opacity="0.46"/><path d="M-6.7,22.1 L-1.5,19.4 L3.8,16.8 L9.2,14.2 L14.5,11.6" stroke-width="0.70" opacity="0.51"/><path d="M78.5,68.6 L85.9,65.0 L93.4,61.3 L100.8,57.6 L108.2,53.8" stroke-width="0.80" opacity="0.21"/><path d="M6.1,50.9 L9.8,49.2 L13.5,47.4 L17.3,45.8 L21.1,44.1" stroke-width="1.00" opacity="0.30"/><path d="M78.4,2.1 L83.2,-0.4 L88.0,-2.8 L92.9,-5.1 L97.9,-7.3" stroke-width="0.81" opacity="0.52"/><path d="M64.7,11.2 L71.4,7.3 L78.2,3.3 L85.0,-0.6 L91.8,-4.6" stroke-width="0.82" opacity="0.31"/><path d="M54.3,7.0 L57.7,5.0 L61.0,2.9 L64.4,0.9 L67.7,-1.2" stroke-width="0.81" opacity="0.48"/><path d="M6.9,15.8 L10.8,13.7 L14.7,11.7 L18.6,9.6 L22.5,7.7" stroke-width="1.06" opacity="0.37"/><path d="M-2.9,25.7 L4.7,22.2 L12.1,18.6 L19.5,14.9 L26.9,11.0" stroke-width="1.02" opacity="0.48"/><path d="M75.0,45.4 L79.4,43.0 L83.8,40.7 L88.2,38.5 L92.6,36.3" stroke-width="0.70" opacity="0.29"/><path d="M12.4,89.8 L18.4,87.1 L24.3,84.3 L30.2,81.4 L36.0,78.4" stroke-width="0.65" opacity="0.46"/><path d="M-8.5,62.7 L-1.6,58.4 L5.2,54.0 L12.0,49.6 L18.7,45.0" stroke-width="0.82" opacity="0.33"/><path d="M49.3,85.5 L56.4,81.6 L63.5,77.7 L70.8,74.0 L78.1,70.4" stroke-width="1.07" opacity="0.36"/><path d="M62.9,61.9 L66.9,59.5 L70.9,57.1 L75.0,54.7 L79.1,52.4" stroke-width="0.70" opacity="0.33"/><path d="M79.7,20.1 L83.2,18.1 L86.7,16.1 L90.2,14.2 L93.6,12.2" stroke-width="1.02" opacity="0.27"/><path d="M66.3,18.6 L72.6,15.5 L78.9,12.3 L85.2,9.1 L91.5,5.9" stroke-width="1.06" opacity="0.40"/><path d="M23.4,5.1 L25.3,4.2 L27.2,3.3 L29.1,2.4 L31.0,1.4" stroke-width="0.92" opacity="0.38"/><path d="M-3.1,36.8 L2.1,33.8 L7.2,30.7 L12.2,27.5 L17.2,24.1" stroke-width="0.88" opacity="0.37"/><path d="M29.2,38.7 L36.6,35.5 L44.0,32.4 L51.4,29.4 L58.8,26.4" stroke-width="0.94" opacity="0.36"/><path d="M76.5,38.1 L82.4,34.8 L88.2,31.5 L94.0,28.0 L99.8,24.6" stroke-width="0.75" opacity="0.37"/><path d="M-1.7,29.2 L0.9,27.4 L3.6,25.6 L6.2,23.9 L8.9,22.2" stroke-width="0.97" opacity="0.51"/><path d="M34.8,46.2 L40.1,43.4 L45.3,40.5 L50.4,37.5 L55.5,34.3" stroke-width="1.03" opacity="0.47"/><path d="M81.1,72.9 L84.8,71.2 L88.5,69.4 L92.2,67.7 L95.9,65.9" stroke-width="1.01" opacity="0.50"/><path d="M33.9,24.7 L36.6,23.3 L39.3,21.8 L42.0,20.3 L44.6,18.8" stroke-width="0.69" opacity="0.26"/><path d="M51.7,68.9 L54.8,67.2 L57.9,65.4 L61.0,63.7 L64.1,61.9" stroke-width="0.60" opacity="0.36"/><path d="M-0.9,67.4 L5.4,64.2 L11.7,61.0 L18.0,57.7 L24.2,54.4" stroke-width="0.60" opacity="0.23"/><path d="M9.1,82.5 L13.0,80.5 L16.9,78.5 L20.8,76.5 L24.7,74.4" stroke-width="1.05" opacity="0.43"/><path d="M84.7,16.3 L88.0,14.6 L91.3,13.0 L94.5,11.3 L97.8,9.6" stroke-width="0.86" opacity="0.45"/><path d="M-6.5,52.1 L1.3,48.5 L9.0,44.8 L16.7,40.9 L24.2,36.9" stroke-width="0.87" opacity="0.43"/><path d="M-4.1,38.1 L0.2,36.5 L4.5,34.9 L8.8,33.2 L13.0,31.6" stroke-width="1.06" opacity="0.44"/><path d="M64.6,87.6 L67.1,86.3 L69.6,85.0 L72.2,83.7 L74.8,82.5" stroke-width="0.84" opacity="0.47"/><path d="M86.4,13.7 L91.8,11.0 L97.2,8.4 L102.6,5.7 L108.0,3.1" stroke-width="0.78" opacity="0.37"/><path d="M45.3,71.7 L48.9,69.3 L52.6,66.9 L56.3,64.6 L60.0,62.3" stroke-width="0.85" opacity="0.52"/><path d="M39.0,64.3 L43.5,62.2 L48.0,59.9 L52.5,57.5 L56.9,55.0" stroke-width="0.99" opacity="0.44"/><path d="M31.4,32.2 L37.8,29.3 L44.1,26.3 L50.4,23.2 L56.6,19.9" stroke-width="0.90" opacity="0.21"/><path d="M0.2,43.4 L6.3,40.3 L12.5,37.2 L18.6,34.1 L24.8,31.1" stroke-width="0.76" opacity="0.45"/><path d="M57.7,3.5 L59.5,2.4 L61.3,1.4 L63.1,0.3 L64.9,-0.7" stroke-width="0.80" opacity="0.38"/><path d="M-3.3,76.0 L2.4,73.2 L8.1,70.4 L13.9,67.8 L19.7,65.2" stroke-width="0.52" opacity="0.32"/><path d="M51.7,91.7 L57.3,89.2 L62.9,86.6 L68.6,84.0 L74.2,81.4" stroke-width="0.97" opacity="0.37"/><path d="M39.0,9.4 L46.2,5.4 L53.5,1.6 L60.9,-2.1 L68.3,-5.8" stroke-width="0.78" opacity="0.22"/><path d="M8.3,27.5 L13.1,25.0 L17.8,22.4 L22.6,20.0 L27.4,17.5" stroke-width="0.66" opacity="0.55"/><path d="M39.2,39.6 L43.9,37.1 L48.6,34.6 L53.3,32.1 L58.0,29.6" stroke-width="0.58" opacity="0.54"/><path d="M23.4,14.3 L27.9,11.9 L32.4,9.4 L36.8,6.8 L41.2,4.2" stroke-width="1.07" opacity="0.36"/><path d="M39.7,85.5 L47.7,82.2 L55.8,79.0 L64.0,75.9 L72.2,72.8" stroke-width="0.68" opacity="0.31"/><path d="M33.1,6.5 L38.4,4.3 L43.7,2.1 L49.0,-0.2 L54.3,-2.6" stroke-width="0.98" opacity="0.51"/><path d="M28.3,37.3 L33.2,35.4 L38.1,33.4 L42.9,31.4 L47.7,29.3" stroke-width="0.72" opacity="0.29"/><path d="M21.2,62.2 L26.5,59.2 L31.8,56.3 L37.2,53.5 L42.6,50.7" stroke-width="1.07" opacity="0.52"/><path d="M72.9,20.0 L79.6,16.7 L86.3,13.4 L93.0,10.0 L99.6,6.6" stroke-width="0.68" opacity="0.32"/><path d="M80.6,67.2 L86.6,63.9 L92.6,60.7 L98.6,57.5 L104.7,54.5" stroke-width="0.77" opacity="0.27"/><path d="M88.6,55.2 L93.5,52.3 L98.5,49.5 L103.5,46.7 L108.6,43.9" stroke-width="0.57" opacity="0.35"/><path d="M45.7,9.5 L52.9,5.8 L60.0,2.0 L67.1,-1.9 L74.1,-5.9" stroke-width="0.67" opacity="0.48"/><path d="M25.1,10.8 L28.4,9.3 L31.7,7.7 L35.1,6.2 L38.4,4.7" stroke-width="0.61" opacity="0.29"/><path d="M-6.8,72.2 L-2.8,70.3 L1.1,68.3 L5.0,66.2 L8.9,64.1" stroke-width="1.07" opacity="0.42"/><path d="M62.9,29.8 L69.3,26.4 L75.6,23.0 L81.9,19.4 L88.1,15.7" stroke-width="0.72" opacity="0.45"/><path d="M24.7,61.5 L27.9,59.7 L31.2,57.9 L34.5,56.2 L37.8,54.4" stroke-width="0.51" opacity="0.33"/><path d="M82.1,7.2 L84.2,5.9 L86.4,4.8 L88.5,3.6 L90.7,2.5" stroke-width="0.93" opacity="0.46"/><path d="M37.5,87.6 L41.4,85.6 L45.4,83.7 L49.4,81.8 L53.4,79.9" stroke-width="0.82" opacity="0.22"/><path d="M39.4,55.1 L46.7,51.4 L53.9,47.5 L61.0,43.4 L68.0,39.2" stroke-width="0.68" opacity="0.51"/><path d="M-4.1,88.6 L1.6,85.9 L7.2,83.1 L12.7,80.2 L18.2,77.2" stroke-width="0.79" opacity="0.20"/><path d="M23.2,31.0 L26.3,29.8 L29.5,28.7 L32.6,27.6 L35.8,26.6" stroke-width="0.53" opacity="0.20"/><path d="M23.7,49.6 L30.3,46.4 L36.8,43.3 L43.5,40.4 L50.2,37.7" stroke-width="0.65" opacity="0.51"/><path d="M67.5,26.4 L70.1,25.3 L72.7,24.1 L75.3,22.9 L77.8,21.6" stroke-width="0.63" opacity="0.29"/><path d="M45.9,84.4 L52.5,80.2 L59.2,75.9 L65.9,71.8 L72.6,67.6" stroke-width="0.81" opacity="0.55"/><path d="M54.9,84.9 L60.6,81.9 L66.3,79.0 L72.0,76.2 L77.8,73.5" stroke-width="0.84" opacity="0.46"/><path d="M70.4,12.7 L76.2,10.1 L81.9,7.4 L87.7,4.9 L93.6,2.3" stroke-width="0.54" opacity="0.48"/><path d="M55.1,53.1 L59.9,50.5 L64.8,47.9 L69.7,45.3 L74.5,42.7" stroke-width="0.76" opacity="0.44"/><path d="M72.5,73.7 L78.0,70.2 L83.5,66.7 L89.0,63.3 L94.5,59.9" stroke-width="0.86" opacity="0.46"/><path d="M65.4,80.1 L70.0,77.2 L74.6,74.3 L79.1,71.3 L83.7,68.3" stroke-width="0.74" opacity="0.22"/><path d="M73.4,69.3 L78.3,66.6 L83.1,63.9 L88.0,61.2 L92.9,58.4" stroke-width="0.52" opacity="0.37"/><path d="M67.1,18.4 L71.8,15.6 L76.5,12.7 L81.1,9.8 L85.7,6.8" stroke-width="0.64" opacity="0.30"/><path d="M16.7,64.3 L18.7,63.2 L20.8,62.1 L22.8,61.1 L24.9,60.1" stroke-width="1.00" opacity="0.54"/><path d="M9.2,2.0 L15.9,-0.7 L22.7,-3.2 L29.4,-5.7 L36.3,-8.0" stroke-width="0.60" opacity="0.39"/><path d="M21.3,14.3 L24.1,13.0 L26.9,11.6 L29.7,10.3 L32.5,8.9" stroke-width="0.86" opacity="0.30"/><path d="M68.7,22.0 L75.8,17.5 L82.9,13.1 L90.0,8.7 L97.2,4.5" stroke-width="0.60" opacity="0.31"/><path d="M46.1,51.2 L51.3,48.2 L56.4,45.1 L61.5,42.0 L66.5,38.7" stroke-width="0.71" opacity="0.34"/><path d="M1.0,29.4 L3.3,28.1 L5.6,26.8 L7.9,25.6 L10.3,24.4" stroke-width="0.53" opacity="0.48"/><path d="M42.6,76.7 L45.7,75.2 L48.7,73.5 L51.7,71.9 L54.7,70.2" stroke-width="0.57" opacity="0.42"/><path d="M72.8,81.9 L80.2,77.9 L87.5,73.9 L94.7,69.6 L101.9,65.3" stroke-width="0.83" opacity="0.52"/><path d="M56.5,81.6 L63.5,78.6 L70.5,75.5 L77.4,72.3 L84.3,69.1" stroke-width="0.67" opacity="0.28"/><path d="M81.5,2.8 L84.2,1.5 L86.9,0.2 L89.6,-1.1 L92.4,-2.4" stroke-width="0.78" opacity="0.31"/><path d="M90.1,3.0 L92.2,1.8 L94.4,0.6 L96.5,-0.5 L98.7,-1.6" stroke-width="1.08" opacity="0.30"/><path d="M47.8,86.7 L51.1,85.1 L54.6,83.5 L58.0,82.1 L61.5,80.7" stroke-width="0.95" opacity="0.48"/><path d="M5.2,52.9 L10.8,50.4 L16.4,48.1 L22.0,45.9 L27.7,43.7" stroke-width="1.03" opacity="0.35"/><path d="M5.2,76.0 L8.8,74.0 L12.5,72.0 L16.1,70.0 L19.7,68.1" stroke-width="0.65" opacity="0.49"/><path d="M91.6,15.0 L93.9,13.8 L96.2,12.6 L98.5,11.3 L100.7,10.0" stroke-width="0.67" opacity="0.20"/><path d="M68.7,10.7 L72.9,8.5 L77.1,6.3 L81.3,4.1 L85.6,2.0" stroke-width="0.53" opacity="0.21"/><path d="M66.2,56.6 L70.5,54.3 L74.7,52.1 L79.1,49.9 L83.4,47.8" stroke-width="0.94" opacity="0.28"/><path d="M34.4,33.8 L36.3,32.8 L38.2,31.8 L40.1,30.8 L42.1,29.9" stroke-width="0.52" opacity="0.36"/><path d="M-3.9,70.4 L-0.9,68.7 L2.1,67.0 L5.1,65.2 L8.1,63.4" stroke-width="0.74" opacity="0.35"/><path d="M62.8,19.3 L65.4,17.8 L68.0,16.3 L70.6,14.8 L73.3,13.4" stroke-width="0.56" opacity="0.42"/><path d="M50.8,7.9 L53.4,6.8 L56.0,5.7 L58.6,4.5 L61.1,3.3" stroke-width="1.00" opacity="0.37"/><path d="M57.0,27.1 L59.2,25.9 L61.3,24.7 L63.4,23.5 L65.6,22.3" stroke-width="0.73" opacity="0.36"/><path d="M74.5,86.5 L81.1,82.7 L87.5,78.8 L93.9,74.8 L100.2,70.6" stroke-width="0.95" opacity="0.33"/><path d="M8.7,28.1 L14.1,25.3 L19.4,22.5 L24.8,19.8 L30.1,17.0" stroke-width="1.08" opacity="0.22"/><path d="M67.6,37.4 L74.0,34.4 L80.4,31.5 L86.9,28.7 L93.4,26.0" stroke-width="0.73" opacity="0.35"/><path d="M2.0,28.0 L6.1,25.7 L10.3,23.4 L14.4,21.0 L18.5,18.5" stroke-width="0.54" opacity="0.37"/><path d="M7.9,77.2 L14.9,74.0 L22.0,70.7 L29.0,67.5 L36.0,64.2" stroke-width="1.05" opacity="0.53"/><path d="M3.7,30.8 L7.8,28.2 L11.9,25.6 L16.0,23.0 L20.0,20.4" stroke-width="0.51" opacity="0.31"/><path d="M92.1,7.2 L95.5,5.2 L99.0,3.3 L102.5,1.5 L106.0,-0.3" stroke-width="0.83" opacity="0.49"/><path d="M-1.3,43.0 L3.8,40.5 L8.9,38.1 L13.9,35.7 L19.0,33.2" stroke-width="0.73" opacity="0.26"/><path d="M68.2,90.1 L73.2,87.6 L78.0,85.0 L82.9,82.3 L87.7,79.6" stroke-width="0.52" opacity="0.31"/><path d="M72.7,76.6 L78.7,72.9 L84.6,69.0 L90.5,65.0 L96.3,60.8" stroke-width="0.85" opacity="0.21"/><path d="M6.0,55.8 L10.5,52.8 L15.0,49.9 L19.6,47.1 L24.2,44.3" stroke-width="1.03" opacity="0.51"/><path d="M2.6,44.9 L4.6,43.8 L6.6,42.7 L8.5,41.6 L10.5,40.5" stroke-width="0.97" opacity="0.31"/><path d="M82.5,69.6 L86.2,67.5 L90.0,65.4 L93.7,63.3 L97.4,61.3" stroke-width="0.95" opacity="0.50"/><path d="M24.1,44.0 L28.0,41.8 L31.9,39.6 L35.9,37.5 L39.9,35.6" stroke-width="0.73" opacity="0.21"/><path d="M84.2,40.1 L86.9,38.8 L89.5,37.4 L92.2,35.9 L94.7,34.4" stroke-width="0.86" opacity="0.52"/><path d="M42.4,24.7 L47.7,21.3 L53.1,18.0 L58.6,14.7 L64.1,11.4" stroke-width="0.64" opacity="0.55"/><path d="M71.3,55.2 L76.1,52.3 L80.9,49.4 L85.6,46.3 L90.2,43.2" stroke-width="0.86" opacity="0.37"/><path d="M76.8,84.3 L80.7,82.4 L84.6,80.5 L88.5,78.6 L92.5,76.7" stroke-width="0.61" opacity="0.37"/><path d="M-0.5,19.6 L5.2,15.9 L11.0,12.3 L16.7,8.8 L22.5,5.2" stroke-width="0.83" opacity="0.26"/><path d="M18.6,90.4 L26.3,87.1 L34.1,83.9 L42.0,80.9 L49.9,78.1" stroke-width="0.90" opacity="0.35"/><path d="M79.2,82.8 L84.9,79.3 L90.6,75.8 L96.3,72.3 L101.9,68.7" stroke-width="0.83" opacity="0.30"/><path d="M55.9,74.5 L58.3,73.7 L60.7,72.8 L63.1,72.0 L65.5,71.0" stroke-width="1.07" opacity="0.46"/><path d="M64.5,55.7 L70.3,52.6 L75.9,49.5 L81.5,46.3 L87.1,43.0" stroke-width="0.52" opacity="0.30"/><path d="M-6.5,8.5 L-4.1,7.1 L-1.7,5.8 L0.7,4.4 L3.1,3.1" stroke-width="0.85" opacity="0.22"/><path d="M11.2,61.4 L14.1,59.7 L17.0,58.2 L19.9,56.7 L22.8,55.2" stroke-width="0.94" opacity="0.39"/><path d="M-12.0,43.5 L-5.6,40.4 L0.8,37.1 L7.1,33.8 L13.4,30.3" stroke-width="0.69" opacity="0.36"/><path d="M13.8,60.0 L16.8,58.5 L19.8,57.0 L22.8,55.6 L25.9,54.3" stroke-width="0.54" opacity="0.46"/><path d="M47.8,89.9 L53.0,87.2 L58.2,84.7 L63.4,82.2 L68.7,79.8" stroke-width="0.84" opacity="0.37"/><path d="M-1.9,11.0 L5.7,6.8 L13.3,2.7 L21.0,-1.5 L28.6,-5.6" stroke-width="0.82" opacity="0.54"/><path d="M1.3,15.7 L4.8,14.1 L8.3,12.4 L11.7,10.8 L15.2,9.1" stroke-width="0.96" opacity="0.35"/><path d="M26.0,7.5 L32.1,4.5 L38.3,1.5 L44.4,-1.6 L50.5,-4.6" stroke-width="0.73" opacity="0.26"/><path d="M52.6,9.6 L58.3,6.3 L63.9,3.0 L69.5,-0.4 L75.1,-3.8" stroke-width="0.68" opacity="0.39"/><path d="M87.4,10.4 L91.9,8.0 L96.5,5.7 L101.2,3.5 L105.9,1.3" stroke-width="0.69" opacity="0.23"/><path d="M85.8,14.3 L91.2,10.7 L96.8,7.2 L102.4,3.8 L108.1,0.5" stroke-width="0.58" opacity="0.55"/><path d="M53.7,13.0 L56.2,11.7 L58.8,10.4 L61.3,9.1 L63.8,7.7" stroke-width="1.00" opacity="0.29"/><path d="M61.2,87.0 L68.7,83.8 L76.3,80.6 L83.8,77.4 L91.3,74.1" stroke-width="0.68" opacity="0.22"/><path d="M28.4,6.5 L35.4,2.7 L42.3,-1.2 L49.3,-4.9 L56.3,-8.7" stroke-width="0.69" opacity="0.43"/><path d="M5.3,83.1 L10.0,80.8 L14.7,78.4 L19.3,76.0 L24.0,73.5" stroke-width="0.81" opacity="0.35"/><path d="M18.6,83.9 L20.7,83.0 L22.7,82.1 L24.7,81.1 L26.7,80.0" stroke-width="1.03" opacity="0.41"/><path d="M14.6,93.1 L21.8,89.0 L28.9,84.8 L36.0,80.6 L43.1,76.2" stroke-width="0.51" opacity="0.31"/><path d="M16.6,20.2 L22.9,16.6 L29.2,12.9 L35.3,9.1 L41.4,5.1" stroke-width="0.90" opacity="0.46"/><path d="M21.6,42.7 L27.3,39.6 L33.1,36.6 L38.8,33.6 L44.6,30.7" stroke-width="0.84" opacity="0.20"/><path d="M43.0,83.6 L50.2,80.0 L57.5,76.3 L64.8,72.6 L72.1,68.9" stroke-width="0.66" opacity="0.29"/><path d="M83.4,27.3 L86.4,25.7 L89.5,24.1 L92.6,22.5 L95.6,20.8" stroke-width="0.51" opacity="0.31"/></g>
  <g fill="none" stroke="#101010" stroke-linecap="round" filter="url(#bl05)">
    <path d="M0,9 L36,25.5" stroke-width="2.3" opacity="0.92"/>
    <circle cx="34.5" cy="25.5" r="1.8" fill="#101010" stroke="none" opacity="0.8"/>
    <path d="M36,25.5 L95,53" stroke-width="1.4" opacity="0.6"/>
    <path d="M0,56.5 L55,83.5" stroke-width="4" opacity="0.95"/>
    <path d="M1.5,11.5 L25,-0.5" stroke-width="2.6" opacity="0.92"/>
    <path d="M0,25 L14,17.5" stroke-width="1.3" opacity="0.6"/>
    <path d="M0,42 L35,25.5" stroke-width="2.0" opacity="0.8"/>
    <path d="M35,25.5 L95,-3" stroke-width="1.0" opacity="0.35"/>
    <path d="M47,57.6 L77,44" stroke-width="1.5" opacity="0.65"/>
    <path d="M47,71.5 L84,51.5" stroke-width="1.5" opacity="0.65"/>
    <path d="M77,44 L95,36" stroke-width="1.2" opacity="0.45"/>
    <path d="M60,83 L95,66" stroke-width="1.2" opacity="0.45"/>
  </g>
  <g fill="none" stroke="#e8e8e8" stroke-linecap="round" filter="url(#bl05)" opacity="0.5">
    <path d="M2,40 L34,24" stroke-width="1"/>
    <path d="M4,14 L26,3" stroke-width="0.9"/>
    <path d="M49,56 L78,42.5" stroke-width="0.9"/>
    <path d="M70,45 L95,34" stroke-width="1.2"/>
  </g>
</g>
</defs>
<g transform="translate(20,21)" clip-path="url(#pc1)"><use href="#bg1"/></g>
<g transform="translate(20,111)" clip-path="url(#pc2)"><use href="#bg2"/></g>
<g transform="translate(118,21)" clip-path="url(#pc1)"><use href="#bg1"/></g>
<g transform="translate(118,111)" clip-path="url(#pc2)"><use href="#bg2"/></g>
<g transform="translate(217,21)" clip-path="url(#pc1)"><use href="#bg1"/></g>
<g transform="translate(217,111)" clip-path="url(#pc2)"><use href="#bg2"/></g>
<g transform="translate(316,21)" clip-path="url(#pc1)"><use href="#bg1"/></g>
<g transform="translate(316,111)" clip-path="url(#pc2)"><use href="#bg2"/></g>
<g transform="translate(414,21)" clip-path="url(#pc1)"><use href="#bg1"/></g>
<g transform="translate(414,111)" clip-path="url(#pc2)"><use href="#bg2"/></g>
<g filter="url(#hfx)"><g filter="url(#rag)"><path d="M55.80,58.10 C56.12,57.58 57.23,59.40 58.00,59.90 C58.77,60.40 59.68,60.53 60.40,61.10 C61.12,61.67 61.57,62.88 62.30,63.30 C63.03,63.72 64.13,63.25 64.80,63.60 C65.47,63.95 66.10,64.48 66.30,65.40 C66.50,66.32 66.15,68.27 66.00,69.10 C65.85,69.93 65.92,70.40 65.40,70.40 C64.88,70.40 63.83,69.52 62.90,69.10 C61.97,68.68 60.72,68.52 59.80,67.90 C58.88,67.28 58.02,66.22 57.40,65.40 C56.78,64.58 56.37,64.22 56.10,63.00 C55.83,61.78 55.48,58.62 55.80,58.10Z" fill="#000"/>
<circle cx="66.3" cy="71.8" r="0.9" fill="#000"/><circle cx="69.4" cy="75.6" r="0.7" fill="#000"/>
<path d="M159.00,50.40 C159.35,49.67 160.78,49.53 161.80,50.10 C162.82,50.67 163.98,52.73 165.10,53.80 C166.22,54.87 166.92,55.60 168.50,56.50 C170.08,57.40 173.13,58.53 174.60,59.20 C176.07,59.87 176.63,59.72 177.30,60.50 C177.97,61.28 178.32,62.43 178.60,63.90 C178.88,65.37 178.53,67.95 179.00,69.30 C179.47,70.65 181.23,71.32 181.40,72.00 C181.57,72.68 180.68,73.28 180.00,73.40 C179.32,73.52 178.20,72.48 177.30,72.70 C176.40,72.92 176.07,74.37 174.60,74.70 C173.13,75.03 170.30,74.92 168.50,74.70 C166.70,74.48 164.82,74.42 163.80,73.40 C162.78,72.38 162.73,70.63 162.40,68.60 C162.07,66.57 162.25,63.55 161.80,61.20 C161.35,58.85 160.17,56.30 159.70,54.50 C159.23,52.70 158.65,51.13 159.00,50.40Z" fill="#000"/>
<circle cx="157.6" cy="46.3" r="1.1" fill="#000"/>
<path d="M258.90,51.90 C259.45,51.25 261.10,50.97 262.20,51.30 C263.30,51.63 264.30,53.03 265.50,53.90 C266.70,54.77 268.10,55.63 269.40,56.50 C270.70,57.37 272.20,58.33 273.30,59.10 C274.40,59.87 275.33,60.22 276.00,61.10 C276.67,61.98 276.70,63.32 277.30,64.40 C277.90,65.48 279.07,66.52 279.60,67.60 C280.13,68.68 280.57,69.92 280.50,70.90 C280.43,71.88 279.95,72.62 279.20,73.50 C278.45,74.38 276.98,75.65 276.00,76.20 C275.02,76.75 274.28,76.92 273.30,76.80 C272.32,76.68 271.18,76.15 270.10,75.50 C269.02,74.85 267.90,73.88 266.80,72.90 C265.70,71.92 264.48,70.92 263.50,69.60 C262.52,68.28 261.55,66.63 260.90,65.00 C260.25,63.37 259.93,61.43 259.60,59.80 C259.27,58.17 259.02,56.52 258.90,55.20 C258.78,53.88 258.35,52.55 258.90,51.90Z" fill="#000"/>
<path d="M275.5,60.5 L277.8,64 L280.6,68.5 L281.2,71.5 L279.6,70 L277.5,66 Z" fill="#000"/>
<path d="M276.5,63 L278,65.5 L277,66 Z" fill="#000"/>
<path d="M357.90,52.60 C358.33,51.73 359.27,51.25 360.20,51.30 C361.13,51.35 362.52,52.35 363.50,52.90 C364.48,53.45 365.23,53.88 366.10,54.60 C366.97,55.32 367.72,56.33 368.70,57.20 C369.68,58.07 370.90,58.82 372.00,59.80 C373.10,60.78 374.32,61.90 375.30,63.10 C376.28,64.30 377.03,65.68 377.90,67.00 C378.77,68.32 380.28,69.90 380.50,71.00 C380.72,72.10 379.95,73.12 379.20,73.60 C378.45,74.08 377.08,73.97 376.00,73.90 C374.92,73.83 373.92,73.58 372.70,73.20 C371.48,72.82 370.02,72.30 368.70,71.60 C367.38,70.90 366.10,69.98 364.80,69.00 C363.50,68.02 361.93,67.02 360.90,65.70 C359.87,64.38 359.15,62.63 358.60,61.10 C358.05,59.57 357.72,57.92 357.60,56.50 C357.48,55.08 357.47,53.47 357.90,52.60Z" fill="#000"/>
<ellipse cx="369" cy="61" rx="1.6" ry="2.3" fill="#000"/>
<path d="M373.5,65.5 L376.5,66.5 L377,71.5 L374.5,71 L373,68 Z" fill="#000"/>
<path d="M365,53.9 L369.5,57.5 L368.5,58.5 L365,55.5 Z" fill="#000"/>
<path d="M376.8,67 L379,68 L380.8,71.5 L379.6,73.4 L377.5,72.5 Z" fill="#000"/>
<path d="M377.5,71 L380,72.2 L379,73.6 L377,73.2 Z" fill="#000"/>
<path d="M457.20,55.90 C457.53,54.82 458.92,54.60 459.90,54.60 C460.88,54.60 462.02,55.37 463.10,55.90 C464.18,56.43 465.18,57.15 466.40,57.80 C467.62,58.45 469.30,59.13 470.40,59.80 C471.50,60.47 472.23,60.82 473.00,61.80 C473.77,62.78 474.30,64.50 475.00,65.70 C475.70,66.90 476.55,67.90 477.20,69.00 C477.85,70.10 478.83,71.43 478.90,72.30 C478.97,73.17 478.37,73.82 477.60,74.20 C476.83,74.58 475.40,74.82 474.30,74.60 C473.20,74.38 472.20,73.50 471.00,72.90 C469.80,72.30 468.52,71.77 467.10,71.00 C465.68,70.23 463.70,69.30 462.50,68.30 C461.30,67.30 460.67,66.20 459.90,65.00 C459.13,63.80 458.35,62.62 457.90,61.10 C457.45,59.58 456.87,56.98 457.20,55.90Z" fill="#000"/>
<path d="M465.00,60.50 C465.73,60.25 467.75,61.00 469.00,61.50 C470.25,62.00 471.50,62.58 472.50,63.50 C473.50,64.42 474.28,65.75 475.00,67.00 C475.72,68.25 476.63,69.90 476.80,71.00 C476.97,72.10 476.72,73.35 476.00,73.60 C475.28,73.85 473.75,73.18 472.50,72.50 C471.25,71.82 469.67,70.50 468.50,69.50 C467.33,68.50 466.15,67.58 465.50,66.50 C464.85,65.42 464.68,64.00 464.60,63.00 C464.52,62.00 464.27,60.75 465.00,60.50Z" fill="#000"/>
<path d="M471.50,67.50 C471.75,66.83 473.67,67.83 474.50,68.50 C475.33,69.17 476.33,70.62 476.50,71.50 C476.67,72.38 476.08,73.63 475.50,73.80 C474.92,73.97 473.67,73.55 473.00,72.50 C472.33,71.45 471.25,68.17 471.50,67.50Z" fill="#000"/>
<path d="M475.5,66 L478.2,69.5 L479,72.3 L477.5,74 L476.8,70.5 Z" fill="#000"/>
<path d="M469.5,59.5 L472.5,60.5 L472,62 L469.8,61.5 Z" fill="#000"/></g></g><g style="mix-blend-mode:multiply" filter="url(#rag)"><path d="M55.80,58.10 C56.12,57.58 57.23,59.40 58.00,59.90 C58.77,60.40 59.68,60.53 60.40,61.10 C61.12,61.67 61.57,62.88 62.30,63.30 C63.03,63.72 64.13,63.25 64.80,63.60 C65.47,63.95 66.10,64.48 66.30,65.40 C66.50,66.32 66.15,68.27 66.00,69.10 C65.85,69.93 65.92,70.40 65.40,70.40 C64.88,70.40 63.83,69.52 62.90,69.10 C61.97,68.68 60.72,68.52 59.80,67.90 C58.88,67.28 58.02,66.22 57.40,65.40 C56.78,64.58 56.37,64.22 56.10,63.00 C55.83,61.78 55.48,58.62 55.80,58.10Z" fill="#ff7878"/>
<circle cx="66.3" cy="71.8" r="0.9" fill="#ff7878"/><circle cx="69.4" cy="75.6" r="0.7" fill="#ff7878"/>
<path d="M159.00,50.40 C159.35,49.67 160.78,49.53 161.80,50.10 C162.82,50.67 163.98,52.73 165.10,53.80 C166.22,54.87 166.92,55.60 168.50,56.50 C170.08,57.40 173.13,58.53 174.60,59.20 C176.07,59.87 176.63,59.72 177.30,60.50 C177.97,61.28 178.32,62.43 178.60,63.90 C178.88,65.37 178.53,67.95 179.00,69.30 C179.47,70.65 181.23,71.32 181.40,72.00 C181.57,72.68 180.68,73.28 180.00,73.40 C179.32,73.52 178.20,72.48 177.30,72.70 C176.40,72.92 176.07,74.37 174.60,74.70 C173.13,75.03 170.30,74.92 168.50,74.70 C166.70,74.48 164.82,74.42 163.80,73.40 C162.78,72.38 162.73,70.63 162.40,68.60 C162.07,66.57 162.25,63.55 161.80,61.20 C161.35,58.85 160.17,56.30 159.70,54.50 C159.23,52.70 158.65,51.13 159.00,50.40Z" fill="#ff7878"/>
<circle cx="157.6" cy="46.3" r="1.1" fill="#ff7878"/>
<path d="M258.90,51.90 C259.45,51.25 261.10,50.97 262.20,51.30 C263.30,51.63 264.30,53.03 265.50,53.90 C266.70,54.77 268.10,55.63 269.40,56.50 C270.70,57.37 272.20,58.33 273.30,59.10 C274.40,59.87 275.33,60.22 276.00,61.10 C276.67,61.98 276.70,63.32 277.30,64.40 C277.90,65.48 279.07,66.52 279.60,67.60 C280.13,68.68 280.57,69.92 280.50,70.90 C280.43,71.88 279.95,72.62 279.20,73.50 C278.45,74.38 276.98,75.65 276.00,76.20 C275.02,76.75 274.28,76.92 273.30,76.80 C272.32,76.68 271.18,76.15 270.10,75.50 C269.02,74.85 267.90,73.88 266.80,72.90 C265.70,71.92 264.48,70.92 263.50,69.60 C262.52,68.28 261.55,66.63 260.90,65.00 C260.25,63.37 259.93,61.43 259.60,59.80 C259.27,58.17 259.02,56.52 258.90,55.20 C258.78,53.88 258.35,52.55 258.90,51.90Z" fill="#ff7878"/>
<path d="M275.5,60.5 L277.8,64 L280.6,68.5 L281.2,71.5 L279.6,70 L277.5,66 Z" fill="#ff78ff"/>
<path d="M276.5,63 L278,65.5 L277,66 Z" fill="#ffff78"/>
<path d="M357.90,52.60 C358.33,51.73 359.27,51.25 360.20,51.30 C361.13,51.35 362.52,52.35 363.50,52.90 C364.48,53.45 365.23,53.88 366.10,54.60 C366.97,55.32 367.72,56.33 368.70,57.20 C369.68,58.07 370.90,58.82 372.00,59.80 C373.10,60.78 374.32,61.90 375.30,63.10 C376.28,64.30 377.03,65.68 377.90,67.00 C378.77,68.32 380.28,69.90 380.50,71.00 C380.72,72.10 379.95,73.12 379.20,73.60 C378.45,74.08 377.08,73.97 376.00,73.90 C374.92,73.83 373.92,73.58 372.70,73.20 C371.48,72.82 370.02,72.30 368.70,71.60 C367.38,70.90 366.10,69.98 364.80,69.00 C363.50,68.02 361.93,67.02 360.90,65.70 C359.87,64.38 359.15,62.63 358.60,61.10 C358.05,59.57 357.72,57.92 357.60,56.50 C357.48,55.08 357.47,53.47 357.90,52.60Z" fill="#ff7878"/>
<ellipse cx="369" cy="61" rx="1.6" ry="2.3" fill="#ffff78"/>
<path d="M373.5,65.5 L376.5,66.5 L377,71.5 L374.5,71 L373,68 Z" fill="#ffff78"/>
<path d="M365,53.9 L369.5,57.5 L368.5,58.5 L365,55.5 Z" fill="#7878ff"/>
<path d="M376.8,67 L379,68 L380.8,71.5 L379.6,73.4 L377.5,72.5 Z" fill="#7878ff"/>
<path d="M377.5,71 L380,72.2 L379,73.6 L377,73.2 Z" fill="#ff78ff"/>
<path d="M457.20,55.90 C457.53,54.82 458.92,54.60 459.90,54.60 C460.88,54.60 462.02,55.37 463.10,55.90 C464.18,56.43 465.18,57.15 466.40,57.80 C467.62,58.45 469.30,59.13 470.40,59.80 C471.50,60.47 472.23,60.82 473.00,61.80 C473.77,62.78 474.30,64.50 475.00,65.70 C475.70,66.90 476.55,67.90 477.20,69.00 C477.85,70.10 478.83,71.43 478.90,72.30 C478.97,73.17 478.37,73.82 477.60,74.20 C476.83,74.58 475.40,74.82 474.30,74.60 C473.20,74.38 472.20,73.50 471.00,72.90 C469.80,72.30 468.52,71.77 467.10,71.00 C465.68,70.23 463.70,69.30 462.50,68.30 C461.30,67.30 460.67,66.20 459.90,65.00 C459.13,63.80 458.35,62.62 457.90,61.10 C457.45,59.58 456.87,56.98 457.20,55.90Z" fill="#ff7878"/>
<path d="M465.00,60.50 C465.73,60.25 467.75,61.00 469.00,61.50 C470.25,62.00 471.50,62.58 472.50,63.50 C473.50,64.42 474.28,65.75 475.00,67.00 C475.72,68.25 476.63,69.90 476.80,71.00 C476.97,72.10 476.72,73.35 476.00,73.60 C475.28,73.85 473.75,73.18 472.50,72.50 C471.25,71.82 469.67,70.50 468.50,69.50 C467.33,68.50 466.15,67.58 465.50,66.50 C464.85,65.42 464.68,64.00 464.60,63.00 C464.52,62.00 464.27,60.75 465.00,60.50Z" fill="#ffff78"/>
<path d="M471.50,67.50 C471.75,66.83 473.67,67.83 474.50,68.50 C475.33,69.17 476.33,70.62 476.50,71.50 C476.67,72.38 476.08,73.63 475.50,73.80 C474.92,73.97 473.67,73.55 473.00,72.50 C472.33,71.45 471.25,68.17 471.50,67.50Z" fill="#ffffff"/>
<path d="M475.5,66 L478.2,69.5 L479,72.3 L477.5,74 L476.8,70.5 Z" fill="#7878ff"/>
<path d="M469.5,59.5 L472.5,60.5 L472,62 L469.8,61.5 Z" fill="#787878"/></g><g style="mix-blend-mode:screen" filter="url(#ragspk)"><path d="M55.80,58.10 C56.12,57.58 57.23,59.40 58.00,59.90 C58.77,60.40 59.68,60.53 60.40,61.10 C61.12,61.67 61.57,62.88 62.30,63.30 C63.03,63.72 64.13,63.25 64.80,63.60 C65.47,63.95 66.10,64.48 66.30,65.40 C66.50,66.32 66.15,68.27 66.00,69.10 C65.85,69.93 65.92,70.40 65.40,70.40 C64.88,70.40 63.83,69.52 62.90,69.10 C61.97,68.68 60.72,68.52 59.80,67.90 C58.88,67.28 58.02,66.22 57.40,65.40 C56.78,64.58 56.37,64.22 56.10,63.00 C55.83,61.78 55.48,58.62 55.80,58.10Z" fill="#ff0000"/>
<circle cx="66.3" cy="71.8" r="0.9" fill="#ff0000"/><circle cx="69.4" cy="75.6" r="0.7" fill="#ff0000"/>
<path d="M159.00,50.40 C159.35,49.67 160.78,49.53 161.80,50.10 C162.82,50.67 163.98,52.73 165.10,53.80 C166.22,54.87 166.92,55.60 168.50,56.50 C170.08,57.40 173.13,58.53 174.60,59.20 C176.07,59.87 176.63,59.72 177.30,60.50 C177.97,61.28 178.32,62.43 178.60,63.90 C178.88,65.37 178.53,67.95 179.00,69.30 C179.47,70.65 181.23,71.32 181.40,72.00 C181.57,72.68 180.68,73.28 180.00,73.40 C179.32,73.52 178.20,72.48 177.30,72.70 C176.40,72.92 176.07,74.37 174.60,74.70 C173.13,75.03 170.30,74.92 168.50,74.70 C166.70,74.48 164.82,74.42 163.80,73.40 C162.78,72.38 162.73,70.63 162.40,68.60 C162.07,66.57 162.25,63.55 161.80,61.20 C161.35,58.85 160.17,56.30 159.70,54.50 C159.23,52.70 158.65,51.13 159.00,50.40Z" fill="#ff0000"/>
<circle cx="157.6" cy="46.3" r="1.1" fill="#ff0000"/>
<path d="M258.90,51.90 C259.45,51.25 261.10,50.97 262.20,51.30 C263.30,51.63 264.30,53.03 265.50,53.90 C266.70,54.77 268.10,55.63 269.40,56.50 C270.70,57.37 272.20,58.33 273.30,59.10 C274.40,59.87 275.33,60.22 276.00,61.10 C276.67,61.98 276.70,63.32 277.30,64.40 C277.90,65.48 279.07,66.52 279.60,67.60 C280.13,68.68 280.57,69.92 280.50,70.90 C280.43,71.88 279.95,72.62 279.20,73.50 C278.45,74.38 276.98,75.65 276.00,76.20 C275.02,76.75 274.28,76.92 273.30,76.80 C272.32,76.68 271.18,76.15 270.10,75.50 C269.02,74.85 267.90,73.88 266.80,72.90 C265.70,71.92 264.48,70.92 263.50,69.60 C262.52,68.28 261.55,66.63 260.90,65.00 C260.25,63.37 259.93,61.43 259.60,59.80 C259.27,58.17 259.02,56.52 258.90,55.20 C258.78,53.88 258.35,52.55 258.90,51.90Z" fill="#ff0000"/>
<path d="M275.5,60.5 L277.8,64 L280.6,68.5 L281.2,71.5 L279.6,70 L277.5,66 Z" fill="#d040ff"/>
<path d="M276.5,63 L278,65.5 L277,66 Z" fill="#ffee00"/>
<path d="M357.90,52.60 C358.33,51.73 359.27,51.25 360.20,51.30 C361.13,51.35 362.52,52.35 363.50,52.90 C364.48,53.45 365.23,53.88 366.10,54.60 C366.97,55.32 367.72,56.33 368.70,57.20 C369.68,58.07 370.90,58.82 372.00,59.80 C373.10,60.78 374.32,61.90 375.30,63.10 C376.28,64.30 377.03,65.68 377.90,67.00 C378.77,68.32 380.28,69.90 380.50,71.00 C380.72,72.10 379.95,73.12 379.20,73.60 C378.45,74.08 377.08,73.97 376.00,73.90 C374.92,73.83 373.92,73.58 372.70,73.20 C371.48,72.82 370.02,72.30 368.70,71.60 C367.38,70.90 366.10,69.98 364.80,69.00 C363.50,68.02 361.93,67.02 360.90,65.70 C359.87,64.38 359.15,62.63 358.60,61.10 C358.05,59.57 357.72,57.92 357.60,56.50 C357.48,55.08 357.47,53.47 357.90,52.60Z" fill="#ff0000"/>
<ellipse cx="369" cy="61" rx="1.6" ry="2.3" fill="#ffee00"/>
<path d="M373.5,65.5 L376.5,66.5 L377,71.5 L374.5,71 L373,68 Z" fill="#ffee22"/>
<path d="M365,53.9 L369.5,57.5 L368.5,58.5 L365,55.5 Z" fill="#4040ff"/>
<path d="M376.8,67 L379,68 L380.8,71.5 L379.6,73.4 L377.5,72.5 Z" fill="#5050ff"/>
<path d="M377.5,71 L380,72.2 L379,73.6 L377,73.2 Z" fill="#ff40ff"/>
<path d="M457.20,55.90 C457.53,54.82 458.92,54.60 459.90,54.60 C460.88,54.60 462.02,55.37 463.10,55.90 C464.18,56.43 465.18,57.15 466.40,57.80 C467.62,58.45 469.30,59.13 470.40,59.80 C471.50,60.47 472.23,60.82 473.00,61.80 C473.77,62.78 474.30,64.50 475.00,65.70 C475.70,66.90 476.55,67.90 477.20,69.00 C477.85,70.10 478.83,71.43 478.90,72.30 C478.97,73.17 478.37,73.82 477.60,74.20 C476.83,74.58 475.40,74.82 474.30,74.60 C473.20,74.38 472.20,73.50 471.00,72.90 C469.80,72.30 468.52,71.77 467.10,71.00 C465.68,70.23 463.70,69.30 462.50,68.30 C461.30,67.30 460.67,66.20 459.90,65.00 C459.13,63.80 458.35,62.62 457.90,61.10 C457.45,59.58 456.87,56.98 457.20,55.90Z" fill="#ff0000"/>
<path d="M465.00,60.50 C465.73,60.25 467.75,61.00 469.00,61.50 C470.25,62.00 471.50,62.58 472.50,63.50 C473.50,64.42 474.28,65.75 475.00,67.00 C475.72,68.25 476.63,69.90 476.80,71.00 C476.97,72.10 476.72,73.35 476.00,73.60 C475.28,73.85 473.75,73.18 472.50,72.50 C471.25,71.82 469.67,70.50 468.50,69.50 C467.33,68.50 466.15,67.58 465.50,66.50 C464.85,65.42 464.68,64.00 464.60,63.00 C464.52,62.00 464.27,60.75 465.00,60.50Z" fill="#ffff10"/>
<path d="M471.50,67.50 C471.75,66.83 473.67,67.83 474.50,68.50 C475.33,69.17 476.33,70.62 476.50,71.50 C476.67,72.38 476.08,73.63 475.50,73.80 C474.92,73.97 473.67,73.55 473.00,72.50 C472.33,71.45 471.25,68.17 471.50,67.50Z" fill="#ffffff"/>
<path d="M475.5,66 L478.2,69.5 L479,72.3 L477.5,74 L476.8,70.5 Z" fill="#3535ff"/>
<path d="M469.5,59.5 L472.5,60.5 L472,62 L469.8,61.5 Z" fill="#600010"/></g>
<g filter="url(#hfx)"><g filter="url(#rag)"><path d="M70.50,149.60 C71.32,149.60 72.23,150.52 72.10,151.20 C71.97,151.88 70.52,152.73 69.70,153.70 C68.88,154.67 68.02,156.18 67.20,157.00 C66.38,157.82 65.48,158.20 64.80,158.60 C64.12,159.00 63.65,159.40 63.10,159.40 C62.55,159.40 61.90,159.15 61.50,158.60 C61.10,158.05 60.57,156.92 60.70,156.10 C60.83,155.28 61.62,154.38 62.30,153.70 C62.98,153.02 63.98,152.42 64.80,152.00 C65.62,151.58 66.25,151.60 67.20,151.20 C68.15,150.80 69.68,149.60 70.50,149.60Z" fill="#000"/>
<ellipse cx="66.8" cy="131.4" rx="1.8" ry="1.1" fill="#000" transform="rotate(-30 66.8 131.4)"/>
<circle cx="59.6" cy="137.5" r="0.8" fill="#000"/>
<circle cx="65" cy="161.4" r="1" fill="#000"/>
<path d="M156.90,146.30 C157.87,145.53 159.15,145.80 160.40,145.80 C161.65,145.80 163.25,146.02 164.40,146.30 C165.55,146.58 166.23,147.50 167.30,147.50 C168.37,147.50 169.65,146.63 170.80,146.30 C171.95,145.97 173.25,145.58 174.20,145.50 C175.15,145.42 176.58,145.47 176.50,145.80 C176.42,146.13 174.65,146.83 173.70,147.50 C172.75,148.17 171.58,148.83 170.80,149.80 C170.02,150.77 169.68,152.15 169.00,153.30 C168.32,154.45 167.57,155.75 166.70,156.70 C165.83,157.65 164.75,158.42 163.80,159.00 C162.85,159.58 162.15,160.00 161.00,160.20 C159.85,160.40 157.97,160.48 156.90,160.20 C155.83,159.92 155.08,159.47 154.60,158.50 C154.12,157.53 154.00,155.75 154.00,154.40 C154.00,153.05 154.12,151.75 154.60,150.40 C155.08,149.05 155.93,147.07 156.90,146.30Z" fill="#000"/>
<circle cx="163" cy="160.9" r="1.2" fill="#000"/>
<path d="M269.20,125.50 C270.80,124.62 272.67,124.58 274.00,124.40 C275.33,124.22 276.67,123.68 277.20,124.40 C277.73,125.12 277.03,126.75 277.20,128.70 C277.37,130.65 277.77,134.33 278.20,136.10 C278.63,137.87 279.62,138.23 279.80,139.30 C279.98,140.37 280.27,141.07 279.30,142.50 C278.33,143.93 275.77,146.12 274.00,147.90 C272.23,149.68 270.12,151.78 268.70,153.20 C267.28,154.62 266.40,155.52 265.50,156.40 C264.60,157.28 264.37,157.43 263.30,158.50 C262.23,159.57 260.52,161.55 259.10,162.80 C257.68,164.05 255.87,165.65 254.80,166.00 C253.73,166.35 253.42,166.15 252.70,164.90 C251.98,163.65 251.22,160.63 250.50,158.50 C249.78,156.37 248.75,154.23 248.40,152.10 C248.05,149.97 248.05,147.47 248.40,145.70 C248.75,143.93 249.25,142.57 250.50,141.50 C251.75,140.43 254.30,140.37 255.90,139.30 C257.50,138.23 258.68,136.70 260.10,135.10 C261.52,133.50 262.88,131.30 264.40,129.70 C265.92,128.10 267.60,126.38 269.20,125.50Z" fill="#000"/>
<path d="M256.80,155.20 C257.27,154.63 258.72,154.60 260.00,154.60 C261.28,154.60 264.00,154.77 264.50,155.20 C265.00,155.63 263.58,156.65 263.00,157.20 C262.42,157.75 261.75,158.12 261.00,158.50 C260.25,158.88 259.13,159.58 258.50,159.50 C257.87,159.42 257.48,158.72 257.20,158.00 C256.92,157.28 256.33,155.77 256.80,155.20Z" fill="#000"/>
<path d="M258.30,156.80 C258.93,156.32 261.35,156.10 261.80,156.60 C262.25,157.10 261.43,159.07 261.00,159.80 C260.57,160.53 259.70,161.05 259.20,161.00 C258.70,160.95 258.15,160.20 258.00,159.50 C257.85,158.80 257.67,157.28 258.30,156.80Z" fill="#000"/>
<path d="M255.50,161.50 C256.00,160.92 257.33,160.33 258.00,160.50 C258.67,160.67 259.42,161.67 259.50,162.50 C259.58,163.33 259.08,164.92 258.50,165.50 C257.92,166.08 256.58,166.25 256.00,166.00 C255.42,165.75 255.08,164.75 255.00,164.00 C254.92,163.25 255.00,162.08 255.50,161.50Z" fill="#000"/>
<path d="M260.00,160.50 C260.17,159.87 261.92,159.12 262.50,159.20 C263.08,159.28 263.67,160.37 263.50,161.00 C263.33,161.63 262.08,163.08 261.50,163.00 C260.92,162.92 259.83,161.13 260.00,160.50Z" fill="#000"/>
<path d="M367.80,126.00 C369.52,125.23 372.40,123.98 374.70,123.70 C377.00,123.42 379.88,124.10 381.60,124.30 C383.32,124.50 383.85,125.00 385.00,124.90 C386.15,124.80 387.92,123.32 388.50,123.70 C389.08,124.08 388.88,126.05 388.50,127.20 C388.12,128.35 386.97,129.27 386.20,130.60 C385.43,131.93 385.05,134.05 383.90,135.20 C382.75,136.35 380.65,136.55 379.30,137.50 C377.95,138.45 376.57,139.57 375.80,140.90 C375.03,142.23 375.65,143.97 374.70,145.50 C373.75,147.03 371.63,148.38 370.10,150.10 C368.57,151.82 366.83,153.88 365.50,155.80 C364.17,157.72 363.63,160.07 362.10,161.60 C360.57,163.13 358.22,164.05 356.30,165.00 C354.38,165.95 352.50,166.33 350.60,167.30 C348.70,168.27 346.05,170.98 344.90,170.80 C343.75,170.62 343.70,167.93 343.70,166.20 C343.70,164.47 344.90,162.70 344.90,160.40 C344.90,158.10 344.28,154.30 343.70,152.40 C343.12,150.50 341.02,150.15 341.40,149.00 C341.78,147.85 344.08,147.03 346.00,145.50 C347.92,143.97 350.60,141.90 352.90,139.80 C355.20,137.70 357.88,134.82 359.80,132.90 C361.72,130.98 363.07,129.45 364.40,128.30 C365.73,127.15 366.08,126.77 367.80,126.00Z" fill="#000"/>
<path d="M346.00,158.50 C346.67,157.30 348.00,156.92 349.00,156.80 C350.00,156.68 350.92,157.93 352.00,157.80 C353.08,157.67 354.33,156.17 355.50,156.00 C356.67,155.83 357.83,157.00 359.00,156.80 C360.17,156.60 361.50,154.93 362.50,154.80 C363.50,154.67 365.00,155.05 365.00,156.00 C365.00,156.95 363.75,159.20 362.50,160.50 C361.25,161.80 359.33,162.88 357.50,163.80 C355.67,164.72 353.33,165.30 351.50,166.00 C349.67,166.70 347.58,168.33 346.50,168.00 C345.42,167.67 345.08,165.58 345.00,164.00 C344.92,162.42 345.33,159.70 346.00,158.50Z" fill="#000"/>
<path d="M346.50,163.00 C347.00,161.92 348.67,161.42 350.00,161.00 C351.33,160.58 353.17,160.47 354.50,160.50 C355.83,160.53 357.92,160.62 358.00,161.20 C358.08,161.78 356.25,163.17 355.00,164.00 C353.75,164.83 351.83,165.62 350.50,166.20 C349.17,166.78 347.67,168.03 347.00,167.50 C346.33,166.97 346.00,164.08 346.50,163.00Z" fill="#000"/>
<path d="M343.8,169.5 L349,166.8 L355.5,164.2 L361.5,160.5 L364.8,156.5 L365.8,157.5 L362.6,162 L356.5,165.8 L350.8,168.3 L345,171.5 Z" fill="#000"/>
<path d="M385.5,125.5 L388.6,124 L388,128 L385.8,132.5 L383.5,135.5 L383.8,131 Z" fill="#000"/>
<path d="M377,134.8 L381.8,134 L381,137 L377.5,138.5 Z" fill="#000"/>
<path d="M371.5,134.2 L373.5,134.5 L374,137.5 L372,138 Z" fill="#000"/>
<path d="M434.20,175.50 C434.08,174.45 434.55,172.58 434.90,170.60 C435.25,168.62 435.95,165.93 436.30,163.60 C436.65,161.27 436.42,158.92 437.00,156.60 C437.58,154.28 438.42,152.02 439.80,149.70 C441.18,147.38 443.22,144.80 445.30,142.70 C447.38,140.60 450.20,138.73 452.30,137.10 C454.40,135.47 456.03,134.53 457.90,132.90 C459.77,131.27 461.42,128.68 463.50,127.30 C465.58,125.92 468.32,125.28 470.40,124.60 C472.48,123.92 474.37,123.90 476.00,123.20 C477.63,122.50 478.57,121.33 480.20,120.40 C481.83,119.47 484.17,118.42 485.80,117.60 C487.43,116.78 489.07,115.50 490.00,115.50 C490.93,115.50 492.10,116.32 491.40,117.60 C490.70,118.88 487.43,121.35 485.80,123.20 C484.17,125.05 482.77,126.85 481.60,128.70 C480.43,130.55 479.97,132.43 478.80,134.30 C477.63,136.17 476.00,138.03 474.60,139.90 C473.20,141.77 472.02,143.65 470.40,145.50 C468.78,147.35 466.52,149.15 464.90,151.00 C463.28,152.85 462.33,154.73 460.70,156.60 C459.07,158.47 457.20,160.33 455.10,162.20 C453.00,164.07 450.42,166.17 448.10,167.80 C445.78,169.43 443.28,170.48 441.20,172.00 C439.12,173.52 436.77,176.32 435.60,176.90 C434.43,177.48 434.32,176.55 434.20,175.50Z" fill="#000"/>
<path d="M440.00,160.00 C440.17,157.92 441.50,154.08 442.50,152.50 C443.50,150.92 444.92,150.33 446.00,150.50 C447.08,150.67 447.92,153.25 449.00,153.50 C450.08,153.75 451.50,151.72 452.50,152.00 C453.50,152.28 453.92,154.87 455.00,155.20 C456.08,155.53 457.92,154.00 459.00,154.00 C460.08,154.00 461.67,154.37 461.50,155.20 C461.33,156.03 459.58,157.95 458.00,159.00 C456.42,160.05 454.00,160.75 452.00,161.50 C450.00,162.25 447.75,162.92 446.00,163.50 C444.25,164.08 442.50,165.58 441.50,165.00 C440.50,164.42 439.83,162.08 440.00,160.00Z" fill="#000"/>
<path d="M436.50,172.00 C436.58,170.33 437.67,166.75 438.50,165.00 C439.33,163.25 440.17,162.33 441.50,161.50 C442.83,160.67 444.75,160.42 446.50,160.00 C448.25,159.58 450.08,159.47 452.00,159.00 C453.92,158.53 456.33,157.63 458.00,157.20 C459.67,156.77 462.17,155.68 462.00,156.40 C461.83,157.12 459.00,159.73 457.00,161.50 C455.00,163.27 452.33,165.28 450.00,167.00 C447.67,168.72 445.00,170.47 443.00,171.80 C441.00,173.13 439.08,174.97 438.00,175.00 C436.92,175.03 436.42,173.67 436.50,172.00Z" fill="#000"/>
<path d="M435.8,176.2 L441,172.2 L448.2,167.2 L455,161.6 L460.5,156 L461.8,156.8 L456,162.6 L449,168.6 L441.8,173.2 L436.2,177.2 Z" fill="#000"/>
<path d="M489.6,115.8 L491.2,117.2 L486,123.5 L481,130.5 L477,135.5 L475.8,134.8 L479.5,129 L484,122 Z" fill="#000"/>
<path d="M488,116.8 L490.4,116.4 L486.5,121.5 L483,126 L482,125.5 Z" fill="#000"/>
<path d="M478.5,131.8 L481,129.5 L478.5,135 L474.5,140.5 L473.5,139.8 Z" fill="#000"/>
<ellipse cx="469" cy="137" rx="2.4" ry="2.2" fill="#000"/>
<ellipse cx="455" cy="138.5" rx="3.2" ry="1.3" fill="#000" transform="rotate(-15 455 138.5)"/></g></g><g style="mix-blend-mode:multiply" filter="url(#rag)"><path d="M70.50,149.60 C71.32,149.60 72.23,150.52 72.10,151.20 C71.97,151.88 70.52,152.73 69.70,153.70 C68.88,154.67 68.02,156.18 67.20,157.00 C66.38,157.82 65.48,158.20 64.80,158.60 C64.12,159.00 63.65,159.40 63.10,159.40 C62.55,159.40 61.90,159.15 61.50,158.60 C61.10,158.05 60.57,156.92 60.70,156.10 C60.83,155.28 61.62,154.38 62.30,153.70 C62.98,153.02 63.98,152.42 64.80,152.00 C65.62,151.58 66.25,151.60 67.20,151.20 C68.15,150.80 69.68,149.60 70.50,149.60Z" fill="#ff7878"/>
<ellipse cx="66.8" cy="131.4" rx="1.8" ry="1.1" fill="#ff7878" transform="rotate(-30 66.8 131.4)"/>
<circle cx="59.6" cy="137.5" r="0.8" fill="#ff7878"/>
<circle cx="65" cy="161.4" r="1" fill="#ff7878"/>
<path d="M156.90,146.30 C157.87,145.53 159.15,145.80 160.40,145.80 C161.65,145.80 163.25,146.02 164.40,146.30 C165.55,146.58 166.23,147.50 167.30,147.50 C168.37,147.50 169.65,146.63 170.80,146.30 C171.95,145.97 173.25,145.58 174.20,145.50 C175.15,145.42 176.58,145.47 176.50,145.80 C176.42,146.13 174.65,146.83 173.70,147.50 C172.75,148.17 171.58,148.83 170.80,149.80 C170.02,150.77 169.68,152.15 169.00,153.30 C168.32,154.45 167.57,155.75 166.70,156.70 C165.83,157.65 164.75,158.42 163.80,159.00 C162.85,159.58 162.15,160.00 161.00,160.20 C159.85,160.40 157.97,160.48 156.90,160.20 C155.83,159.92 155.08,159.47 154.60,158.50 C154.12,157.53 154.00,155.75 154.00,154.40 C154.00,153.05 154.12,151.75 154.60,150.40 C155.08,149.05 155.93,147.07 156.90,146.30Z" fill="#ff7878"/>
<circle cx="163" cy="160.9" r="1.2" fill="#ff7878"/>
<path d="M269.20,125.50 C270.80,124.62 272.67,124.58 274.00,124.40 C275.33,124.22 276.67,123.68 277.20,124.40 C277.73,125.12 277.03,126.75 277.20,128.70 C277.37,130.65 277.77,134.33 278.20,136.10 C278.63,137.87 279.62,138.23 279.80,139.30 C279.98,140.37 280.27,141.07 279.30,142.50 C278.33,143.93 275.77,146.12 274.00,147.90 C272.23,149.68 270.12,151.78 268.70,153.20 C267.28,154.62 266.40,155.52 265.50,156.40 C264.60,157.28 264.37,157.43 263.30,158.50 C262.23,159.57 260.52,161.55 259.10,162.80 C257.68,164.05 255.87,165.65 254.80,166.00 C253.73,166.35 253.42,166.15 252.70,164.90 C251.98,163.65 251.22,160.63 250.50,158.50 C249.78,156.37 248.75,154.23 248.40,152.10 C248.05,149.97 248.05,147.47 248.40,145.70 C248.75,143.93 249.25,142.57 250.50,141.50 C251.75,140.43 254.30,140.37 255.90,139.30 C257.50,138.23 258.68,136.70 260.10,135.10 C261.52,133.50 262.88,131.30 264.40,129.70 C265.92,128.10 267.60,126.38 269.20,125.50Z" fill="#ff7878"/>
<path d="M256.80,155.20 C257.27,154.63 258.72,154.60 260.00,154.60 C261.28,154.60 264.00,154.77 264.50,155.20 C265.00,155.63 263.58,156.65 263.00,157.20 C262.42,157.75 261.75,158.12 261.00,158.50 C260.25,158.88 259.13,159.58 258.50,159.50 C257.87,159.42 257.48,158.72 257.20,158.00 C256.92,157.28 256.33,155.77 256.80,155.20Z" fill="#ffff78"/>
<path d="M258.30,156.80 C258.93,156.32 261.35,156.10 261.80,156.60 C262.25,157.10 261.43,159.07 261.00,159.80 C260.57,160.53 259.70,161.05 259.20,161.00 C258.70,160.95 258.15,160.20 258.00,159.50 C257.85,158.80 257.67,157.28 258.30,156.80Z" fill="#ffffff"/>
<path d="M255.50,161.50 C256.00,160.92 257.33,160.33 258.00,160.50 C258.67,160.67 259.42,161.67 259.50,162.50 C259.58,163.33 259.08,164.92 258.50,165.50 C257.92,166.08 256.58,166.25 256.00,166.00 C255.42,165.75 255.08,164.75 255.00,164.00 C254.92,163.25 255.00,162.08 255.50,161.50Z" fill="#7878ff"/>
<path d="M260.00,160.50 C260.17,159.87 261.92,159.12 262.50,159.20 C263.08,159.28 263.67,160.37 263.50,161.00 C263.33,161.63 262.08,163.08 261.50,163.00 C260.92,162.92 259.83,161.13 260.00,160.50Z" fill="#7878ff"/>
<path d="M367.80,126.00 C369.52,125.23 372.40,123.98 374.70,123.70 C377.00,123.42 379.88,124.10 381.60,124.30 C383.32,124.50 383.85,125.00 385.00,124.90 C386.15,124.80 387.92,123.32 388.50,123.70 C389.08,124.08 388.88,126.05 388.50,127.20 C388.12,128.35 386.97,129.27 386.20,130.60 C385.43,131.93 385.05,134.05 383.90,135.20 C382.75,136.35 380.65,136.55 379.30,137.50 C377.95,138.45 376.57,139.57 375.80,140.90 C375.03,142.23 375.65,143.97 374.70,145.50 C373.75,147.03 371.63,148.38 370.10,150.10 C368.57,151.82 366.83,153.88 365.50,155.80 C364.17,157.72 363.63,160.07 362.10,161.60 C360.57,163.13 358.22,164.05 356.30,165.00 C354.38,165.95 352.50,166.33 350.60,167.30 C348.70,168.27 346.05,170.98 344.90,170.80 C343.75,170.62 343.70,167.93 343.70,166.20 C343.70,164.47 344.90,162.70 344.90,160.40 C344.90,158.10 344.28,154.30 343.70,152.40 C343.12,150.50 341.02,150.15 341.40,149.00 C341.78,147.85 344.08,147.03 346.00,145.50 C347.92,143.97 350.60,141.90 352.90,139.80 C355.20,137.70 357.88,134.82 359.80,132.90 C361.72,130.98 363.07,129.45 364.40,128.30 C365.73,127.15 366.08,126.77 367.80,126.00Z" fill="#ff7878"/>
<path d="M346.00,158.50 C346.67,157.30 348.00,156.92 349.00,156.80 C350.00,156.68 350.92,157.93 352.00,157.80 C353.08,157.67 354.33,156.17 355.50,156.00 C356.67,155.83 357.83,157.00 359.00,156.80 C360.17,156.60 361.50,154.93 362.50,154.80 C363.50,154.67 365.00,155.05 365.00,156.00 C365.00,156.95 363.75,159.20 362.50,160.50 C361.25,161.80 359.33,162.88 357.50,163.80 C355.67,164.72 353.33,165.30 351.50,166.00 C349.67,166.70 347.58,168.33 346.50,168.00 C345.42,167.67 345.08,165.58 345.00,164.00 C344.92,162.42 345.33,159.70 346.00,158.50Z" fill="#ffff78"/>
<path d="M346.50,163.00 C347.00,161.92 348.67,161.42 350.00,161.00 C351.33,160.58 353.17,160.47 354.50,160.50 C355.83,160.53 357.92,160.62 358.00,161.20 C358.08,161.78 356.25,163.17 355.00,164.00 C353.75,164.83 351.83,165.62 350.50,166.20 C349.17,166.78 347.67,168.03 347.00,167.50 C346.33,166.97 346.00,164.08 346.50,163.00Z" fill="#ffffff"/>
<path d="M343.8,169.5 L349,166.8 L355.5,164.2 L361.5,160.5 L364.8,156.5 L365.8,157.5 L362.6,162 L356.5,165.8 L350.8,168.3 L345,171.5 Z" fill="#7878ff"/>
<path d="M385.5,125.5 L388.6,124 L388,128 L385.8,132.5 L383.5,135.5 L383.8,131 Z" fill="#7878ff"/>
<path d="M377,134.8 L381.8,134 L381,137 L377.5,138.5 Z" fill="#ff78ff"/>
<path d="M371.5,134.2 L373.5,134.5 L374,137.5 L372,138 Z" fill="#ffff78"/>
<path d="M434.20,175.50 C434.08,174.45 434.55,172.58 434.90,170.60 C435.25,168.62 435.95,165.93 436.30,163.60 C436.65,161.27 436.42,158.92 437.00,156.60 C437.58,154.28 438.42,152.02 439.80,149.70 C441.18,147.38 443.22,144.80 445.30,142.70 C447.38,140.60 450.20,138.73 452.30,137.10 C454.40,135.47 456.03,134.53 457.90,132.90 C459.77,131.27 461.42,128.68 463.50,127.30 C465.58,125.92 468.32,125.28 470.40,124.60 C472.48,123.92 474.37,123.90 476.00,123.20 C477.63,122.50 478.57,121.33 480.20,120.40 C481.83,119.47 484.17,118.42 485.80,117.60 C487.43,116.78 489.07,115.50 490.00,115.50 C490.93,115.50 492.10,116.32 491.40,117.60 C490.70,118.88 487.43,121.35 485.80,123.20 C484.17,125.05 482.77,126.85 481.60,128.70 C480.43,130.55 479.97,132.43 478.80,134.30 C477.63,136.17 476.00,138.03 474.60,139.90 C473.20,141.77 472.02,143.65 470.40,145.50 C468.78,147.35 466.52,149.15 464.90,151.00 C463.28,152.85 462.33,154.73 460.70,156.60 C459.07,158.47 457.20,160.33 455.10,162.20 C453.00,164.07 450.42,166.17 448.10,167.80 C445.78,169.43 443.28,170.48 441.20,172.00 C439.12,173.52 436.77,176.32 435.60,176.90 C434.43,177.48 434.32,176.55 434.20,175.50Z" fill="#ff7878"/>
<path d="M440.00,160.00 C440.17,157.92 441.50,154.08 442.50,152.50 C443.50,150.92 444.92,150.33 446.00,150.50 C447.08,150.67 447.92,153.25 449.00,153.50 C450.08,153.75 451.50,151.72 452.50,152.00 C453.50,152.28 453.92,154.87 455.00,155.20 C456.08,155.53 457.92,154.00 459.00,154.00 C460.08,154.00 461.67,154.37 461.50,155.20 C461.33,156.03 459.58,157.95 458.00,159.00 C456.42,160.05 454.00,160.75 452.00,161.50 C450.00,162.25 447.75,162.92 446.00,163.50 C444.25,164.08 442.50,165.58 441.50,165.00 C440.50,164.42 439.83,162.08 440.00,160.00Z" fill="#ffff78"/>
<path d="M436.50,172.00 C436.58,170.33 437.67,166.75 438.50,165.00 C439.33,163.25 440.17,162.33 441.50,161.50 C442.83,160.67 444.75,160.42 446.50,160.00 C448.25,159.58 450.08,159.47 452.00,159.00 C453.92,158.53 456.33,157.63 458.00,157.20 C459.67,156.77 462.17,155.68 462.00,156.40 C461.83,157.12 459.00,159.73 457.00,161.50 C455.00,163.27 452.33,165.28 450.00,167.00 C447.67,168.72 445.00,170.47 443.00,171.80 C441.00,173.13 439.08,174.97 438.00,175.00 C436.92,175.03 436.42,173.67 436.50,172.00Z" fill="#ffffff"/>
<path d="M435.8,176.2 L441,172.2 L448.2,167.2 L455,161.6 L460.5,156 L461.8,156.8 L456,162.6 L449,168.6 L441.8,173.2 L436.2,177.2 Z" fill="#7878ff"/>
<path d="M489.6,115.8 L491.2,117.2 L486,123.5 L481,130.5 L477,135.5 L475.8,134.8 L479.5,129 L484,122 Z" fill="#ff78ff"/>
<path d="M488,116.8 L490.4,116.4 L486.5,121.5 L483,126 L482,125.5 Z" fill="#ffffff"/>
<path d="M478.5,131.8 L481,129.5 L478.5,135 L474.5,140.5 L473.5,139.8 Z" fill="#7878ff"/>
<ellipse cx="469" cy="137" rx="2.4" ry="2.2" fill="#ffff78"/>
<ellipse cx="455" cy="138.5" rx="3.2" ry="1.3" fill="#ffff78" transform="rotate(-15 455 138.5)"/></g><g style="mix-blend-mode:screen" filter="url(#ragspk)"><path d="M70.50,149.60 C71.32,149.60 72.23,150.52 72.10,151.20 C71.97,151.88 70.52,152.73 69.70,153.70 C68.88,154.67 68.02,156.18 67.20,157.00 C66.38,157.82 65.48,158.20 64.80,158.60 C64.12,159.00 63.65,159.40 63.10,159.40 C62.55,159.40 61.90,159.15 61.50,158.60 C61.10,158.05 60.57,156.92 60.70,156.10 C60.83,155.28 61.62,154.38 62.30,153.70 C62.98,153.02 63.98,152.42 64.80,152.00 C65.62,151.58 66.25,151.60 67.20,151.20 C68.15,150.80 69.68,149.60 70.50,149.60Z" fill="#ff0000"/>
<ellipse cx="66.8" cy="131.4" rx="1.8" ry="1.1" fill="#ff0000" transform="rotate(-30 66.8 131.4)"/>
<circle cx="59.6" cy="137.5" r="0.8" fill="#ff0000"/>
<circle cx="65" cy="161.4" r="1" fill="#ff0000"/>
<path d="M156.90,146.30 C157.87,145.53 159.15,145.80 160.40,145.80 C161.65,145.80 163.25,146.02 164.40,146.30 C165.55,146.58 166.23,147.50 167.30,147.50 C168.37,147.50 169.65,146.63 170.80,146.30 C171.95,145.97 173.25,145.58 174.20,145.50 C175.15,145.42 176.58,145.47 176.50,145.80 C176.42,146.13 174.65,146.83 173.70,147.50 C172.75,148.17 171.58,148.83 170.80,149.80 C170.02,150.77 169.68,152.15 169.00,153.30 C168.32,154.45 167.57,155.75 166.70,156.70 C165.83,157.65 164.75,158.42 163.80,159.00 C162.85,159.58 162.15,160.00 161.00,160.20 C159.85,160.40 157.97,160.48 156.90,160.20 C155.83,159.92 155.08,159.47 154.60,158.50 C154.12,157.53 154.00,155.75 154.00,154.40 C154.00,153.05 154.12,151.75 154.60,150.40 C155.08,149.05 155.93,147.07 156.90,146.30Z" fill="#ff0000"/>
<circle cx="163" cy="160.9" r="1.2" fill="#ff0000"/>
<path d="M269.20,125.50 C270.80,124.62 272.67,124.58 274.00,124.40 C275.33,124.22 276.67,123.68 277.20,124.40 C277.73,125.12 277.03,126.75 277.20,128.70 C277.37,130.65 277.77,134.33 278.20,136.10 C278.63,137.87 279.62,138.23 279.80,139.30 C279.98,140.37 280.27,141.07 279.30,142.50 C278.33,143.93 275.77,146.12 274.00,147.90 C272.23,149.68 270.12,151.78 268.70,153.20 C267.28,154.62 266.40,155.52 265.50,156.40 C264.60,157.28 264.37,157.43 263.30,158.50 C262.23,159.57 260.52,161.55 259.10,162.80 C257.68,164.05 255.87,165.65 254.80,166.00 C253.73,166.35 253.42,166.15 252.70,164.90 C251.98,163.65 251.22,160.63 250.50,158.50 C249.78,156.37 248.75,154.23 248.40,152.10 C248.05,149.97 248.05,147.47 248.40,145.70 C248.75,143.93 249.25,142.57 250.50,141.50 C251.75,140.43 254.30,140.37 255.90,139.30 C257.50,138.23 258.68,136.70 260.10,135.10 C261.52,133.50 262.88,131.30 264.40,129.70 C265.92,128.10 267.60,126.38 269.20,125.50Z" fill="#ff0000"/>
<path d="M256.80,155.20 C257.27,154.63 258.72,154.60 260.00,154.60 C261.28,154.60 264.00,154.77 264.50,155.20 C265.00,155.63 263.58,156.65 263.00,157.20 C262.42,157.75 261.75,158.12 261.00,158.50 C260.25,158.88 259.13,159.58 258.50,159.50 C257.87,159.42 257.48,158.72 257.20,158.00 C256.92,157.28 256.33,155.77 256.80,155.20Z" fill="#ffff40"/>
<path d="M258.30,156.80 C258.93,156.32 261.35,156.10 261.80,156.60 C262.25,157.10 261.43,159.07 261.00,159.80 C260.57,160.53 259.70,161.05 259.20,161.00 C258.70,160.95 258.15,160.20 258.00,159.50 C257.85,158.80 257.67,157.28 258.30,156.80Z" fill="#ffffff"/>
<path d="M255.50,161.50 C256.00,160.92 257.33,160.33 258.00,160.50 C258.67,160.67 259.42,161.67 259.50,162.50 C259.58,163.33 259.08,164.92 258.50,165.50 C257.92,166.08 256.58,166.25 256.00,166.00 C255.42,165.75 255.08,164.75 255.00,164.00 C254.92,163.25 255.00,162.08 255.50,161.50Z" fill="#3838ff"/>
<path d="M260.00,160.50 C260.17,159.87 261.92,159.12 262.50,159.20 C263.08,159.28 263.67,160.37 263.50,161.00 C263.33,161.63 262.08,163.08 261.50,163.00 C260.92,162.92 259.83,161.13 260.00,160.50Z" fill="#4848ff"/>
<path d="M367.80,126.00 C369.52,125.23 372.40,123.98 374.70,123.70 C377.00,123.42 379.88,124.10 381.60,124.30 C383.32,124.50 383.85,125.00 385.00,124.90 C386.15,124.80 387.92,123.32 388.50,123.70 C389.08,124.08 388.88,126.05 388.50,127.20 C388.12,128.35 386.97,129.27 386.20,130.60 C385.43,131.93 385.05,134.05 383.90,135.20 C382.75,136.35 380.65,136.55 379.30,137.50 C377.95,138.45 376.57,139.57 375.80,140.90 C375.03,142.23 375.65,143.97 374.70,145.50 C373.75,147.03 371.63,148.38 370.10,150.10 C368.57,151.82 366.83,153.88 365.50,155.80 C364.17,157.72 363.63,160.07 362.10,161.60 C360.57,163.13 358.22,164.05 356.30,165.00 C354.38,165.95 352.50,166.33 350.60,167.30 C348.70,168.27 346.05,170.98 344.90,170.80 C343.75,170.62 343.70,167.93 343.70,166.20 C343.70,164.47 344.90,162.70 344.90,160.40 C344.90,158.10 344.28,154.30 343.70,152.40 C343.12,150.50 341.02,150.15 341.40,149.00 C341.78,147.85 344.08,147.03 346.00,145.50 C347.92,143.97 350.60,141.90 352.90,139.80 C355.20,137.70 357.88,134.82 359.80,132.90 C361.72,130.98 363.07,129.45 364.40,128.30 C365.73,127.15 366.08,126.77 367.80,126.00Z" fill="#ff0000"/>
<path d="M346.00,158.50 C346.67,157.30 348.00,156.92 349.00,156.80 C350.00,156.68 350.92,157.93 352.00,157.80 C353.08,157.67 354.33,156.17 355.50,156.00 C356.67,155.83 357.83,157.00 359.00,156.80 C360.17,156.60 361.50,154.93 362.50,154.80 C363.50,154.67 365.00,155.05 365.00,156.00 C365.00,156.95 363.75,159.20 362.50,160.50 C361.25,161.80 359.33,162.88 357.50,163.80 C355.67,164.72 353.33,165.30 351.50,166.00 C349.67,166.70 347.58,168.33 346.50,168.00 C345.42,167.67 345.08,165.58 345.00,164.00 C344.92,162.42 345.33,159.70 346.00,158.50Z" fill="#ffff38"/>
<path d="M346.50,163.00 C347.00,161.92 348.67,161.42 350.00,161.00 C351.33,160.58 353.17,160.47 354.50,160.50 C355.83,160.53 357.92,160.62 358.00,161.20 C358.08,161.78 356.25,163.17 355.00,164.00 C353.75,164.83 351.83,165.62 350.50,166.20 C349.17,166.78 347.67,168.03 347.00,167.50 C346.33,166.97 346.00,164.08 346.50,163.00Z" fill="#ffffff"/>
<path d="M343.8,169.5 L349,166.8 L355.5,164.2 L361.5,160.5 L364.8,156.5 L365.8,157.5 L362.6,162 L356.5,165.8 L350.8,168.3 L345,171.5 Z" fill="#3535ff"/>
<path d="M385.5,125.5 L388.6,124 L388,128 L385.8,132.5 L383.5,135.5 L383.8,131 Z" fill="#4040ff"/>
<path d="M377,134.8 L381.8,134 L381,137 L377.5,138.5 Z" fill="#ff70ff"/>
<path d="M371.5,134.2 L373.5,134.5 L374,137.5 L372,138 Z" fill="#ffff40"/>
<path d="M434.20,175.50 C434.08,174.45 434.55,172.58 434.90,170.60 C435.25,168.62 435.95,165.93 436.30,163.60 C436.65,161.27 436.42,158.92 437.00,156.60 C437.58,154.28 438.42,152.02 439.80,149.70 C441.18,147.38 443.22,144.80 445.30,142.70 C447.38,140.60 450.20,138.73 452.30,137.10 C454.40,135.47 456.03,134.53 457.90,132.90 C459.77,131.27 461.42,128.68 463.50,127.30 C465.58,125.92 468.32,125.28 470.40,124.60 C472.48,123.92 474.37,123.90 476.00,123.20 C477.63,122.50 478.57,121.33 480.20,120.40 C481.83,119.47 484.17,118.42 485.80,117.60 C487.43,116.78 489.07,115.50 490.00,115.50 C490.93,115.50 492.10,116.32 491.40,117.60 C490.70,118.88 487.43,121.35 485.80,123.20 C484.17,125.05 482.77,126.85 481.60,128.70 C480.43,130.55 479.97,132.43 478.80,134.30 C477.63,136.17 476.00,138.03 474.60,139.90 C473.20,141.77 472.02,143.65 470.40,145.50 C468.78,147.35 466.52,149.15 464.90,151.00 C463.28,152.85 462.33,154.73 460.70,156.60 C459.07,158.47 457.20,160.33 455.10,162.20 C453.00,164.07 450.42,166.17 448.10,167.80 C445.78,169.43 443.28,170.48 441.20,172.00 C439.12,173.52 436.77,176.32 435.60,176.90 C434.43,177.48 434.32,176.55 434.20,175.50Z" fill="#ff0000"/>
<path d="M440.00,160.00 C440.17,157.92 441.50,154.08 442.50,152.50 C443.50,150.92 444.92,150.33 446.00,150.50 C447.08,150.67 447.92,153.25 449.00,153.50 C450.08,153.75 451.50,151.72 452.50,152.00 C453.50,152.28 453.92,154.87 455.00,155.20 C456.08,155.53 457.92,154.00 459.00,154.00 C460.08,154.00 461.67,154.37 461.50,155.20 C461.33,156.03 459.58,157.95 458.00,159.00 C456.42,160.05 454.00,160.75 452.00,161.50 C450.00,162.25 447.75,162.92 446.00,163.50 C444.25,164.08 442.50,165.58 441.50,165.00 C440.50,164.42 439.83,162.08 440.00,160.00Z" fill="#ffff30"/>
<path d="M436.50,172.00 C436.58,170.33 437.67,166.75 438.50,165.00 C439.33,163.25 440.17,162.33 441.50,161.50 C442.83,160.67 444.75,160.42 446.50,160.00 C448.25,159.58 450.08,159.47 452.00,159.00 C453.92,158.53 456.33,157.63 458.00,157.20 C459.67,156.77 462.17,155.68 462.00,156.40 C461.83,157.12 459.00,159.73 457.00,161.50 C455.00,163.27 452.33,165.28 450.00,167.00 C447.67,168.72 445.00,170.47 443.00,171.80 C441.00,173.13 439.08,174.97 438.00,175.00 C436.92,175.03 436.42,173.67 436.50,172.00Z" fill="#ffffff"/>
<path d="M435.8,176.2 L441,172.2 L448.2,167.2 L455,161.6 L460.5,156 L461.8,156.8 L456,162.6 L449,168.6 L441.8,173.2 L436.2,177.2 Z" fill="#3030ff"/>
<path d="M489.6,115.8 L491.2,117.2 L486,123.5 L481,130.5 L477,135.5 L475.8,134.8 L479.5,129 L484,122 Z" fill="#f060ff"/>
<path d="M488,116.8 L490.4,116.4 L486.5,121.5 L483,126 L482,125.5 Z" fill="#ffffff"/>
<path d="M478.5,131.8 L481,129.5 L478.5,135 L474.5,140.5 L473.5,139.8 Z" fill="#3a3aff"/>
<ellipse cx="469" cy="137" rx="2.4" ry="2.2" fill="#ffff40"/>
<ellipse cx="455" cy="138.5" rx="3.2" ry="1.3" fill="#ffff40" transform="rotate(-15 455 138.5)"/></g>
<g style="isolation:isolate">
  <circle cx="82.8" cy="37.8" r="13.4" fill="#ff0000"/>
  <circle cx="98.5" cy="37.8" r="13.4" fill="#00ff00" style="mix-blend-mode:screen"/>
  <circle cx="90.5" cy="50.5" r="13.4" fill="#0000ff" style="mix-blend-mode:screen"/>
</g>
<text x="77.3" y="39.0" font-size="6.6" fill="#1a0000" text-anchor="middle" textLength="14.8" lengthAdjust="spacingAndGlyphs">CD41</text>
<text x="103" y="39.0" font-size="6.6" fill="#001a00" text-anchor="middle" textLength="12.6" lengthAdjust="spacingAndGlyphs">P-sel</text>
<text x="91" y="57.2" font-size="6.6" fill="#dde2ff" text-anchor="middle" textLength="15.6" lengthAdjust="spacingAndGlyphs">Fibrin</text>
<g stroke="#fff" stroke-width="1.1" fill="#fff"><path d="M69,97.4 L59.5,84.7"/><path d="M58,82.9 L61.4,84.6 L59,86.4 Z"/></g>
<g stroke="#fff" stroke-width="1.1" fill="#fff"><path d="M26.4,182.8 L37.3,171.9"/><path d="M38.9,170.4 L37.9,174 L35.7,171.8 Z"/></g>
<text x="21.9" y="101.4" font-size="6.9" textLength="16.2" lengthAdjust="spacingAndGlyphs" fill="#181818" stroke="#181818" stroke-width="1.4" stroke-linejoin="round" opacity="0.5" font-weight="bold">10 μm</text>
<text x="21.9" y="101.4" font-size="6.9" textLength="16.2" lengthAdjust="spacingAndGlyphs" fill="#ffffff" font-weight="bold">10 μm</text>
<path d="M20.4,103.8 H37.6" stroke="#dcdcdc" stroke-width="1"/>
<text x="113.7" y="102.7" font-size="6.5" text-anchor="end" textLength="32.4" lengthAdjust="spacingAndGlyphs" fill="#181818" stroke="#181818" stroke-width="1.4" stroke-linejoin="round" opacity="0.5" font-weight="bold">0:00:00.000</text>
<text x="113.7" y="102.7" font-size="6.5" text-anchor="end" textLength="32.4" lengthAdjust="spacingAndGlyphs" fill="#ffffff" font-weight="bold">0:00:00.000</text>
<text x="21.9" y="190.4" font-size="6.9" textLength="16.2" lengthAdjust="spacingAndGlyphs" fill="#181818" stroke="#181818" stroke-width="1.4" stroke-linejoin="round" opacity="0.5" font-weight="bold">10 μm</text>
<text x="21.9" y="190.4" font-size="6.9" textLength="16.2" lengthAdjust="spacingAndGlyphs" fill="#ffffff" font-weight="bold">10 μm</text>
<path d="M20.4,192.8 H37.6" stroke="#dcdcdc" stroke-width="1"/>
<text x="113.7" y="191.7" font-size="6.5" text-anchor="end" textLength="32.4" lengthAdjust="spacingAndGlyphs" fill="#181818" stroke="#181818" stroke-width="1.4" stroke-linejoin="round" opacity="0.5" font-weight="bold">0:00:00.000</text>
<text x="113.7" y="191.7" font-size="6.5" text-anchor="end" textLength="32.4" lengthAdjust="spacingAndGlyphs" fill="#ffffff" font-weight="bold">0:00:00.000</text>
<text x="119.9" y="101.4" font-size="6.9" textLength="16.2" lengthAdjust="spacingAndGlyphs" fill="#181818" stroke="#181818" stroke-width="1.4" stroke-linejoin="round" opacity="0.5" font-weight="bold">10 μm</text>
<text x="119.9" y="101.4" font-size="6.9" textLength="16.2" lengthAdjust="spacingAndGlyphs" fill="#ffffff" font-weight="bold">10 μm</text>
<path d="M118.4,103.8 H135.6" stroke="#dcdcdc" stroke-width="1"/>
<text x="211.7" y="102.7" font-size="6.5" text-anchor="end" textLength="32.4" lengthAdjust="spacingAndGlyphs" fill="#181818" stroke="#181818" stroke-width="1.4" stroke-linejoin="round" opacity="0.5" font-weight="bold">0:00:20.467</text>
<text x="211.7" y="102.7" font-size="6.5" text-anchor="end" textLength="32.4" lengthAdjust="spacingAndGlyphs" fill="#ffffff" font-weight="bold">0:00:20.467</text>
<text x="119.9" y="190.4" font-size="6.9" textLength="16.2" lengthAdjust="spacingAndGlyphs" fill="#181818" stroke="#181818" stroke-width="1.4" stroke-linejoin="round" opacity="0.5" font-weight="bold">10 μm</text>
<text x="119.9" y="190.4" font-size="6.9" textLength="16.2" lengthAdjust="spacingAndGlyphs" fill="#ffffff" font-weight="bold">10 μm</text>
<path d="M118.4,192.8 H135.6" stroke="#dcdcdc" stroke-width="1"/>
<text x="211.7" y="191.7" font-size="6.5" text-anchor="end" textLength="32.4" lengthAdjust="spacingAndGlyphs" fill="#181818" stroke="#181818" stroke-width="1.4" stroke-linejoin="round" opacity="0.5" font-weight="bold">0:00:20.444</text>
<text x="211.7" y="191.7" font-size="6.5" text-anchor="end" textLength="32.4" lengthAdjust="spacingAndGlyphs" fill="#ffffff" font-weight="bold">0:00:20.444</text>
<text x="218.9" y="101.4" font-size="6.9" textLength="16.2" lengthAdjust="spacingAndGlyphs" fill="#181818" stroke="#181818" stroke-width="1.4" stroke-linejoin="round" opacity="0.5" font-weight="bold">10 μm</text>
<text x="218.9" y="101.4" font-size="6.9" textLength="16.2" lengthAdjust="spacingAndGlyphs" fill="#ffffff" font-weight="bold">10 μm</text>
<path d="M217.4,103.8 H234.6" stroke="#dcdcdc" stroke-width="1"/>
<text x="310.7" y="102.7" font-size="6.5" text-anchor="end" textLength="32.4" lengthAdjust="spacingAndGlyphs" fill="#181818" stroke="#181818" stroke-width="1.4" stroke-linejoin="round" opacity="0.5" font-weight="bold">0:01:00.709</text>
<text x="310.7" y="102.7" font-size="6.5" text-anchor="end" textLength="32.4" lengthAdjust="spacingAndGlyphs" fill="#ffffff" font-weight="bold">0:01:00.709</text>
<text x="218.9" y="190.4" font-size="6.9" textLength="16.2" lengthAdjust="spacingAndGlyphs" fill="#181818" stroke="#181818" stroke-width="1.4" stroke-linejoin="round" opacity="0.5" font-weight="bold">10 μm</text>
<text x="218.9" y="190.4" font-size="6.9" textLength="16.2" lengthAdjust="spacingAndGlyphs" fill="#ffffff" font-weight="bold">10 μm</text>
<path d="M217.4,192.8 H234.6" stroke="#dcdcdc" stroke-width="1"/>
<text x="310.7" y="191.7" font-size="6.5" text-anchor="end" textLength="32.4" lengthAdjust="spacingAndGlyphs" fill="#181818" stroke="#181818" stroke-width="1.4" stroke-linejoin="round" opacity="0.5" font-weight="bold">0:01:00.615</text>
<text x="310.7" y="191.7" font-size="6.5" text-anchor="end" textLength="32.4" lengthAdjust="spacingAndGlyphs" fill="#ffffff" font-weight="bold">0:01:00.615</text>
<text x="317.9" y="101.4" font-size="6.9" textLength="16.2" lengthAdjust="spacingAndGlyphs" fill="#181818" stroke="#181818" stroke-width="1.4" stroke-linejoin="round" opacity="0.5" font-weight="bold">10 μm</text>
<text x="317.9" y="101.4" font-size="6.9" textLength="16.2" lengthAdjust="spacingAndGlyphs" fill="#ffffff" font-weight="bold">10 μm</text>
<path d="M316.4,103.8 H333.6" stroke="#dcdcdc" stroke-width="1"/>
<text x="409.7" y="102.7" font-size="6.5" text-anchor="end" textLength="32.4" lengthAdjust="spacingAndGlyphs" fill="#181818" stroke="#181818" stroke-width="1.4" stroke-linejoin="round" opacity="0.5" font-weight="bold">0:02:00.709</text>
<text x="409.7" y="102.7" font-size="6.5" text-anchor="end" textLength="32.4" lengthAdjust="spacingAndGlyphs" fill="#ffffff" font-weight="bold">0:02:00.709</text>
<text x="317.9" y="190.4" font-size="6.9" textLength="16.2" lengthAdjust="spacingAndGlyphs" fill="#181818" stroke="#181818" stroke-width="1.4" stroke-linejoin="round" opacity="0.5" font-weight="bold">10 μm</text>
<text x="317.9" y="190.4" font-size="6.9" textLength="16.2" lengthAdjust="spacingAndGlyphs" fill="#ffffff" font-weight="bold">10 μm</text>
<path d="M316.4,192.8 H333.6" stroke="#dcdcdc" stroke-width="1"/>
<text x="409.7" y="191.7" font-size="6.5" text-anchor="end" textLength="32.4" lengthAdjust="spacingAndGlyphs" fill="#181818" stroke="#181818" stroke-width="1.4" stroke-linejoin="round" opacity="0.5" font-weight="bold">0:02:00.540</text>
<text x="409.7" y="191.7" font-size="6.5" text-anchor="end" textLength="32.4" lengthAdjust="spacingAndGlyphs" fill="#ffffff" font-weight="bold">0:02:00.540</text>
<text x="415.9" y="101.4" font-size="6.9" textLength="16.2" lengthAdjust="spacingAndGlyphs" fill="#181818" stroke="#181818" stroke-width="1.4" stroke-linejoin="round" opacity="0.5" font-weight="bold">10 μm</text>
<text x="415.9" y="101.4" font-size="6.9" textLength="16.2" lengthAdjust="spacingAndGlyphs" fill="#ffffff" font-weight="bold">10 μm</text>
<path d="M414.4,103.8 H431.6" stroke="#dcdcdc" stroke-width="1"/>
<text x="507.7" y="102.7" font-size="6.5" text-anchor="end" textLength="32.4" lengthAdjust="spacingAndGlyphs" fill="#181818" stroke="#181818" stroke-width="1.4" stroke-linejoin="round" opacity="0.5" font-weight="bold">0:03:00.000</text>
<text x="507.7" y="102.7" font-size="6.5" text-anchor="end" textLength="32.4" lengthAdjust="spacingAndGlyphs" fill="#ffffff" font-weight="bold">0:03:00.000</text>
<text x="415.9" y="190.4" font-size="6.9" textLength="16.2" lengthAdjust="spacingAndGlyphs" fill="#181818" stroke="#181818" stroke-width="1.4" stroke-linejoin="round" opacity="0.5" font-weight="bold">10 μm</text>
<text x="415.9" y="190.4" font-size="6.9" textLength="16.2" lengthAdjust="spacingAndGlyphs" fill="#ffffff" font-weight="bold">10 μm</text>
<path d="M414.4,192.8 H431.6" stroke="#dcdcdc" stroke-width="1"/>
<text x="507.7" y="191.7" font-size="6.5" text-anchor="end" textLength="32.4" lengthAdjust="spacingAndGlyphs" fill="#181818" stroke="#181818" stroke-width="1.4" stroke-linejoin="round" opacity="0.5" font-weight="bold">0:03:00.458</text>
<text x="507.7" y="191.7" font-size="6.5" text-anchor="end" textLength="32.4" lengthAdjust="spacingAndGlyphs" fill="#ffffff" font-weight="bold">0:03:00.458</text>
<text x="7.57" y="224.80" font-size="10" fill="#000" font-weight="bold" textLength="7.93" lengthAdjust="spacingAndGlyphs" >B</text>
<text x="68.00" y="229.30" font-size="10.4" fill="#231f20" class="k" textLength="93.04" lengthAdjust="spacingAndGlyphs" >Platelet accumulation</text>
<polygon points="50.8,314.9 51.6,314.0 52.5,313.4 53.4,312.5 54.2,312.0 55.0,311.1 55.7,310.5 56.5,309.6 57.3,308.7 58.0,308.2 58.8,307.3 59.6,306.5 60.3,305.4 61.1,303.9 61.9,303.6 62.6,301.8 63.4,301.3 64.2,299.6 65.0,298.0 65.7,296.8 66.5,294.8 67.2,293.2 68.0,291.6 68.8,290.2 69.5,289.4 70.3,287.3 71.0,286.2 71.8,283.3 72.6,282.7 73.4,281.1 74.2,280.2 74.9,278.5 75.7,277.0 76.5,276.5 77.2,276.4 78.0,275.1 78.8,275.5 79.6,274.4 80.3,273.6 81.1,273.5 81.9,272.2 82.6,272.7 83.4,270.7 84.2,271.7 84.9,270.7 85.7,271.2 86.5,270.0 87.2,269.4 88.0,269.9 88.8,269.0 89.5,267.6 90.3,268.4 91.1,268.4 91.8,267.4 92.6,266.5 93.4,267.1 94.1,266.2 94.9,267.2 95.7,266.8 96.4,266.7 97.2,265.4 98.0,266.2 98.7,265.2 99.5,264.8 100.3,265.2 101.0,264.7 101.8,264.3 102.6,264.5 103.4,264.8 104.2,263.4 105.0,263.6 105.8,262.7 106.5,263.1 107.3,262.6 108.1,261.6 108.8,260.8 109.6,260.9 110.4,260.9 111.1,260.6 111.9,259.6 112.7,260.3 113.4,258.7 114.2,259.3 115.0,257.9 115.8,258.3 116.5,258.5 117.3,257.0 118.1,257.5 118.9,257.5 119.6,257.0 120.4,256.4 121.2,256.3 121.9,256.3 122.7,255.3 123.5,255.2 124.2,254.3 125.0,254.4 125.8,253.7 126.5,253.9 127.3,253.2 128.1,253.3 128.8,252.5 129.6,252.4 130.4,252.2 131.1,252.0 131.9,251.6 132.7,249.5 133.5,251.8 134.2,252.5 135.0,253.8 135.8,255.0 136.5,255.8 137.3,253.6 138.1,251.1 138.9,249.9 139.6,250.1 140.4,250.1 141.1,251.5 141.9,250.4 142.7,251.3 143.4,250.1 144.2,251.0 145.0,250.6 145.7,250.4 146.5,249.3 147.3,249.4 148.1,248.6 148.8,249.8 149.6,248.0 150.4,249.3 151.1,249.0 151.9,250.3 152.7,250.2 153.4,250.7 154.2,249.4 155.0,250.4 155.8,250.1 156.5,250.9 157.3,252.0 158.1,250.6 158.9,251.2 159.6,250.8 160.4,249.8 161.2,249.0 161.9,249.5 162.7,251.5 163.5,250.0 163.5,266.7 162.7,266.7 161.9,265.5 161.2,263.7 160.4,265.2 159.6,265.6 158.9,266.7 158.1,267.5 157.3,267.7 156.5,267.0 155.8,266.6 155.0,266.4 154.2,265.7 153.4,266.0 152.7,265.4 151.9,264.6 151.1,264.6 150.4,264.3 149.6,264.9 148.8,263.5 148.1,265.3 147.3,265.0 146.5,265.2 145.7,264.9 145.0,266.2 144.2,265.0 143.4,265.8 142.7,266.3 141.9,265.1 141.1,266.3 140.4,266.1 139.6,265.8 138.9,266.4 138.1,266.4 137.3,268.0 136.5,270.5 135.8,268.4 135.0,267.7 134.2,266.3 133.5,266.6 132.7,264.2 131.9,264.7 131.1,266.0 130.4,266.9 129.6,266.0 128.8,266.3 128.1,268.0 127.3,268.4 126.5,267.3 125.8,267.8 125.0,268.9 124.2,268.4 123.5,269.3 122.7,269.7 121.9,269.8 121.2,270.6 120.4,271.0 119.6,270.6 118.9,270.3 118.1,270.4 117.3,271.2 116.5,271.8 115.8,271.3 115.0,272.0 114.2,272.1 113.4,272.4 112.7,273.2 111.9,274.5 111.1,275.0 110.4,274.2 109.6,274.6 108.8,274.7 108.1,276.1 107.3,277.0 106.5,275.9 105.8,277.1 105.0,277.1 104.2,277.6 103.4,278.4 102.6,278.6 101.8,277.8 101.0,278.9 100.3,278.8 99.5,278.9 98.7,279.9 98.0,279.9 97.2,279.8 96.4,279.6 95.7,280.5 94.9,280.4 94.1,280.3 93.4,280.5 92.6,280.8 91.8,280.7 91.1,281.3 90.3,282.6 89.5,282.3 88.8,283.3 88.0,283.2 87.2,284.1 86.5,283.4 85.7,283.5 84.9,284.8 84.2,284.8 83.4,285.0 82.6,285.4 81.9,286.6 81.1,287.5 80.3,288.3 79.6,288.1 78.8,288.5 78.0,288.6 77.2,289.4 76.5,289.9 75.7,290.5 74.9,290.1 74.2,290.9 73.4,291.9 72.6,292.8 71.8,294.9 71.0,295.5 70.3,297.8 69.5,298.7 68.8,299.9 68.0,300.7 67.2,301.9 66.5,303.7 65.7,304.6 65.0,306.0 64.2,307.3 63.4,307.8 62.6,309.1 61.9,310.0 61.1,310.5 60.3,311.4 59.6,311.5 58.8,312.4 58.0,312.9 57.3,313.5 56.5,313.8 55.7,314.5 55.0,315.0 54.2,315.8 53.4,316.4 52.5,317.2 51.6,318.0 50.8,318.7" fill="#dcdddf"/>
<polygon points="50.8,318.2 51.5,318.0 52.2,317.2 52.9,316.6 53.6,315.7 54.3,315.0 55.0,314.3 55.7,313.5 56.5,313.1 57.2,312.2 58.0,311.6 58.8,311.2 59.5,310.4 60.3,310.0 61.1,309.5 61.8,309.2 62.6,308.3 63.4,308.1 64.1,307.2 64.9,307.2 65.7,306.7 66.4,306.7 67.2,306.4 68.0,306.7 68.7,306.2 69.5,306.2 70.3,306.1 71.1,305.8 71.8,305.5 72.6,305.1 73.4,305.1 74.2,304.7 75.0,304.8 75.7,305.3 76.5,305.3 77.3,305.5 78.0,306.2 78.8,306.4 79.6,306.2 80.3,306.4 81.1,307.1 81.9,307.4 82.6,307.3 83.4,307.5 84.2,307.5 84.9,308.1 85.7,308.4 86.5,308.3 87.2,308.9 88.0,308.7 88.7,309.2 89.5,309.3 90.3,309.1 91.1,309.3 91.8,309.5 92.6,309.6 93.4,310.3 94.2,310.3 95.0,310.6 95.7,310.2 96.5,310.4 97.2,310.3 98.0,310.8 98.8,310.7 99.5,310.7 100.3,310.9 101.0,311.0 101.7,310.8 102.4,310.8 103.1,311.2 103.8,310.7 104.5,310.9 105.2,311.0 105.9,311.2 106.6,311.1 107.3,311.2 108.0,311.5 108.7,311.1 109.4,311.0 110.1,311.1 110.9,311.0 111.6,310.9 112.3,311.3 113.0,311.4 113.7,311.2 114.4,311.1 115.1,311.3 115.9,311.1 116.6,311.2 117.3,311.1 118.0,311.5 118.7,311.4 119.4,311.0 120.1,311.2 120.9,311.3 121.6,311.2 122.3,311.3 123.0,310.9 123.7,311.5 124.4,311.0 125.1,311.0 125.9,311.4 126.6,310.9 127.3,311.4 128.0,310.8 128.7,310.9 129.4,310.9 130.1,311.1 130.9,311.1 131.6,311.1 132.3,311.3 133.0,311.3 133.7,311.4 134.4,311.2 135.1,311.3 135.9,311.4 136.6,311.2 137.3,311.1 138.0,311.7 138.7,311.1 139.4,311.2 140.1,311.3 140.9,311.5 141.6,311.4 142.3,311.3 143.0,311.5 143.7,311.6 144.4,311.3 145.1,311.5 145.9,311.6 146.6,311.3 147.3,311.3 148.0,311.3 148.7,311.1 149.4,311.0 150.1,311.7 150.9,311.4 151.6,311.4 152.3,311.5 153.0,311.8 153.7,311.8 154.4,311.4 155.1,312.0 155.9,311.8 156.6,311.9 157.3,312.0 158.0,312.2 158.8,311.9 159.6,311.9 160.4,312.1 161.1,311.8 161.9,311.7 162.7,311.9 163.5,311.9 163.5,315.1 162.7,315.2 161.9,315.4 161.1,315.1 160.4,315.0 159.6,314.9 158.8,315.3 158.0,315.3 157.3,314.9 156.6,315.0 155.9,315.2 155.1,314.8 154.4,314.9 153.7,314.6 153.0,314.5 152.3,314.7 151.6,314.8 150.9,314.6 150.1,314.7 149.4,314.4 148.7,314.7 148.0,314.2 147.3,314.3 146.6,314.3 145.9,314.5 145.1,314.4 144.4,314.7 143.7,314.2 143.0,314.4 142.3,314.6 141.6,314.4 140.9,314.3 140.1,314.3 139.4,314.5 138.7,314.6 138.0,314.5 137.3,314.5 136.6,314.5 135.9,314.3 135.1,314.7 134.4,314.6 133.7,314.5 133.0,314.2 132.3,314.2 131.6,314.2 130.9,314.1 130.1,314.2 129.4,314.0 128.7,314.2 128.0,314.1 127.3,314.6 126.6,314.1 125.9,314.4 125.1,314.2 124.4,314.6 123.7,314.7 123.0,314.7 122.3,314.4 121.6,314.5 120.9,314.2 120.1,314.4 119.4,314.6 118.7,314.4 118.0,314.4 117.3,314.5 116.6,314.5 115.9,314.6 115.1,314.3 114.4,314.6 113.7,314.7 113.0,314.2 112.3,314.2 111.6,314.6 110.9,314.4 110.1,314.5 109.4,314.2 108.7,314.2 108.0,314.7 107.3,314.2 106.6,314.2 105.9,314.4 105.2,314.5 104.5,314.2 103.8,313.9 103.1,313.9 102.4,313.8 101.7,314.0 101.0,313.7 100.3,313.8 99.5,313.7 98.8,314.1 98.0,313.9 97.2,313.8 96.5,313.3 95.7,313.5 95.0,313.8 94.2,313.5 93.4,312.9 92.6,313.3 91.8,312.7 91.1,313.0 90.3,312.3 89.5,312.6 88.7,312.0 88.0,312.0 87.2,311.9 86.5,311.4 85.7,311.4 84.9,310.9 84.2,310.9 83.4,311.1 82.6,310.6 81.9,310.2 81.1,310.2 80.3,309.6 79.6,309.7 78.8,309.4 78.0,308.9 77.3,308.8 76.5,308.8 75.7,308.5 75.0,308.1 74.2,307.9 73.4,308.0 72.6,308.3 71.8,309.0 71.1,309.0 70.3,309.3 69.5,309.2 68.7,309.4 68.0,309.4 67.2,309.6 66.4,309.7 65.7,310.2 64.9,309.9 64.1,310.4 63.4,311.2 62.6,311.8 61.8,312.0 61.1,312.5 60.3,313.0 59.5,314.0 58.8,314.5 58.0,314.8 57.2,315.8 56.5,316.5 55.7,317.0 55.0,317.7 54.3,318.5 53.6,318.9 52.9,319.6 52.2,320.1 51.5,321.0 50.8,321.5" fill="#dcdddf"/>
<path d="M50.80,319.98 L51.41,319.51 L52.02,318.96 L52.64,318.47 L53.25,317.82 L53.86,317.28 L54.48,316.58 L55.09,315.94 L55.70,315.32 L56.36,314.83 L57.01,314.32 L57.67,313.74 L58.33,313.12 L58.99,312.57 L59.64,311.99 L60.30,311.34 L60.96,311.03 L61.61,310.77 L62.27,310.40 L62.93,309.97 L63.59,309.48 L64.24,309.02 L64.90,308.53 L65.56,308.33 L66.21,308.11 L66.87,308.09 L67.53,308.05 L68.19,307.94 L68.84,307.82 L69.50,307.86 L70.17,307.62 L70.84,307.33 L71.51,307.19 L72.19,307.13 L72.86,306.97 L73.53,306.90 L74.20,306.67 L74.86,306.73 L75.51,306.87 L76.17,306.91 L76.83,307.08 L77.49,307.38 L78.14,307.65 L78.80,307.88 L79.46,308.18 L80.11,308.42 L80.77,308.58 L81.43,308.69 L82.09,308.82 L82.74,309.08 L83.40,309.23 L84.01,309.37 L84.62,309.52 L85.23,309.61 L85.84,309.62 L86.45,309.80 L87.06,309.96 L87.67,310.18 L88.28,310.49 L88.89,310.69 L89.50,310.84 L90.17,310.99 L90.84,311.12 L91.51,311.16 L92.19,311.33 L92.86,311.37 L93.53,311.57 L94.20,311.74 L94.81,311.74 L95.42,311.88 L96.03,312.09 L96.64,312.07 L97.25,312.08 L97.86,312.25 L98.47,312.22 L99.08,312.19 L99.69,312.33 L100.30,312.46 L100.94,312.41 L101.58,312.44 L102.22,312.53 L102.87,312.59 L103.51,312.65 L104.15,312.79 L104.79,312.86 L105.43,312.77 L106.08,312.71 L106.72,312.73 L107.36,312.67 L108.00,312.60 L108.62,312.71 L109.25,312.79 L109.88,312.85 L110.50,312.94 L111.12,313.02 L111.75,312.92 L112.38,312.91 L113.00,312.90 L113.62,312.87 L114.25,312.90 L114.88,312.91 L115.50,312.85 L116.12,312.81 L116.75,312.86 L117.38,312.83 L118.00,312.97 L118.62,313.00 L119.25,312.98 L119.88,312.86 L120.50,312.92 L121.12,312.78 L121.75,312.74 L122.38,312.78 L123.00,312.89 L123.62,312.92 L124.25,312.92 L124.88,313.00 L125.50,312.91 L126.12,312.77 L126.75,312.75 L127.38,312.87 L128.00,312.87 L128.62,312.87 L129.25,312.90 L129.88,312.92 L130.50,312.90 L131.12,312.91 L131.75,313.00 L132.38,313.15 L133.00,313.13 L133.62,313.17 L134.25,313.19 L134.88,313.16 L135.50,313.16 L136.12,313.12 L136.75,313.17 L137.38,313.12 L138.00,313.18 L138.62,313.00 L139.25,312.97 L139.88,312.84 L140.50,312.73 L141.12,312.66 L141.75,312.69 L142.38,312.64 L143.00,312.62 L143.62,312.76 L144.25,312.73 L144.88,312.80 L145.50,312.94 L146.12,312.89 L146.75,312.85 L147.38,312.82 L148.00,312.72 L148.62,312.64 L149.25,312.84 L149.88,312.92 L150.50,312.95 L151.12,313.11 L151.75,313.11 L152.38,313.05 L153.00,313.12 L153.62,313.30 L154.25,313.23 L154.88,313.36 L155.50,313.41 L156.12,313.40 L156.75,313.44 L157.38,313.56 L158.00,313.67 L158.61,313.77 L159.22,313.69 L159.83,313.55 L160.44,313.50 L161.06,313.43 L161.67,313.41 L162.28,313.54 L162.89,313.65 L163.50,313.77" fill="none" stroke="#c8102e" stroke-width="1.6" stroke-linejoin="round"/>
<path d="M50.80,317.10 L51.48,316.48 L52.16,315.80 L52.84,315.16 L53.52,314.58 L54.20,314.03 L54.86,313.50 L55.51,313.03 L56.17,312.34 L56.83,311.67 L57.49,311.02 L58.14,310.38 L58.80,309.71 L59.46,309.02 L60.11,308.37 L60.77,307.55 L61.43,306.94 L62.09,306.12 L62.74,305.36 L63.40,304.56 L64.02,303.61 L64.64,302.29 L65.26,301.24 L65.88,300.07 L66.50,298.95 L67.10,297.71 L67.70,296.72 L68.30,295.69 L68.90,294.61 L69.50,293.49 L70.12,292.35 L70.74,291.18 L71.36,289.97 L71.98,288.74 L72.60,287.51 L73.22,286.80 L73.84,285.87 L74.46,285.14 L75.08,284.35 L75.70,283.70 L76.32,283.11 L76.94,282.79 L77.56,282.22 L78.18,281.89 L78.80,281.41 L79.46,281.17 L80.11,280.80 L80.77,280.58 L81.43,280.01 L82.09,279.59 L82.74,278.94 L83.40,278.53 L84.06,278.23 L84.71,278.08 L85.37,277.70 L86.03,277.54 L86.69,277.02 L87.34,276.66 L88.00,276.17 L88.66,275.73 L89.31,275.27 L89.97,275.08 L90.63,274.62 L91.29,274.35 L91.94,274.08 L92.60,273.86 L93.26,273.79 L93.91,273.81 L94.57,273.68 L95.23,273.47 L95.89,273.20 L96.54,272.92 L97.20,272.80 L97.86,272.52 L98.51,272.47 L99.17,272.21 L99.83,272.13 L100.49,271.77 L101.14,271.69 L101.80,271.46 L102.44,271.42 L103.08,271.07 L103.72,270.81 L104.36,270.55 L105.00,270.38 L105.66,269.99 L106.31,269.70 L106.97,269.47 L107.63,269.24 L108.29,268.72 L108.94,268.29 L109.60,268.11 L110.26,267.77 L110.91,267.35 L111.57,267.04 L112.23,266.75 L112.89,266.40 L113.54,266.17 L114.20,265.79 L114.82,265.64 L115.44,265.55 L116.06,265.18 L116.68,264.96 L117.30,264.66 L117.92,264.43 L118.54,264.15 L119.16,263.85 L119.78,263.41 L120.40,263.20 L121.06,262.79 L121.71,262.55 L122.37,262.44 L123.03,262.34 L123.69,262.20 L124.34,262.01 L125.00,261.59 L125.66,261.20 L126.31,260.91 L126.97,260.47 L127.63,260.25 L128.29,260.03 L128.94,259.75 L129.60,259.35 L130.22,259.09 L130.84,258.60 L131.46,258.16 L132.08,257.90 L132.70,257.61 L133.47,258.48 L134.23,259.43 L135.00,260.47 L135.75,261.65 L136.50,262.80 L137.30,260.53 L138.10,258.32 L138.73,258.33 L139.37,258.34 L140.00,258.34 L140.63,258.30 L141.27,258.38 L141.90,258.58 L142.56,258.35 L143.21,258.09 L143.87,257.98 L144.53,257.69 L145.19,257.51 L145.84,257.40 L146.50,257.27 L147.12,257.11 L147.74,256.93 L148.36,256.67 L148.98,256.57 L149.60,256.53 L150.26,256.91 L150.91,257.13 L151.57,257.48 L152.23,257.69 L152.89,257.93 L153.54,257.96 L154.20,258.39 L154.85,258.59 L155.50,258.73 L156.15,258.83 L156.80,259.07 L157.45,259.26 L158.10,259.34 L158.72,258.70 L159.34,258.05 L159.96,257.43 L160.58,256.84 L161.20,256.23 L161.95,257.73 L162.70,259.33 L163.50,257.94" fill="none" stroke="#14508a" stroke-width="1.7" stroke-linejoin="round"/>
<path d="M51.2,229.5 V323.5 H170.7" fill="none" stroke="#231f20" stroke-width="1.1"/>
<path d="M47.800000000000004,323.5 H51.2" stroke="#231f20" stroke-width="1"/>
<text x="41.11" y="326.30" font-size="7.9" fill="#231f20" class="k">0</text>
<path d="M47.800000000000004,305.6 H51.2" stroke="#231f20" stroke-width="1"/>
<text x="32.33" y="308.40" font-size="7.9" fill="#231f20" class="k">500</text>
<path d="M47.800000000000004,287.8 H51.2" stroke="#231f20" stroke-width="1"/>
<text x="25.74" y="290.60" font-size="7.9" fill="#231f20" class="k">1,000</text>
<path d="M47.800000000000004,270.0 H51.2" stroke="#231f20" stroke-width="1"/>
<text x="25.74" y="272.80" font-size="7.9" fill="#231f20" class="k">1,500</text>
<path d="M47.800000000000004,252.1 H51.2" stroke="#231f20" stroke-width="1"/>
<text x="25.74" y="254.90" font-size="7.9" fill="#231f20" class="k">2,000</text>
<path d="M47.800000000000004,234.3 H51.2" stroke="#231f20" stroke-width="1"/>
<text x="25.74" y="237.10" font-size="7.9" fill="#231f20" class="k">2,500</text>
<path d="M51.2,323.5 V326.5" stroke="#231f20" stroke-width="1"/>
<text x="49.00" y="335.30" font-size="7.9" fill="#231f20" class="k">0</text>
<path d="M88.3,323.5 V326.5" stroke="#231f20" stroke-width="1"/>
<text x="83.90" y="335.30" font-size="7.9" fill="#231f20" class="k">50</text>
<path d="M125.4,323.5 V326.5" stroke="#231f20" stroke-width="1"/>
<text x="118.66" y="335.30" font-size="7.9" fill="#231f20" class="k">100</text>
<path d="M162.5,323.5 V326.5" stroke="#231f20" stroke-width="1"/>
<text x="155.76" y="335.30" font-size="7.9" fill="#231f20" class="k">150</text>
<text x="107.19" y="246.30" font-size="8.2" fill="#231f20" class="k" textLength="42.97" lengthAdjust="spacingAndGlyphs" >APC Ab1609</text>
<text x="133.47" y="308.10" font-size="8.2" fill="#231f20" class="k" textLength="23.35" lengthAdjust="spacingAndGlyphs" >Vehicle</text>
<text x="94.34" y="348.30" font-size="8.8" fill="#231f20" class="k" textLength="33.91" lengthAdjust="spacingAndGlyphs" >Time (sec)</text>
<text transform="translate(18.80,309.92) rotate(-90)" font-size="8.8" fill="#231f20" class="k" textLength="62.33" lengthAdjust="spacingAndGlyphs">CD41 area (μm<tspan font-size="5.46" dy="-3.34">2</tspan><tspan dy="3.34">)</tspan></text>
<text x="180.19" y="224.80" font-size="10" fill="#000" font-weight="bold" textLength="7.29" lengthAdjust="spacingAndGlyphs" >C</text>
<text x="240.32" y="229.30" font-size="10.4" fill="#231f20" class="k" textLength="90.70" lengthAdjust="spacingAndGlyphs" >P-selectin expression</text>
<polygon points="223.5,317.8 224.2,316.9 224.9,317.6 225.6,316.7 226.3,316.2 227.0,316.7 227.8,316.5 228.7,316.3 229.6,317.4 230.4,317.6 231.2,316.1 232.1,315.5 233.0,315.1 233.8,314.7 234.6,314.0 235.5,312.9 236.3,313.3 237.2,311.6 238.0,310.3 238.7,310.3 239.5,310.5 240.2,310.9 240.9,308.6 241.6,308.9 242.4,309.8 243.1,307.5 243.8,308.8 244.5,306.9 245.2,306.9 245.9,306.1 246.6,306.4 247.3,304.8 248.0,306.8 248.7,305.2 249.5,305.9 250.2,305.9 250.9,305.6 251.7,304.7 252.4,303.6 253.1,303.7 253.9,302.5 254.6,303.1 255.3,303.1 256.1,300.1 256.8,301.8 257.5,299.5 258.3,298.7 259.0,297.6 259.8,298.1 260.6,298.2 261.4,298.7 262.2,298.5 263.0,297.5 263.8,296.2 264.6,295.7 265.4,293.1 266.2,293.9 267.0,290.1 267.8,289.8 268.5,290.6 269.3,288.2 270.0,286.9 270.8,287.9 271.6,286.9 272.5,288.6 273.3,284.1 274.2,282.8 275.0,285.4 275.7,285.6 276.4,284.1 277.1,284.7 277.9,284.1 278.6,280.4 279.3,281.1 280.0,281.6 280.8,281.1 281.6,279.6 282.4,280.5 283.2,277.4 284.0,276.8 284.7,280.5 285.5,276.6 286.2,279.4 287.0,278.7 287.7,277.5 288.5,277.3 289.2,276.1 289.9,277.8 290.6,275.1 291.3,274.5 292.0,271.8 292.8,272.1 293.7,271.2 294.5,270.8 295.4,271.2 296.2,269.4 297.0,268.4 297.7,271.8 298.5,269.1 299.2,271.0 300.0,269.2 300.8,268.9 301.5,268.4 302.3,267.3 303.1,268.8 303.9,269.8 304.6,266.5 305.4,267.4 306.2,267.4 306.9,264.0 307.7,267.9 308.5,262.0 309.2,264.8 310.0,264.9 310.8,263.0 311.5,262.9 312.3,258.5 313.1,262.3 313.8,258.6 314.6,261.7 315.3,260.4 316.1,256.8 316.8,259.0 317.5,261.0 318.3,258.5 319.0,258.7 319.8,254.1 320.6,256.2 321.4,255.6 322.2,252.3 323.0,253.2 323.8,252.6 324.6,254.1 325.4,250.3 326.2,252.1 327.0,253.9 327.8,252.0 328.5,251.5 329.3,248.4 330.0,249.7 330.8,251.1 331.6,245.2 332.4,248.4 333.3,247.9 334.1,251.5 334.9,244.7 334.9,273.9 334.1,271.7 333.3,270.5 332.4,271.5 331.6,269.9 330.8,270.7 330.0,269.4 329.3,270.2 328.5,272.5 327.8,275.3 327.0,276.7 326.2,271.9 325.4,273.9 324.6,278.5 323.8,273.9 323.0,277.4 322.2,279.8 321.4,276.1 320.6,276.1 319.8,277.9 319.0,276.1 318.3,276.9 317.5,281.2 316.8,276.6 316.1,282.5 315.3,282.0 314.6,277.8 313.8,283.1 313.1,279.7 312.3,280.4 311.5,284.3 310.8,281.2 310.0,284.3 309.2,281.5 308.5,282.7 307.7,286.2 306.9,287.7 306.2,284.1 305.4,288.5 304.6,284.7 303.9,284.8 303.1,284.4 302.3,288.9 301.5,289.0 300.8,285.9 300.0,286.2 299.2,286.5 298.5,289.3 297.7,285.5 297.0,286.3 296.2,289.5 295.4,287.1 294.5,289.1 293.7,288.7 292.8,286.7 292.0,290.4 291.3,288.3 290.6,290.6 289.9,288.8 289.2,292.9 288.5,293.0 287.7,290.4 287.0,292.7 286.2,294.9 285.5,292.6 284.7,292.1 284.0,293.4 283.2,296.4 282.4,294.1 281.6,295.2 280.8,294.0 280.0,294.4 279.3,295.2 278.6,296.9 277.9,298.9 277.1,298.8 276.4,300.3 275.7,300.2 275.0,300.0 274.2,300.9 273.3,301.1 272.5,300.5 271.6,302.0 270.8,300.7 270.0,305.0 269.3,304.8 268.5,306.2 267.8,306.0 267.0,306.4 266.2,304.3 265.4,308.4 264.6,306.4 263.8,309.4 263.0,309.9 262.2,309.9 261.4,309.8 260.6,308.4 259.8,310.9 259.0,311.3 258.3,310.2 257.5,311.8 256.8,311.8 256.1,313.5 255.3,314.1 254.6,312.0 253.9,314.8 253.1,312.9 252.4,313.0 251.7,313.3 250.9,314.4 250.2,316.0 249.5,314.9 248.7,315.7 248.0,315.3 247.3,315.6 246.6,316.3 245.9,315.4 245.2,315.0 244.5,317.6 243.8,317.2 243.1,316.3 242.4,317.3 241.6,318.6 240.9,316.6 240.2,318.5 239.5,319.1 238.7,319.0 238.0,319.4 237.2,318.1 236.3,319.7 235.5,320.1 234.6,320.3 233.8,320.5 233.0,321.8 232.1,321.5 231.2,321.7 230.4,322.3 229.6,322.6 228.7,321.5 227.8,322.0 227.0,320.8 226.3,321.3 225.6,321.6 224.9,322.0 224.2,321.6 223.5,321.6" fill="#dcdddf"/>
<path d="M223.10,323.29 L223.73,323.21 L224.35,323.19 L224.98,323.15 L225.61,323.08 L226.23,323.02 L226.86,323.00 L227.48,322.89 L228.11,322.84 L228.74,322.81 L229.36,322.73 L229.99,322.72 L230.62,322.74 L231.24,322.69 L231.87,322.70 L232.49,322.75 L233.12,322.67 L233.75,322.62 L234.37,322.64 L235.00,322.55 L235.62,322.43 L236.25,322.36 L236.88,322.27 L237.50,322.16 L238.12,322.14 L238.75,322.11 L239.38,322.03 L240.00,321.94 L240.62,321.89 L241.25,321.81 L241.88,321.67 L242.50,321.60 L243.12,321.52 L243.75,321.42 L244.38,321.29 L245.00,321.19 L245.62,321.09 L246.25,320.99 L246.88,320.89 L247.50,320.82 L248.12,320.76 L248.75,320.75 L249.38,320.75 L250.00,320.66 L250.62,320.64 L251.25,320.58 L251.88,320.40 L252.50,320.29 L253.12,320.18 L253.75,320.04 L254.38,320.01 L255.00,319.98 L255.61,319.96 L256.22,319.92 L256.83,319.85 L257.44,319.69 L258.06,319.58 L258.67,319.48 L259.28,319.42 L259.89,319.40 L260.50,319.35 L261.11,319.34 L261.72,319.27 L262.33,319.14 L262.94,319.04 L263.56,318.92 L264.17,318.79 L264.78,318.63 L265.39,318.61 L266.00,318.47 L266.61,318.41 L267.22,318.38 L267.83,318.37 L268.44,318.33 L269.06,318.35 L269.67,318.35 L270.28,318.29 L270.89,318.18 L271.50,318.08 L272.11,317.97 L272.72,317.87 L273.33,317.76 L273.94,317.72 L274.56,317.66 L275.17,317.53 L275.78,317.44 L276.39,317.41 L277.00,317.38 L277.61,317.29 L278.22,317.24 L278.83,317.18 L279.44,317.13 L280.06,317.03 L280.67,317.05 L281.28,317.03 L281.89,316.96 L282.50,316.88 L283.11,316.79 L283.72,316.69 L284.33,316.69 L284.94,316.69 L285.56,316.64 L286.17,316.61 L286.78,316.48 L287.39,316.34 L288.00,316.29 L288.60,316.25 L289.20,316.22 L289.80,316.20 L290.40,316.18 L291.00,316.14 L291.60,316.03 L292.20,316.02 L292.80,315.97 L293.40,315.95 L294.00,315.83 L294.60,315.87 L295.20,315.76 L295.80,315.78 L296.40,315.66 L297.00,315.69 L297.60,315.67 L298.20,315.63 L298.80,315.62 L299.40,315.59 L300.00,315.48 L300.60,315.42 L301.20,315.39 L301.80,315.35 L302.40,315.32 L303.00,315.30 L303.60,315.24 L304.20,315.24 L304.80,315.17 L305.40,315.15 L306.00,315.12 L306.60,315.10 L307.20,315.03 L307.80,315.04 L308.40,315.00 L309.00,315.02 L309.60,314.99 L310.20,314.96 L310.80,314.88 L311.40,314.91 L312.00,314.91 L312.61,314.87 L313.22,314.91 L313.83,314.89 L314.44,314.86 L315.06,314.85 L315.67,314.83 L316.28,314.79 L316.89,314.86 L317.50,314.82 L318.11,314.79 L318.72,314.76 L319.33,314.71 L319.94,314.68 L320.56,314.72 L321.17,314.64 L321.78,314.66 L322.39,314.64 L323.00,314.56 L323.63,314.48 L324.25,314.52 L324.88,314.51 L325.51,314.55 L326.13,314.57 L326.76,314.58 L327.38,314.53 L328.01,314.47 L328.64,314.41 L329.26,314.37 L329.89,314.30 L330.52,314.25 L331.14,314.30 L331.77,314.33 L332.39,314.38 L333.02,314.39 L333.65,314.37 L334.27,314.32 L334.90,314.25" fill="none" stroke="#c8102e" stroke-width="1.7" stroke-linejoin="round"/>
<path d="M223.50,319.42 L224.20,319.52 L224.90,319.58 L225.60,319.64 L226.30,319.36 L227.00,319.11 L227.85,319.41 L228.70,319.87 L229.55,320.28 L230.40,320.68 L231.25,319.83 L232.10,319.12 L232.95,318.25 L233.80,317.48 L234.64,317.01 L235.48,316.49 L236.32,316.14 L237.16,315.48 L238.00,315.21 L238.73,314.84 L239.46,314.49 L240.19,314.05 L240.91,313.57 L241.64,313.20 L242.37,312.67 L243.10,312.40 L243.80,312.39 L244.50,312.11 L245.20,311.84 L245.90,311.34 L246.60,311.00 L247.30,310.74 L248.00,310.38 L248.73,310.01 L249.47,309.75 L250.20,309.59 L250.93,309.27 L251.67,308.80 L252.40,308.30 L253.13,308.22 L253.87,307.83 L254.60,307.67 L255.33,306.97 L256.07,306.80 L256.80,306.35 L257.53,306.08 L258.27,305.61 L259.00,305.23 L259.80,304.74 L260.60,303.92 L261.40,303.41 L262.20,303.01 L263.00,302.99 L263.80,302.27 L264.60,301.55 L265.40,300.59 L266.20,299.68 L267.00,298.38 L267.76,297.61 L268.52,297.04 L269.28,296.57 L270.04,295.89 L270.80,295.34 L271.64,294.31 L272.48,293.35 L273.32,292.86 L274.16,292.56 L275.00,291.66 L275.71,291.14 L276.43,290.77 L277.14,290.74 L277.86,290.53 L278.57,289.88 L279.29,289.34 L280.00,288.47 L280.80,288.06 L281.60,287.82 L282.40,287.92 L283.20,287.16 L284.00,286.47 L284.74,286.00 L285.49,286.09 L286.23,285.69 L286.97,285.01 L287.71,284.05 L288.46,283.51 L289.20,282.62 L289.90,282.65 L290.60,281.94 L291.30,281.56 L292.00,280.36 L292.84,280.54 L293.68,279.90 L294.52,279.23 L295.36,278.36 L296.20,278.48 L296.96,278.57 L297.72,278.24 L298.48,277.73 L299.24,277.40 L300.00,277.79 L300.77,278.04 L301.54,277.65 L302.31,277.59 L303.09,276.85 L303.86,277.06 L304.63,276.51 L305.40,276.28 L306.17,275.35 L306.93,275.00 L307.70,274.99 L308.47,274.99 L309.23,274.56 L310.00,274.10 L310.77,273.13 L311.53,272.33 L312.30,271.61 L313.07,271.04 L313.83,270.64 L314.60,270.38 L315.33,270.40 L316.07,270.08 L316.80,269.15 L317.53,269.06 L318.27,268.29 L319.00,267.98 L319.80,267.28 L320.60,267.11 L321.40,266.84 L322.20,266.66 L323.00,266.36 L323.80,265.99 L324.60,265.19 L325.40,264.00 L326.20,263.02 L327.00,262.26 L327.76,261.70 L328.52,260.97 L329.28,260.37 L330.04,260.25 L330.80,259.95 L331.62,260.14 L332.44,260.37 L333.26,260.74 L334.08,260.71 L334.90,260.77" fill="none" stroke="#14508a" stroke-width="1.3" stroke-linejoin="round"/>
<g fill="#14508a"><circle cx="223.5" cy="319.4" r="0.8"/><circle cx="224.9" cy="319.6" r="0.8"/><circle cx="226.3" cy="319.4" r="0.8"/><circle cx="227.8" cy="319.4" r="0.8"/><circle cx="229.6" cy="320.3" r="0.8"/><circle cx="231.2" cy="319.8" r="0.8"/><circle cx="233.0" cy="318.2" r="0.8"/><circle cx="234.6" cy="317.0" r="0.8"/><circle cx="236.3" cy="316.1" r="0.8"/><circle cx="238.0" cy="315.2" r="0.8"/><circle cx="239.5" cy="314.5" r="0.8"/><circle cx="240.9" cy="313.6" r="0.8"/><circle cx="242.4" cy="312.7" r="0.8"/><circle cx="243.8" cy="312.4" r="0.8"/><circle cx="245.2" cy="311.8" r="0.8"/><circle cx="246.6" cy="311.0" r="0.8"/><circle cx="248.0" cy="310.4" r="0.8"/><circle cx="249.5" cy="309.7" r="0.8"/><circle cx="250.9" cy="309.3" r="0.8"/><circle cx="252.4" cy="308.3" r="0.8"/><circle cx="253.9" cy="307.8" r="0.8"/><circle cx="255.3" cy="307.0" r="0.8"/><circle cx="256.8" cy="306.3" r="0.8"/><circle cx="258.3" cy="305.6" r="0.8"/><circle cx="259.8" cy="304.7" r="0.8"/><circle cx="261.4" cy="303.4" r="0.8"/><circle cx="263.0" cy="303.0" r="0.8"/><circle cx="264.6" cy="301.6" r="0.8"/><circle cx="266.2" cy="299.7" r="0.8"/><circle cx="267.8" cy="297.6" r="0.8"/><circle cx="269.3" cy="296.6" r="0.8"/><circle cx="270.8" cy="295.3" r="0.8"/><circle cx="272.5" cy="293.4" r="0.8"/><circle cx="274.2" cy="292.6" r="0.8"/><circle cx="275.7" cy="291.1" r="0.8"/><circle cx="277.1" cy="290.7" r="0.8"/><circle cx="278.6" cy="289.9" r="0.8"/><circle cx="280.0" cy="288.5" r="0.8"/><circle cx="281.6" cy="287.8" r="0.8"/><circle cx="283.2" cy="287.2" r="0.8"/><circle cx="284.7" cy="286.0" r="0.8"/><circle cx="286.2" cy="285.7" r="0.8"/><circle cx="287.7" cy="284.0" r="0.8"/><circle cx="289.2" cy="282.6" r="0.8"/><circle cx="290.6" cy="281.9" r="0.8"/><circle cx="292.0" cy="280.4" r="0.8"/><circle cx="293.7" cy="279.9" r="0.8"/><circle cx="295.4" cy="278.4" r="0.8"/><circle cx="297.0" cy="278.6" r="0.8"/><circle cx="298.5" cy="277.7" r="0.8"/><circle cx="300.0" cy="277.8" r="0.8"/><circle cx="301.5" cy="277.6" r="0.8"/><circle cx="303.1" cy="276.9" r="0.8"/><circle cx="304.6" cy="276.5" r="0.8"/><circle cx="306.2" cy="275.3" r="0.8"/><circle cx="307.7" cy="275.0" r="0.8"/><circle cx="309.2" cy="274.6" r="0.8"/><circle cx="310.8" cy="273.1" r="0.8"/><circle cx="312.3" cy="271.6" r="0.8"/><circle cx="313.8" cy="270.6" r="0.8"/><circle cx="315.3" cy="270.4" r="0.8"/><circle cx="316.8" cy="269.1" r="0.8"/><circle cx="318.3" cy="268.3" r="0.8"/><circle cx="319.8" cy="267.3" r="0.8"/><circle cx="321.4" cy="266.8" r="0.8"/><circle cx="323.0" cy="266.4" r="0.8"/><circle cx="324.6" cy="265.2" r="0.8"/><circle cx="326.2" cy="263.0" r="0.8"/><circle cx="327.8" cy="261.7" r="0.8"/><circle cx="329.3" cy="260.4" r="0.8"/><circle cx="330.8" cy="260.0" r="0.8"/><circle cx="332.4" cy="260.4" r="0.8"/><circle cx="334.1" cy="260.7" r="0.8"/></g>
<path d="M223.3,229.5 V323.5 H342.0" fill="none" stroke="#231f20" stroke-width="1.1"/>
<path d="M219.9,323.5 H223.3" stroke="#231f20" stroke-width="1"/>
<text x="213.21" y="326.30" font-size="7.9" fill="#231f20" class="k">0</text>
<path d="M219.9,293.8 H223.3" stroke="#231f20" stroke-width="1"/>
<text x="204.43" y="296.60" font-size="7.9" fill="#231f20" class="k">500</text>
<path d="M219.9,264.0 H223.3" stroke="#231f20" stroke-width="1"/>
<text x="197.84" y="266.80" font-size="7.9" fill="#231f20" class="k">1,000</text>
<path d="M219.9,234.3 H223.3" stroke="#231f20" stroke-width="1"/>
<text x="197.84" y="237.10" font-size="7.9" fill="#231f20" class="k">1,500</text>
<path d="M223.2,323.5 V326.5" stroke="#231f20" stroke-width="1"/>
<text x="221.00" y="335.30" font-size="7.9" fill="#231f20" class="k">0</text>
<path d="M260.1,323.5 V326.5" stroke="#231f20" stroke-width="1"/>
<text x="255.70" y="335.30" font-size="7.9" fill="#231f20" class="k">50</text>
<path d="M297.0,323.5 V326.5" stroke="#231f20" stroke-width="1"/>
<text x="290.26" y="335.30" font-size="7.9" fill="#231f20" class="k">100</text>
<path d="M334.0,323.5 V326.5" stroke="#231f20" stroke-width="1"/>
<text x="327.26" y="335.30" font-size="7.9" fill="#231f20" class="k">150</text>
<text x="273.49" y="255.00" font-size="8.2" fill="#231f20" class="k" textLength="42.66" lengthAdjust="spacingAndGlyphs" >APC Ab1609</text>
<text x="304.97" y="311.00" font-size="8.2" fill="#231f20" class="k" textLength="23.86" lengthAdjust="spacingAndGlyphs" >Vehicle</text>
<text x="266.34" y="348.30" font-size="8.8" fill="#231f20" class="k" textLength="33.91" lengthAdjust="spacingAndGlyphs" >Time (sec)</text>
<text transform="translate(193.00,312.73) rotate(-90)" font-size="8.8" fill="#231f20" class="k" textLength="72.41" lengthAdjust="spacingAndGlyphs">P-selectin area (μm<tspan font-size="5.46" dy="-3.34">2</tspan><tspan dy="3.34">)</tspan></text>
<text x="353.04" y="224.40" font-size="10" fill="#000" font-weight="bold" textLength="9.30" lengthAdjust="spacingAndGlyphs" >D</text>
<text x="422.98" y="229.30" font-size="10.4" fill="#231f20" class="k" textLength="69.47" lengthAdjust="spacingAndGlyphs" >Fibrin formation</text>
<polygon points="395.5,300.4 396.2,303.6 396.9,302.5 397.6,301.7 398.3,300.0 399.0,302.8 399.9,299.2 400.7,302.6 401.5,304.1 402.4,303.8 403.3,302.8 404.1,304.6 405.0,303.5 405.8,300.0 406.6,302.1 407.4,301.0 408.2,301.2 408.9,301.1 409.6,295.7 410.3,298.8 411.0,297.1 411.8,291.4 412.6,293.0 413.4,289.0 414.2,288.0 415.0,289.7 415.8,286.9 416.6,287.7 417.4,286.3 418.2,283.9 419.0,288.8 419.8,286.3 420.5,281.8 421.3,286.9 422.0,285.6 422.8,280.6 423.5,280.7 424.3,282.0 425.0,283.3 425.8,278.4 426.5,279.3 427.3,278.3 428.0,280.2 428.7,280.6 429.5,281.7 430.2,285.1 430.9,282.2 431.7,282.3 432.4,278.2 433.1,284.7 433.8,281.3 434.6,283.1 435.3,276.0 436.0,280.7 436.8,275.4 437.5,278.4 438.2,274.9 439.0,275.2 439.8,270.1 440.5,274.2 441.3,264.5 442.0,269.0 442.8,260.7 443.5,268.7 444.3,263.3 445.0,265.4 445.8,267.3 446.6,267.9 447.4,270.4 448.3,270.5 449.1,263.1 450.0,267.1 450.7,269.7 451.4,260.3 452.1,259.3 452.9,260.1 453.6,262.3 454.3,256.7 455.0,261.0 455.8,258.2 456.5,260.1 457.3,259.5 458.0,255.6 458.8,257.2 459.6,254.7 460.4,256.9 461.2,256.6 462.0,256.0 462.8,258.8 463.5,256.8 464.3,257.1 465.0,256.3 465.8,258.0 466.6,257.6 467.5,254.9 468.3,253.6 469.2,252.7 470.0,256.8 470.7,249.1 471.4,253.0 472.1,253.8 472.9,258.4 473.6,252.1 474.3,254.6 475.0,254.7 475.8,258.0 476.6,249.4 477.4,251.0 478.2,254.5 479.0,256.1 479.8,243.7 480.5,248.9 481.3,248.7 482.0,243.1 482.8,248.1 483.5,248.0 484.3,247.1 485.0,250.2 485.8,248.2 486.5,243.6 487.3,240.5 488.0,252.1 488.8,240.2 489.6,252.3 490.4,249.6 491.2,248.3 492.0,243.8 492.8,244.2 493.5,250.4 494.3,251.0 495.0,249.4 495.8,242.1 496.6,239.7 497.5,238.1 498.3,240.8 499.2,246.2 500.0,242.0 500.8,243.3 501.5,245.1 502.2,241.3 503.0,235.9 503.8,239.1 504.6,237.3 505.4,247.4 506.2,236.6 506.2,275.4 505.4,273.3 504.6,280.2 503.8,280.0 503.0,274.8 502.2,284.0 501.5,275.3 500.8,278.3 500.0,273.8 499.2,274.2 498.3,279.1 497.5,278.1 496.6,275.8 495.8,275.5 495.0,278.6 494.3,280.6 493.5,282.8 492.8,278.6 492.0,282.7 491.2,273.8 490.4,285.6 489.6,282.4 488.8,285.4 488.0,286.5 487.3,286.6 486.5,285.3 485.8,274.2 485.0,283.4 484.3,282.3 483.5,277.8 482.8,286.1 482.0,282.1 481.3,285.5 480.5,280.6 479.8,278.5 479.0,283.6 478.2,277.3 477.4,288.6 476.6,283.5 475.8,282.8 475.0,292.2 474.3,290.1 473.6,290.8 472.9,287.5 472.1,282.4 471.4,284.2 470.7,282.1 470.0,279.0 469.2,286.1 468.3,280.5 467.5,285.4 466.6,280.5 465.8,284.3 465.0,283.8 464.3,286.4 463.5,285.6 462.8,279.7 462.0,281.8 461.2,287.3 460.4,283.0 459.6,285.5 458.8,288.7 458.0,289.3 457.3,282.1 456.5,287.1 455.8,293.0 455.0,287.0 454.3,290.6 453.6,288.5 452.9,294.9 452.1,289.8 451.4,292.1 450.7,294.3 450.0,294.9 449.1,290.1 448.3,292.9 447.4,293.4 446.6,291.9 445.8,296.5 445.0,290.5 444.3,289.3 443.5,286.6 442.8,283.2 442.0,288.0 441.3,295.6 440.5,291.2 439.8,292.4 439.0,295.7 438.2,302.0 437.5,299.2 436.8,297.0 436.0,299.6 435.3,302.5 434.6,303.9 433.8,306.6 433.1,306.5 432.4,304.3 431.7,301.9 430.9,305.9 430.2,303.3 429.5,305.2 428.7,306.7 428.0,301.1 427.3,304.5 426.5,304.0 425.8,303.9 425.0,299.6 424.3,302.8 423.5,300.1 422.8,298.4 422.0,305.6 421.3,300.7 420.5,303.3 419.8,301.2 419.0,306.4 418.2,304.9 417.4,305.6 416.6,304.0 415.8,305.7 415.0,307.4 414.2,304.1 413.4,308.0 412.6,310.0 411.8,309.3 411.0,308.0 410.3,313.0 409.6,310.8 408.9,315.2 408.2,311.8 407.4,312.2 406.6,315.2 405.8,316.1 405.0,313.5 404.1,315.1 403.3,316.9 402.4,315.0 401.5,314.0 400.7,315.5 399.9,313.1 399.0,313.0 398.3,313.4 397.6,311.8 396.9,314.2 396.2,312.1 395.5,312.5" fill="#dcdddf"/>
<polygon points="395.1,320.4 395.8,319.8 396.6,319.7 397.3,318.9 398.0,317.8 398.8,317.6 399.6,317.0 400.4,317.1 401.1,316.0 401.9,316.2 402.7,315.6 403.5,315.1 404.3,314.7 405.1,314.8 405.9,314.6 406.6,314.4 407.4,313.9 408.2,314.3 409.0,313.8 409.8,313.6 410.5,313.6 411.2,313.4 412.0,313.3 412.8,313.4 413.5,312.8 414.2,312.9 415.0,312.5 415.7,312.3 416.4,312.9 417.1,312.4 417.9,312.7 418.6,312.1 419.3,312.6 420.0,312.7 420.7,312.0 421.4,312.0 422.1,311.9 422.9,312.0 423.6,312.4 424.3,312.1 425.0,312.3 425.7,311.4 426.4,311.4 427.2,311.7 427.9,311.6 428.6,311.7 429.3,311.9 430.1,312.0 430.8,311.8 431.5,311.7 432.2,311.9 432.9,311.9 433.7,311.2 434.4,311.4 435.1,311.0 435.8,311.1 436.6,310.9 437.3,311.3 438.0,310.7 438.7,311.2 439.4,310.7 440.1,311.3 440.8,311.1 441.5,311.3 442.2,310.5 442.9,310.7 443.6,310.5 444.4,310.8 445.1,310.6 445.8,311.0 446.5,310.6 447.2,310.4 447.9,310.5 448.6,310.5 449.3,310.6 450.0,310.3 450.7,310.3 451.5,310.2 452.2,310.1 452.9,310.5 453.7,310.0 454.4,310.5 455.1,310.3 455.9,309.9 456.6,309.6 457.3,309.8 458.1,309.6 458.8,309.9 459.5,309.6 460.3,310.0 461.0,309.3 461.7,310.1 462.5,310.0 463.2,309.8 463.9,309.5 464.7,309.8 465.4,309.3 466.1,309.5 466.9,309.4 467.6,309.3 468.3,309.2 469.1,309.3 469.8,309.4 470.5,309.6 471.3,309.5 472.0,309.1 472.7,309.5 473.4,309.4 474.2,309.7 474.9,309.7 475.6,309.4 476.3,309.1 477.1,309.1 477.8,309.5 478.5,309.5 479.2,309.8 480.0,309.3 480.7,309.6 481.4,309.0 482.1,309.1 482.9,309.5 483.6,309.5 484.3,309.1 485.0,308.9 485.7,308.9 486.4,309.3 487.2,308.9 487.9,309.7 488.6,309.7 489.3,309.1 490.0,309.2 490.7,309.6 491.4,309.5 492.1,309.0 492.9,309.0 493.6,309.0 494.3,309.3 495.0,309.0 495.7,308.9 496.5,309.7 497.2,308.9 497.9,309.7 498.6,309.0 499.4,309.0 500.1,309.2 500.8,309.4 501.6,309.2 502.3,309.2 503.0,309.3 503.8,309.1 504.5,309.7 505.2,309.2 505.9,309.6 506.7,309.5 507.4,309.6 507.4,312.5 506.7,312.2 505.9,312.5 505.2,312.4 504.5,312.1 503.8,312.1 503.0,312.7 502.3,312.6 501.6,312.1 500.8,312.2 500.1,312.6 499.4,312.7 498.6,312.5 497.9,311.9 497.2,312.4 496.5,312.7 495.7,312.2 495.0,312.0 494.3,312.5 493.6,312.5 492.9,312.2 492.1,312.1 491.4,312.5 490.7,312.1 490.0,312.0 489.3,312.2 488.6,312.2 487.9,312.1 487.2,312.6 486.4,312.4 485.7,312.5 485.0,312.1 484.3,312.1 483.6,312.4 482.9,312.7 482.1,312.2 481.4,312.8 480.7,312.3 480.0,312.1 479.2,312.4 478.5,312.5 477.8,312.6 477.1,312.4 476.3,312.8 475.6,312.2 474.9,312.1 474.2,312.1 473.4,312.9 472.7,312.1 472.0,312.8 471.3,312.8 470.5,312.6 469.8,312.7 469.1,312.3 468.3,312.7 467.6,312.4 466.9,312.2 466.1,312.3 465.4,312.2 464.7,312.4 463.9,313.0 463.2,312.8 462.5,312.3 461.7,312.6 461.0,312.4 460.3,312.7 459.5,313.2 458.8,313.0 458.1,312.5 457.3,313.3 456.6,313.1 455.9,312.9 455.1,312.9 454.4,312.9 453.7,313.6 452.9,313.2 452.2,313.6 451.5,313.6 450.7,313.0 450.0,313.6 449.3,313.7 448.6,313.7 447.9,313.4 447.2,313.9 446.5,313.5 445.8,313.7 445.1,313.6 444.4,313.9 443.6,314.1 442.9,314.0 442.2,313.5 441.5,314.1 440.8,314.2 440.1,313.9 439.4,313.9 438.7,313.8 438.0,314.2 437.3,313.7 436.6,313.8 435.8,314.1 435.1,313.9 434.4,313.9 433.7,314.4 432.9,314.1 432.2,314.3 431.5,314.5 430.8,314.6 430.1,314.3 429.3,315.0 428.6,315.0 427.9,314.5 427.2,314.7 426.4,314.4 425.7,314.5 425.0,314.8 424.3,315.3 423.6,314.8 422.9,315.3 422.1,314.8 421.4,315.0 420.7,315.2 420.0,315.1 419.3,315.5 418.6,315.0 417.9,315.4 417.1,315.1 416.4,315.4 415.7,315.8 415.0,316.0 414.2,315.5 413.5,316.2 412.8,316.3 412.0,316.2 411.2,316.2 410.5,316.2 409.8,317.0 409.0,316.5 408.2,316.5 407.4,317.3 406.6,317.2 405.9,317.6 405.1,318.1 404.3,318.2 403.5,318.0 402.7,318.1 401.9,318.9 401.1,319.4 400.4,319.5 399.6,320.3 398.8,320.4 398.0,320.6 397.3,321.6 396.6,321.8 395.8,322.7 395.1,323.1" fill="#dcdddf"/>
<path d="M395.10,321.95 L395.83,321.29 L396.55,320.75 L397.27,320.08 L398.00,319.52 L398.61,319.13 L399.22,318.88 L399.83,318.47 L400.44,318.16 L401.06,317.84 L401.67,317.56 L402.28,317.14 L402.89,316.79 L403.50,316.56 L404.11,316.38 L404.72,316.18 L405.33,316.06 L405.94,315.87 L406.56,315.68 L407.17,315.48 L407.78,315.21 L408.39,315.07 L409.00,314.96 L409.60,314.93 L410.20,314.83 L410.80,314.79 L411.40,314.72 L412.00,314.67 L412.60,314.53 L413.20,314.55 L413.80,314.58 L414.40,314.40 L415.00,314.28 L415.62,314.12 L416.25,314.11 L416.88,313.97 L417.50,314.08 L418.12,313.94 L418.75,313.99 L419.38,313.84 L420.00,313.76 L420.62,313.70 L421.25,313.67 L421.88,313.54 L422.50,313.52 L423.12,313.43 L423.75,313.35 L424.38,313.40 L425.00,313.38 L425.62,313.44 L426.24,313.39 L426.86,313.20 L427.48,313.05 L428.10,313.08 L428.71,313.02 L429.33,313.09 L429.95,313.07 L430.57,313.08 L431.19,313.10 L431.81,313.03 L432.43,313.00 L433.05,312.96 L433.67,313.01 L434.29,312.83 L434.90,312.67 L435.52,312.57 L436.14,312.63 L436.76,312.56 L437.38,312.59 L438.00,312.58 L438.60,312.57 L439.20,312.50 L439.80,312.32 L440.40,312.24 L441.00,312.25 L441.60,312.25 L442.20,312.32 L442.80,312.50 L443.40,312.53 L444.00,312.49 L444.60,312.48 L445.20,312.41 L445.80,312.37 L446.40,312.27 L447.00,312.37 L447.60,312.28 L448.20,312.21 L448.80,312.02 L449.40,312.13 L450.00,311.91 L450.61,311.89 L451.22,311.91 L451.83,312.00 L452.44,311.80 L453.06,311.95 L453.67,311.94 L454.28,311.92 L454.89,311.88 L455.50,312.00 L456.11,311.79 L456.72,311.62 L457.33,311.42 L457.94,311.31 L458.56,311.10 L459.17,311.21 L459.78,311.31 L460.39,311.29 L461.00,311.20 L461.61,311.18 L462.22,311.02 L462.83,310.89 L463.44,310.87 L464.06,310.96 L464.67,310.93 L465.28,310.99 L465.89,311.10 L466.50,311.07 L467.11,311.05 L467.72,311.08 L468.33,311.14 L468.94,311.06 L469.56,311.08 L470.17,311.13 L470.78,311.17 L471.39,311.05 L472.00,310.97 L472.62,310.91 L473.23,310.77 L473.85,310.65 L474.46,310.74 L475.07,310.89 L475.69,311.04 L476.31,311.06 L476.92,311.12 L477.54,310.99 L478.15,310.81 L478.76,310.68 L479.38,310.64 L480.00,310.66 L480.61,310.63 L481.23,310.70 L481.84,310.74 L482.45,310.69 L483.07,310.70 L483.69,310.84 L484.30,310.88 L484.93,310.89 L485.56,310.91 L486.19,310.94 L486.82,310.80 L487.45,310.82 L488.08,310.76 L488.71,310.75 L489.34,310.76 L489.96,310.76 L490.59,310.64 L491.22,310.73 L491.85,310.77 L492.48,310.68 L493.11,310.84 L493.74,310.96 L494.37,311.03 L495.00,311.07 L495.62,311.06 L496.24,310.99 L496.86,310.89 L497.48,310.89 L498.10,310.82 L498.72,310.92 L499.34,310.96 L499.96,310.93 L500.58,310.89 L501.20,310.99 L501.82,310.98 L502.44,310.92 L503.06,310.89 L503.68,310.83 L504.30,310.88 L504.92,310.91 L505.54,310.87 L506.16,310.98 L506.78,311.02 L507.40,310.94" fill="none" stroke="#c8102e" stroke-width="1.7" stroke-linejoin="round"/>
<path d="M395.50,307.30 L399.00,306.50 L402.40,308.50 L405.00,309.00 L408.20,307.30 L411.00,302.00 L413.00,300.00 L415.00,298.00 L417.00,296.75 L419.00,295.50 L421.65,293.35 L424.30,291.20 L428.00,292.50 L430.20,293.00 L432.40,293.50 L436.00,288.00 L438.25,285.50 L440.50,283.00 L442.80,275.00 L445.00,281.00 L447.40,283.00 L450.00,279.00 L452.15,277.00 L454.30,275.00 L458.00,273.00 L460.00,272.00 L462.00,271.00 L465.80,269.20 L467.90,268.85 L470.00,268.50 L472.50,269.45 L475.00,270.40 L477.00,268.20 L479.00,266.00 L481.65,264.75 L484.30,263.50 L488.00,263.00 L490.00,262.75 L492.00,262.50 L495.80,261.20 L497.90,261.60 L500.00,262.00 L503.00,259.00 L506.20,260.00" fill="none" stroke="#14508a" stroke-width="1.0" opacity="0.6"/>
<g fill="#14508a"><circle cx="395.5" cy="305.9" r="0.95"/><circle cx="396.0" cy="307.8" r="0.95"/><circle cx="396.5" cy="307.3" r="0.95"/><circle cx="397.0" cy="306.6" r="0.95"/><circle cx="397.5" cy="306.2" r="0.95"/><circle cx="398.0" cy="305.5" r="0.95"/><circle cx="398.5" cy="305.9" r="0.95"/><circle cx="399.0" cy="306.3" r="0.95"/><circle cx="399.6" cy="306.6" r="0.95"/><circle cx="400.1" cy="306.2" r="0.95"/><circle cx="400.7" cy="308.1" r="0.95"/><circle cx="401.3" cy="306.4" r="0.95"/><circle cx="401.8" cy="307.2" r="0.95"/><circle cx="402.4" cy="307.9" r="0.95"/><circle cx="402.9" cy="307.7" r="0.95"/><circle cx="403.4" cy="309.6" r="0.95"/><circle cx="404.0" cy="310.1" r="0.95"/><circle cx="404.5" cy="308.8" r="0.95"/><circle cx="405.0" cy="308.5" r="0.95"/><circle cx="405.5" cy="309.7" r="0.95"/><circle cx="406.1" cy="309.2" r="0.95"/><circle cx="406.6" cy="308.6" r="0.95"/><circle cx="407.1" cy="309.1" r="0.95"/><circle cx="407.7" cy="306.4" r="0.95"/><circle cx="408.2" cy="307.6" r="0.95"/><circle cx="408.8" cy="305.6" r="0.95"/><circle cx="409.3" cy="306.5" r="0.95"/><circle cx="409.9" cy="302.9" r="0.95"/><circle cx="410.4" cy="304.2" r="0.95"/><circle cx="411.0" cy="303.2" r="0.95"/><circle cx="411.5" cy="300.2" r="0.95"/><circle cx="412.0" cy="302.1" r="0.95"/><circle cx="412.5" cy="300.5" r="0.95"/><circle cx="413.0" cy="301.2" r="0.95"/><circle cx="413.5" cy="299.4" r="0.95"/><circle cx="414.0" cy="300.4" r="0.95"/><circle cx="414.5" cy="298.0" r="0.95"/><circle cx="415.0" cy="297.1" r="0.95"/><circle cx="415.5" cy="298.1" r="0.95"/><circle cx="416.0" cy="298.7" r="0.95"/><circle cx="416.5" cy="296.4" r="0.95"/><circle cx="417.0" cy="297.3" r="0.95"/><circle cx="417.5" cy="295.8" r="0.95"/><circle cx="418.0" cy="295.8" r="0.95"/><circle cx="418.5" cy="296.1" r="0.95"/><circle cx="419.0" cy="296.3" r="0.95"/><circle cx="419.5" cy="295.1" r="0.95"/><circle cx="420.1" cy="295.9" r="0.95"/><circle cx="420.6" cy="294.7" r="0.95"/><circle cx="421.1" cy="292.4" r="0.95"/><circle cx="421.6" cy="293.7" r="0.95"/><circle cx="422.2" cy="291.6" r="0.95"/><circle cx="422.7" cy="291.7" r="0.95"/><circle cx="423.2" cy="292.2" r="0.95"/><circle cx="423.8" cy="291.4" r="0.95"/><circle cx="424.3" cy="291.7" r="0.95"/><circle cx="424.8" cy="291.1" r="0.95"/><circle cx="425.4" cy="292.5" r="0.95"/><circle cx="425.9" cy="291.9" r="0.95"/><circle cx="426.4" cy="292.2" r="0.95"/><circle cx="426.9" cy="292.5" r="0.95"/><circle cx="427.5" cy="292.3" r="0.95"/><circle cx="428.0" cy="292.6" r="0.95"/><circle cx="428.6" cy="291.2" r="0.95"/><circle cx="429.1" cy="291.7" r="0.95"/><circle cx="429.6" cy="292.3" r="0.95"/><circle cx="430.2" cy="292.2" r="0.95"/><circle cx="430.8" cy="292.2" r="0.95"/><circle cx="431.3" cy="293.8" r="0.95"/><circle cx="431.8" cy="293.2" r="0.95"/><circle cx="432.4" cy="292.5" r="0.95"/><circle cx="432.9" cy="293.2" r="0.95"/><circle cx="433.4" cy="291.0" r="0.95"/><circle cx="433.9" cy="290.6" r="0.95"/><circle cx="434.5" cy="289.5" r="0.95"/><circle cx="435.0" cy="290.1" r="0.95"/><circle cx="435.5" cy="288.8" r="0.95"/><circle cx="436.0" cy="286.6" r="0.95"/><circle cx="436.5" cy="288.0" r="0.95"/><circle cx="437.0" cy="286.0" r="0.95"/><circle cx="437.5" cy="285.6" r="0.95"/><circle cx="438.0" cy="284.6" r="0.95"/><circle cx="438.5" cy="285.5" r="0.95"/><circle cx="439.0" cy="284.8" r="0.95"/><circle cx="439.5" cy="283.4" r="0.95"/><circle cx="440.0" cy="285.0" r="0.95"/><circle cx="440.5" cy="282.7" r="0.95"/><circle cx="441.1" cy="279.9" r="0.95"/><circle cx="441.6" cy="279.9" r="0.95"/><circle cx="442.2" cy="277.0" r="0.95"/><circle cx="442.8" cy="274.9" r="0.95"/><circle cx="443.4" cy="276.8" r="0.95"/><circle cx="443.9" cy="277.9" r="0.95"/><circle cx="444.4" cy="279.3" r="0.95"/><circle cx="445.0" cy="279.7" r="0.95"/><circle cx="445.6" cy="282.4" r="0.95"/><circle cx="446.2" cy="282.1" r="0.95"/><circle cx="446.8" cy="283.1" r="0.95"/><circle cx="447.4" cy="281.7" r="0.95"/><circle cx="447.9" cy="282.1" r="0.95"/><circle cx="448.4" cy="280.9" r="0.95"/><circle cx="449.0" cy="280.7" r="0.95"/><circle cx="449.5" cy="280.4" r="0.95"/><circle cx="450.0" cy="278.3" r="0.95"/><circle cx="450.5" cy="279.2" r="0.95"/><circle cx="451.1" cy="278.6" r="0.95"/><circle cx="451.6" cy="276.3" r="0.95"/><circle cx="452.1" cy="278.0" r="0.95"/><circle cx="452.7" cy="276.9" r="0.95"/><circle cx="453.2" cy="275.3" r="0.95"/><circle cx="453.8" cy="276.6" r="0.95"/><circle cx="454.3" cy="273.7" r="0.95"/><circle cx="454.8" cy="274.9" r="0.95"/><circle cx="455.4" cy="275.4" r="0.95"/><circle cx="455.9" cy="274.8" r="0.95"/><circle cx="456.4" cy="275.0" r="0.95"/><circle cx="456.9" cy="273.5" r="0.95"/><circle cx="457.5" cy="274.5" r="0.95"/><circle cx="458.0" cy="271.7" r="0.95"/><circle cx="458.5" cy="273.7" r="0.95"/><circle cx="459.0" cy="271.6" r="0.95"/><circle cx="459.5" cy="272.7" r="0.95"/><circle cx="460.0" cy="273.4" r="0.95"/><circle cx="460.5" cy="271.7" r="0.95"/><circle cx="461.0" cy="272.5" r="0.95"/><circle cx="461.5" cy="271.8" r="0.95"/><circle cx="462.0" cy="272.0" r="0.95"/><circle cx="462.5" cy="269.3" r="0.95"/><circle cx="463.1" cy="270.4" r="0.95"/><circle cx="463.6" cy="270.7" r="0.95"/><circle cx="464.2" cy="270.6" r="0.95"/><circle cx="464.7" cy="271.0" r="0.95"/><circle cx="465.3" cy="268.5" r="0.95"/><circle cx="465.8" cy="269.3" r="0.95"/><circle cx="466.3" cy="269.5" r="0.95"/><circle cx="466.9" cy="268.7" r="0.95"/><circle cx="467.4" cy="270.1" r="0.95"/><circle cx="467.9" cy="268.9" r="0.95"/><circle cx="468.4" cy="267.5" r="0.95"/><circle cx="468.9" cy="269.1" r="0.95"/><circle cx="469.5" cy="269.3" r="0.95"/><circle cx="470.0" cy="269.1" r="0.95"/><circle cx="470.5" cy="268.7" r="0.95"/><circle cx="471.0" cy="268.8" r="0.95"/><circle cx="471.5" cy="270.1" r="0.95"/><circle cx="472.0" cy="269.8" r="0.95"/><circle cx="472.5" cy="270.0" r="0.95"/><circle cx="473.0" cy="270.6" r="0.95"/><circle cx="473.5" cy="268.7" r="0.95"/><circle cx="474.0" cy="270.6" r="0.95"/><circle cx="474.5" cy="271.2" r="0.95"/><circle cx="475.0" cy="271.1" r="0.95"/><circle cx="475.5" cy="271.1" r="0.95"/><circle cx="476.0" cy="269.0" r="0.95"/><circle cx="476.5" cy="269.5" r="0.95"/><circle cx="477.0" cy="269.0" r="0.95"/><circle cx="477.5" cy="268.4" r="0.95"/><circle cx="478.0" cy="267.1" r="0.95"/><circle cx="478.5" cy="266.5" r="0.95"/><circle cx="479.0" cy="267.2" r="0.95"/><circle cx="479.5" cy="264.9" r="0.95"/><circle cx="480.1" cy="265.0" r="0.95"/><circle cx="480.6" cy="264.3" r="0.95"/><circle cx="481.1" cy="266.0" r="0.95"/><circle cx="481.6" cy="265.7" r="0.95"/><circle cx="482.2" cy="264.1" r="0.95"/><circle cx="482.7" cy="264.0" r="0.95"/><circle cx="483.2" cy="264.8" r="0.95"/><circle cx="483.8" cy="264.2" r="0.95"/><circle cx="484.3" cy="263.3" r="0.95"/><circle cx="484.8" cy="264.7" r="0.95"/><circle cx="485.4" cy="263.4" r="0.95"/><circle cx="485.9" cy="262.1" r="0.95"/><circle cx="486.4" cy="262.8" r="0.95"/><circle cx="486.9" cy="262.7" r="0.95"/><circle cx="487.5" cy="262.1" r="0.95"/><circle cx="488.0" cy="263.4" r="0.95"/><circle cx="488.5" cy="263.1" r="0.95"/><circle cx="489.0" cy="263.5" r="0.95"/><circle cx="489.5" cy="264.0" r="0.95"/><circle cx="490.0" cy="261.9" r="0.95"/><circle cx="490.5" cy="262.0" r="0.95"/><circle cx="491.0" cy="263.0" r="0.95"/><circle cx="491.5" cy="263.2" r="0.95"/><circle cx="492.0" cy="263.0" r="0.95"/><circle cx="492.5" cy="261.0" r="0.95"/><circle cx="493.1" cy="263.0" r="0.95"/><circle cx="493.6" cy="261.2" r="0.95"/><circle cx="494.2" cy="260.5" r="0.95"/><circle cx="494.7" cy="262.9" r="0.95"/><circle cx="495.3" cy="260.3" r="0.95"/><circle cx="495.8" cy="262.5" r="0.95"/><circle cx="496.3" cy="260.5" r="0.95"/><circle cx="496.9" cy="260.6" r="0.95"/><circle cx="497.4" cy="262.7" r="0.95"/><circle cx="497.9" cy="262.3" r="0.95"/><circle cx="498.4" cy="263.0" r="0.95"/><circle cx="498.9" cy="260.5" r="0.95"/><circle cx="499.5" cy="262.4" r="0.95"/><circle cx="500.0" cy="261.8" r="0.95"/><circle cx="500.5" cy="260.9" r="0.95"/><circle cx="501.0" cy="260.8" r="0.95"/><circle cx="501.5" cy="261.4" r="0.95"/><circle cx="502.0" cy="259.9" r="0.95"/><circle cx="502.5" cy="260.7" r="0.95"/><circle cx="503.0" cy="260.3" r="0.95"/><circle cx="503.5" cy="259.5" r="0.95"/><circle cx="504.1" cy="258.2" r="0.95"/><circle cx="504.6" cy="258.4" r="0.95"/><circle cx="505.1" cy="259.8" r="0.95"/><circle cx="505.7" cy="260.8" r="0.95"/><circle cx="506.2" cy="261.4" r="0.95"/></g>
<path d="M395.0,229.7 V323.5 H514.0" fill="none" stroke="#231f20" stroke-width="1.1"/>
<path d="M391.6,323.5 H395.0" stroke="#231f20" stroke-width="1"/>
<text x="384.91" y="326.30" font-size="7.9" fill="#231f20" class="k">0</text>
<path d="M391.6,301.5 H395.0" stroke="#231f20" stroke-width="1"/>
<text x="376.13" y="304.30" font-size="7.9" fill="#231f20" class="k">200</text>
<path d="M391.6,279.3 H395.0" stroke="#231f20" stroke-width="1"/>
<text x="376.13" y="282.10" font-size="7.9" fill="#231f20" class="k">400</text>
<path d="M391.6,257.0 H395.0" stroke="#231f20" stroke-width="1"/>
<text x="376.13" y="259.80" font-size="7.9" fill="#231f20" class="k">600</text>
<path d="M391.6,234.7 H395.0" stroke="#231f20" stroke-width="1"/>
<text x="376.13" y="237.50" font-size="7.9" fill="#231f20" class="k">800</text>
<path d="M395.1,323.5 V326.5" stroke="#231f20" stroke-width="1"/>
<text x="392.90" y="335.30" font-size="7.9" fill="#231f20" class="k">0</text>
<path d="M432.0,323.5 V326.5" stroke="#231f20" stroke-width="1"/>
<text x="427.60" y="335.30" font-size="7.9" fill="#231f20" class="k">50</text>
<path d="M468.9,323.5 V326.5" stroke="#231f20" stroke-width="1"/>
<text x="462.16" y="335.30" font-size="7.9" fill="#231f20" class="k">100</text>
<path d="M506.1,323.5 V326.5" stroke="#231f20" stroke-width="1"/>
<text x="499.36" y="335.30" font-size="7.9" fill="#231f20" class="k">150</text>
<text x="446.69" y="251.20" font-size="8.2" fill="#231f20" class="k" textLength="42.66" lengthAdjust="spacingAndGlyphs" >APC Ab1609</text>
<text x="478.47" y="306.60" font-size="8.2" fill="#231f20" class="k" textLength="23.86" lengthAdjust="spacingAndGlyphs" >Vehicle</text>
<text x="437.64" y="348.30" font-size="8.8" fill="#231f20" class="k" textLength="34.31" lengthAdjust="spacingAndGlyphs" >Time (sec)</text>
<text transform="translate(370.20,305.44) rotate(-90)" font-size="8.8" fill="#231f20" class="k" textLength="58.53" lengthAdjust="spacingAndGlyphs">Fibrin area (μm<tspan font-size="5.46" dy="-3.34">2</tspan><tspan dy="3.34">)</tspan></text>
<text x="7.12" y="377.00" font-size="10" fill="#000" font-weight="bold" textLength="7.73" lengthAdjust="spacingAndGlyphs" >E</text>
<rect x="60.1" y="453.7" width="34.50" height="17.60" fill="#c8102e"/>
<rect x="111.8" y="397.3" width="34.50" height="74.00" fill="#14508a"/>
<path d="M68.9,452.0 H85.8 M77.4,452.0 V456.3 M68.9,456.3 H85.8" stroke="#231f20" stroke-width="1.15" fill="none"/>
<path d="M120.1,388.4 H137.7 M128.9,388.4 V406.1 M120.1,406.1 H137.7" stroke="#231f20" stroke-width="1.15" fill="none"/>
<path d="M50.6,377.8 V471.3 H154.6 M50.6,471.3 V474" fill="none" stroke="#231f20" stroke-width="1.1"/>
<path d="M47.2,471.3 H50.6" stroke="#231f20" stroke-width="1"/>
<text x="40.71" y="474.10" font-size="7.9" fill="#231f20" class="k">0</text>
<path d="M47.2,453.4 H50.6" stroke="#231f20" stroke-width="1"/>
<text x="23.14" y="456.20" font-size="7.9" fill="#231f20" class="k">50000</text>
<path d="M47.2,435.6 H50.6" stroke="#231f20" stroke-width="1"/>
<text x="18.75" y="438.40" font-size="7.9" fill="#231f20" class="k">100000</text>
<path d="M47.2,418.0 H50.6" stroke="#231f20" stroke-width="1"/>
<text x="18.75" y="420.80" font-size="7.9" fill="#231f20" class="k">150000</text>
<path d="M47.2,400.4 H50.6" stroke="#231f20" stroke-width="1"/>
<text x="18.75" y="403.20" font-size="7.9" fill="#231f20" class="k">200000</text>
<path d="M47.2,382.8 H50.6" stroke="#231f20" stroke-width="1"/>
<text x="18.75" y="385.60" font-size="7.9" fill="#231f20" class="k">250000</text>
<path d="M78.2,385.40000000000003 V382.3 H128.4 V385.40000000000003" fill="none" stroke="#231f20" stroke-width="1"/>
<text x="85.78" y="378.60" font-size="8.0" fill="#231f20" class="k" textLength="34.02" lengthAdjust="spacingAndGlyphs" >p&lt;0.0001</text>
<text x="63.86" y="482.00" font-size="8.2" fill="#231f20" class="k" textLength="26.29" lengthAdjust="spacingAndGlyphs" >Vehicle</text>
<text x="105.98" y="482.00" font-size="8.2" fill="#231f20" class="k" textLength="46.40" lengthAdjust="spacingAndGlyphs" >APC Ab1609</text>
<text transform="translate(14.60,445.91) rotate(-90)" font-size="8.8" fill="#231f20" class="k" textLength="42.90" lengthAdjust="spacingAndGlyphs">Platelet AUC</text>
<text x="181.77" y="377.00" font-size="10" fill="#000" font-weight="bold" textLength="7.59" lengthAdjust="spacingAndGlyphs" >F</text>
<rect x="232.1" y="462.7" width="34.50" height="8.60" fill="#c8102e"/>
<rect x="284.2" y="414.1" width="34.00" height="57.20" fill="#14508a"/>
<path d="M240.7,461.2 H257.8 M249.2,461.2 V464.2 M240.7,464.2 H257.8" stroke="#231f20" stroke-width="1.15" fill="none"/>
<path d="M293.0,400.8 H310.0 M301.5,400.8 V427.5 M293.0,427.5 H310.0" stroke="#231f20" stroke-width="1.15" fill="none"/>
<path d="M223.3,377.8 V471.3 H327.0 M223.3,471.3 V474" fill="none" stroke="#231f20" stroke-width="1.1"/>
<path d="M219.9,471.3 H223.3" stroke="#231f20" stroke-width="1"/>
<text x="213.41" y="474.10" font-size="7.9" fill="#231f20" class="k">0</text>
<path d="M219.9,453.4 H223.3" stroke="#231f20" stroke-width="1"/>
<text x="195.84" y="456.20" font-size="7.9" fill="#231f20" class="k">25000</text>
<path d="M219.9,435.6 H223.3" stroke="#231f20" stroke-width="1"/>
<text x="195.84" y="438.40" font-size="7.9" fill="#231f20" class="k">50000</text>
<path d="M219.9,418.0 H223.3" stroke="#231f20" stroke-width="1"/>
<text x="195.84" y="420.80" font-size="7.9" fill="#231f20" class="k">75000</text>
<path d="M219.9,400.4 H223.3" stroke="#231f20" stroke-width="1"/>
<text x="191.45" y="403.20" font-size="7.9" fill="#231f20" class="k">100000</text>
<path d="M219.9,382.8 H223.3" stroke="#231f20" stroke-width="1"/>
<text x="191.45" y="385.60" font-size="7.9" fill="#231f20" class="k">125000</text>
<path d="M247.2,384.70000000000005 V381.6 H301.1 V384.70000000000005" fill="none" stroke="#231f20" stroke-width="1"/>
<text x="256.47" y="378.60" font-size="8.0" fill="#231f20" class="k" textLength="34.43" lengthAdjust="spacingAndGlyphs" >p&lt;0.0001</text>
<text x="237.07" y="482.00" font-size="8.2" fill="#231f20" class="k" textLength="25.38" lengthAdjust="spacingAndGlyphs" >Vehicle</text>
<text x="278.38" y="482.00" font-size="8.2" fill="#231f20" class="k" textLength="45.99" lengthAdjust="spacingAndGlyphs" >APC Ab1609</text>
<text transform="translate(189.90,440.57) rotate(-90)" font-size="8.8" fill="#231f20" class="k" textLength="32.23" lengthAdjust="spacingAndGlyphs">P-sel AUC</text>
<text x="352.62" y="377.00" font-size="10" fill="#000" font-weight="bold" textLength="9.11" lengthAdjust="spacingAndGlyphs" >G</text>
<rect x="403.9" y="456.2" width="34.00" height="15.10" fill="#c8102e"/>
<rect x="456.0" y="408.3" width="34.00" height="63.00" fill="#14508a"/>
<path d="M412.2,453.7 H429.5 M420.8,453.7 V459.2 M412.2,459.2 H429.5" stroke="#231f20" stroke-width="1.15" fill="none"/>
<path d="M464.3,395.2 H481.2 M472.7,395.2 V420.9 M464.3,420.9 H481.2" stroke="#231f20" stroke-width="1.15" fill="none"/>
<path d="M395.1,377.8 V471.3 H498.8 M395.1,471.3 V474" fill="none" stroke="#231f20" stroke-width="1.1"/>
<path d="M391.70000000000005,471.3 H395.1" stroke="#231f20" stroke-width="1"/>
<text x="385.21" y="474.10" font-size="7.9" fill="#231f20" class="k">0</text>
<path d="M391.70000000000005,449.2 H395.1" stroke="#231f20" stroke-width="1"/>
<text x="367.64" y="452.00" font-size="7.9" fill="#231f20" class="k">20000</text>
<path d="M391.70000000000005,426.9 H395.1" stroke="#231f20" stroke-width="1"/>
<text x="367.64" y="429.70" font-size="7.9" fill="#231f20" class="k">40000</text>
<path d="M391.70000000000005,404.6 H395.1" stroke="#231f20" stroke-width="1"/>
<text x="367.64" y="407.40" font-size="7.9" fill="#231f20" class="k">60000</text>
<path d="M391.70000000000005,382.6 H395.1" stroke="#231f20" stroke-width="1"/>
<text x="367.64" y="385.40" font-size="7.9" fill="#231f20" class="k">80000</text>
<path d="M419.7,384.70000000000005 V381.6 H473.1 V384.70000000000005" fill="none" stroke="#231f20" stroke-width="1"/>
<text x="428.45" y="378.60" font-size="8.0" fill="#231f20" class="k" textLength="35.78" lengthAdjust="spacingAndGlyphs" >p=0.0002</text>
<text x="408.07" y="482.00" font-size="8.2" fill="#231f20" class="k" textLength="25.58" lengthAdjust="spacingAndGlyphs" >Vehicle</text>
<text x="449.98" y="482.00" font-size="8.2" fill="#231f20" class="k" textLength="45.69" lengthAdjust="spacingAndGlyphs" >APC Ab1609</text>
<text transform="translate(361.20,442.00) rotate(-90)" font-size="8.8" fill="#231f20" class="k" textLength="35.57" lengthAdjust="spacingAndGlyphs">Fibrin AUC</text>
<rect x="0.5" y="0.5" width="519" height="487" fill="none" stroke="#000" stroke-width="1"/>
</svg></body></html>
